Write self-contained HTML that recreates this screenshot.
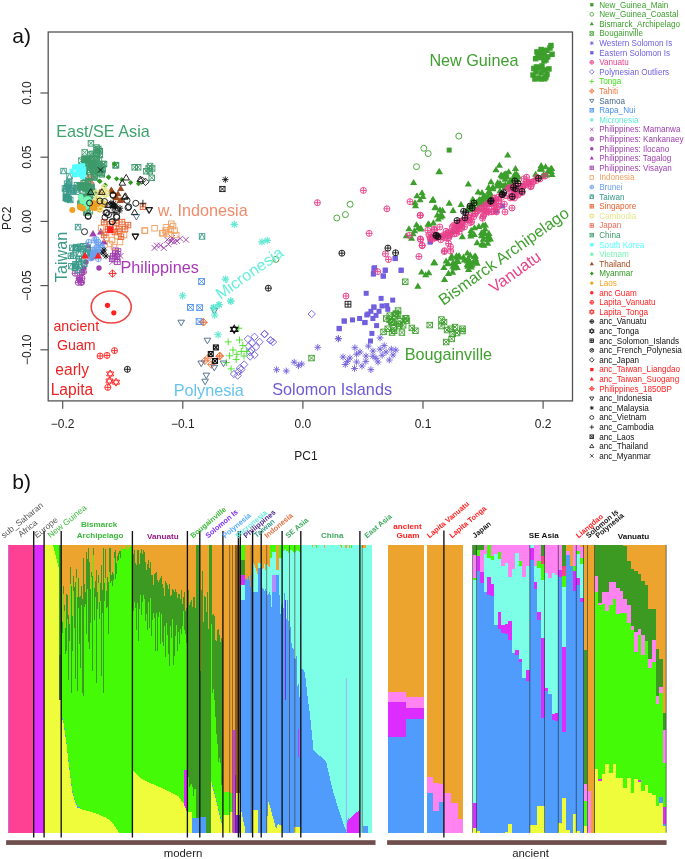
<!DOCTYPE html>
<html><head><meta charset="utf-8"><style>
html,body{margin:0;padding:0;background:#fff;}
svg{display:block;font-family:"Liberation Sans",sans-serif;will-change:transform;}
</style></head><body>
<svg width="685" height="859" viewBox="0 0 685 859">
<rect width="685" height="859" fill="#fff"/>
<g shape-rendering="crispEdges">
<rect x="8.2" y="545" width="0.9" height="287.8" fill="#c86ad8"/>
<rect x="9" y="545" width="1.1" height="287.8" fill="#ff4193"/>
<rect x="10" y="545" width="1.1" height="287.8" fill="#ff4193"/>
<rect x="11" y="545" width="1.1" height="287.8" fill="#ff4193"/>
<rect x="12" y="545" width="1.1" height="287.8" fill="#ff4193"/>
<rect x="13" y="545" width="1.1" height="287.8" fill="#ff4193"/>
<rect x="14" y="545" width="1.1" height="287.8" fill="#ff4193"/>
<rect x="15" y="545" width="1.1" height="287.8" fill="#ff4193"/>
<rect x="16" y="545" width="1.1" height="287.8" fill="#ff4193"/>
<rect x="17" y="545" width="1.1" height="287.8" fill="#ff4193"/>
<rect x="18" y="545" width="1.1" height="287.8" fill="#ff4193"/>
<rect x="19" y="545" width="1.1" height="287.8" fill="#ff4193"/>
<rect x="20" y="545" width="1.1" height="287.8" fill="#ff4193"/>
<rect x="21" y="545" width="1.1" height="287.8" fill="#ff4193"/>
<rect x="22" y="545" width="1.1" height="287.8" fill="#ff4193"/>
<rect x="23" y="545" width="1.1" height="287.8" fill="#ff4193"/>
<rect x="24" y="545" width="1.1" height="287.8" fill="#ff4193"/>
<rect x="25" y="545" width="1.1" height="287.8" fill="#ff4193"/>
<rect x="26" y="545" width="1.1" height="287.8" fill="#ff4193"/>
<rect x="27" y="545" width="1.1" height="287.8" fill="#ff4193"/>
<rect x="28" y="545" width="1.1" height="287.8" fill="#ff4193"/>
<rect x="29" y="545" width="1.1" height="287.8" fill="#ff4193"/>
<rect x="30" y="545" width="1.1" height="287.8" fill="#ff4193"/>
<rect x="31" y="545" width="1.1" height="287.8" fill="#ff4193"/>
<rect x="32" y="545" width="1.1" height="287.8" fill="#ff4193"/>
<rect x="33" y="545" width="1.1" height="287.8" fill="#ff4193"/>
<rect x="34" y="545" width="1.1" height="287.8" fill="#dc2cff"/>
<rect x="35" y="545" width="1.1" height="287.8" fill="#dc2cff"/>
<rect x="36" y="545" width="1.1" height="287.8" fill="#dc2cff"/>
<rect x="37" y="545" width="1.1" height="287.8" fill="#dc2cff"/>
<rect x="38" y="545" width="1.1" height="287.8" fill="#dc2cff"/>
<rect x="39" y="545" width="1.1" height="287.8" fill="#dc2cff"/>
<rect x="40" y="545" width="1.1" height="287.8" fill="#dc2cff"/>
<rect x="41" y="545" width="1.1" height="287.8" fill="#dc2cff"/>
<rect x="42" y="545" width="1.1" height="287.8" fill="#dc2cff"/>
<rect x="43" y="545" width="1.1" height="287.8" fill="#dc2cff"/>
<rect x="44" y="545" width="1.1" height="287.8" fill="#eefc3c"/>
<rect x="45" y="545" width="1.1" height="287.8" fill="#eefc3c"/>
<rect x="46" y="545" width="1.1" height="287.8" fill="#eefc3c"/>
<rect x="47" y="545" width="1.1" height="287.8" fill="#eefc3c"/>
<rect x="48" y="545" width="1.1" height="287.8" fill="#eefc3c"/>
<rect x="49" y="545" width="1.1" height="287.8" fill="#eefc3c"/>
<rect x="50" y="545" width="1.1" height="287.8" fill="#eefc3c"/>
<rect x="51" y="545" width="1.1" height="287.8" fill="#eefc3c"/>
<rect x="52" y="545" width="1.1" height="287.8" fill="#eefc3c"/>
<rect x="53" y="545" width="1.1" height="2.1" fill="#45fa06"/>
<rect x="53" y="547" width="1.1" height="285.7" fill="#eefc3c"/>
<rect x="54" y="545" width="1.1" height="6.1" fill="#45fa06"/>
<rect x="54" y="551" width="1.1" height="281.7" fill="#eefc3c"/>
<rect x="55" y="545" width="1.1" height="10.1" fill="#45fa06"/>
<rect x="55" y="555.1" width="1.1" height="277.7" fill="#eefc3c"/>
<rect x="56" y="545" width="1.1" height="14.2" fill="#45fa06"/>
<rect x="56" y="559.1" width="1.1" height="273.6" fill="#eefc3c"/>
<rect x="57" y="545" width="1.1" height="18.2" fill="#45fa06"/>
<rect x="57" y="563.1" width="1.1" height="269.6" fill="#eefc3c"/>
<rect x="58" y="545" width="1.1" height="22.2" fill="#45fa06"/>
<rect x="58" y="567.2" width="1.1" height="265.6" fill="#eefc3c"/>
<rect x="59" y="545" width="1.1" height="110" fill="#3c9a22"/>
<rect x="59" y="655" width="1.1" height="45" fill="#2f6a40"/>
<rect x="59" y="700" width="1.1" height="132.8" fill="#eefc3c"/>
<rect x="60" y="545" width="1.1" height="110" fill="#3c9a22"/>
<rect x="60" y="655" width="1.1" height="45" fill="#2f6a40"/>
<rect x="60" y="700" width="1.1" height="132.8" fill="#eefc3c"/>
<rect x="61" y="545" width="1.1" height="64" fill="#eca42e"/>
<rect x="61" y="609" width="1.1" height="19" fill="#3c9a22"/>
<rect x="61" y="628" width="1.1" height="88" fill="#45fa06"/>
<rect x="61" y="715.9" width="1.1" height="1.6" fill="#4f9cfc"/>
<rect x="61" y="717.4" width="1.1" height="115.3" fill="#eefc3c"/>
<rect x="62" y="545" width="1.1" height="77.3" fill="#eca42e"/>
<rect x="62" y="622.3" width="1.1" height="10.6" fill="#3c9a22"/>
<rect x="62" y="632.8" width="1.1" height="85.2" fill="#45fa06"/>
<rect x="62" y="718" width="1.1" height="1.6" fill="#4f9cfc"/>
<rect x="62" y="719.5" width="1.1" height="113.2" fill="#eefc3c"/>
<rect x="63" y="545" width="1.1" height="41.3" fill="#eca42e"/>
<rect x="63" y="586.2" width="1.1" height="7.8" fill="#3c9a22"/>
<rect x="63" y="593.9" width="1.1" height="127.6" fill="#45fa06"/>
<rect x="63" y="721.5" width="1.1" height="1.6" fill="#4f9cfc"/>
<rect x="63" y="723" width="1.1" height="109.7" fill="#eefc3c"/>
<rect x="64" y="545" width="1.1" height="60.1" fill="#eca42e"/>
<rect x="64" y="605" width="1.1" height="6.3" fill="#3c9a22"/>
<rect x="64" y="611.3" width="1.1" height="117.1" fill="#45fa06"/>
<rect x="64" y="728.3" width="1.1" height="1.6" fill="#4f9cfc"/>
<rect x="64" y="729.8" width="1.1" height="102.9" fill="#eefc3c"/>
<rect x="65" y="545" width="1.1" height="83.4" fill="#eca42e"/>
<rect x="65" y="628.3" width="1.1" height="25.8" fill="#3c9a22"/>
<rect x="65" y="654.1" width="1.1" height="81.1" fill="#45fa06"/>
<rect x="65" y="735.1" width="1.1" height="1.6" fill="#4f9cfc"/>
<rect x="65" y="736.6" width="1.1" height="96.1" fill="#eefc3c"/>
<rect x="66" y="545" width="1.1" height="49.3" fill="#eca42e"/>
<rect x="66" y="594.2" width="1.1" height="56.4" fill="#3c9a22"/>
<rect x="66" y="650.5" width="1.1" height="92.4" fill="#45fa06"/>
<rect x="66" y="742.8" width="1.1" height="1.6" fill="#4f9cfc"/>
<rect x="66" y="744.3" width="1.1" height="88.4" fill="#eefc3c"/>
<rect x="67" y="545" width="1.1" height="50.2" fill="#eca42e"/>
<rect x="67" y="595.1" width="1.1" height="24.3" fill="#3c9a22"/>
<rect x="67" y="619.4" width="1.1" height="132.2" fill="#45fa06"/>
<rect x="67" y="751.5" width="1.1" height="1.6" fill="#4f9cfc"/>
<rect x="67" y="753" width="1.1" height="79.7" fill="#eefc3c"/>
<rect x="68" y="545" width="1.1" height="70.1" fill="#eca42e"/>
<rect x="68" y="615.1" width="1.1" height="64.9" fill="#3c9a22"/>
<rect x="68" y="679.9" width="1.1" height="80.4" fill="#45fa06"/>
<rect x="68" y="760.2" width="1.1" height="1.6" fill="#4f9cfc"/>
<rect x="68" y="761.7" width="1.1" height="71" fill="#eefc3c"/>
<rect x="69" y="545" width="1.1" height="78.5" fill="#eca42e"/>
<rect x="69" y="623.5" width="1.1" height="17.5" fill="#3c9a22"/>
<rect x="69" y="640.9" width="1.1" height="127.5" fill="#45fa06"/>
<rect x="69" y="768.4" width="1.1" height="1.6" fill="#4f9cfc"/>
<rect x="69" y="769.9" width="1.1" height="62.9" fill="#eefc3c"/>
<rect x="70" y="545" width="1.1" height="22" fill="#eca42e"/>
<rect x="70" y="567" width="1.1" height="17.1" fill="#3c9a22"/>
<rect x="70" y="584" width="1.1" height="192.6" fill="#45fa06"/>
<rect x="70" y="776.5" width="1.1" height="1.6" fill="#4f9cfc"/>
<rect x="70" y="778" width="1.1" height="54.8" fill="#eefc3c"/>
<rect x="71" y="545" width="1.1" height="40.7" fill="#eca42e"/>
<rect x="71" y="585.6" width="1.1" height="107.3" fill="#3c9a22"/>
<rect x="71" y="692.8" width="1.1" height="91.7" fill="#45fa06"/>
<rect x="71" y="784.4" width="1.1" height="1.6" fill="#4f9cfc"/>
<rect x="71" y="785.9" width="1.1" height="46.8" fill="#eefc3c"/>
<rect x="72" y="545" width="1.1" height="71.1" fill="#eca42e"/>
<rect x="72" y="616.1" width="1.1" height="34.5" fill="#3c9a22"/>
<rect x="72" y="650.5" width="1.1" height="140.7" fill="#45fa06"/>
<rect x="72" y="791.1" width="1.1" height="1.6" fill="#4f9cfc"/>
<rect x="72" y="792.6" width="1.1" height="40.1" fill="#eefc3c"/>
<rect x="73" y="545" width="1.1" height="31" fill="#eca42e"/>
<rect x="73" y="576" width="1.1" height="15" fill="#3c9a22"/>
<rect x="73" y="590.9" width="1.1" height="204" fill="#45fa06"/>
<rect x="73" y="794.9" width="1.1" height="1.6" fill="#4f9cfc"/>
<rect x="73" y="796.4" width="1.1" height="36.4" fill="#eefc3c"/>
<rect x="74" y="545" width="1.1" height="41.9" fill="#eca42e"/>
<rect x="74" y="586.9" width="1.1" height="41.2" fill="#3c9a22"/>
<rect x="74" y="628.1" width="1.1" height="170.6" fill="#45fa06"/>
<rect x="74" y="798.6" width="1.1" height="1.6" fill="#4f9cfc"/>
<rect x="74" y="800.1" width="1.1" height="32.6" fill="#eefc3c"/>
<rect x="75" y="545" width="1.1" height="37.2" fill="#eca42e"/>
<rect x="75" y="582.1" width="1.1" height="96.5" fill="#3c9a22"/>
<rect x="75" y="678.6" width="1.1" height="123.1" fill="#45fa06"/>
<rect x="75" y="801.6" width="1.1" height="1.6" fill="#4f9cfc"/>
<rect x="75" y="803.1" width="1.1" height="29.7" fill="#eefc3c"/>
<rect x="76" y="545" width="1.1" height="24.1" fill="#eca42e"/>
<rect x="76" y="569" width="1.1" height="8.5" fill="#3c9a22"/>
<rect x="76" y="577.5" width="1.1" height="226.3" fill="#45fa06"/>
<rect x="76" y="803.8" width="1.1" height="1.6" fill="#4f9cfc"/>
<rect x="76" y="805.3" width="1.1" height="27.5" fill="#eefc3c"/>
<rect x="77" y="545" width="1.1" height="51.7" fill="#eca42e"/>
<rect x="77" y="596.7" width="1.1" height="94.2" fill="#3c9a22"/>
<rect x="77" y="690.8" width="1.1" height="115.2" fill="#45fa06"/>
<rect x="77" y="806" width="1.1" height="1.6" fill="#4f9cfc"/>
<rect x="77" y="807.5" width="1.1" height="25.3" fill="#eefc3c"/>
<rect x="78" y="545" width="1.1" height="32.5" fill="#eca42e"/>
<rect x="78" y="577.5" width="1.1" height="30.7" fill="#3c9a22"/>
<rect x="78" y="608.1" width="1.1" height="198.5" fill="#45fa06"/>
<rect x="78" y="806.5" width="1.1" height="1.6" fill="#4f9cfc"/>
<rect x="78" y="808" width="1.1" height="24.7" fill="#eefc3c"/>
<rect x="79" y="545" width="1.1" height="51.6" fill="#eca42e"/>
<rect x="79" y="596.5" width="1.1" height="47.2" fill="#3c9a22"/>
<rect x="79" y="643.7" width="1.1" height="163.2" fill="#45fa06"/>
<rect x="79" y="806.9" width="1.1" height="1.6" fill="#4f9cfc"/>
<rect x="79" y="808.4" width="1.1" height="24.4" fill="#eefc3c"/>
<rect x="80" y="545" width="1.1" height="50.9" fill="#eca42e"/>
<rect x="80" y="595.8" width="1.1" height="72.3" fill="#3c9a22"/>
<rect x="80" y="668.1" width="1.1" height="140.7" fill="#45fa06"/>
<rect x="80" y="808.7" width="1.1" height="24" fill="#eefc3c"/>
<rect x="81" y="545" width="1.1" height="40.5" fill="#eca42e"/>
<rect x="81" y="585.5" width="1.1" height="19.6" fill="#3c9a22"/>
<rect x="81" y="605" width="1.1" height="204.2" fill="#45fa06"/>
<rect x="81" y="809.1" width="1.1" height="23.6" fill="#eefc3c"/>
<rect x="82" y="545" width="1.1" height="53.9" fill="#eca42e"/>
<rect x="82" y="598.8" width="1.1" height="93.9" fill="#3c9a22"/>
<rect x="82" y="692.7" width="1.1" height="116.8" fill="#45fa06"/>
<rect x="82" y="809.5" width="1.1" height="23.3" fill="#eefc3c"/>
<rect x="83" y="545" width="1.1" height="13" fill="#eca42e"/>
<rect x="83" y="557.9" width="1.1" height="138.1" fill="#3c9a22"/>
<rect x="83" y="696" width="1.1" height="113.9" fill="#45fa06"/>
<rect x="83" y="809.8" width="1.1" height="22.9" fill="#eefc3c"/>
<rect x="84" y="545" width="1.1" height="39.2" fill="#eca42e"/>
<rect x="84" y="584.1" width="1.1" height="23.2" fill="#3c9a22"/>
<rect x="84" y="607.2" width="1.1" height="202.9" fill="#45fa06"/>
<rect x="84" y="810.1" width="1.1" height="22.6" fill="#eefc3c"/>
<rect x="85" y="545" width="1.1" height="46.9" fill="#eca42e"/>
<rect x="85" y="591.8" width="1.1" height="12.2" fill="#3c9a22"/>
<rect x="85" y="604" width="1.1" height="206.4" fill="#45fa06"/>
<rect x="85" y="810.3" width="1.1" height="22.4" fill="#eefc3c"/>
<rect x="86" y="545" width="1.1" height="7.2" fill="#eca42e"/>
<rect x="86" y="552.1" width="1.1" height="82" fill="#3c9a22"/>
<rect x="86" y="634" width="1.1" height="176.6" fill="#45fa06"/>
<rect x="86" y="810.6" width="1.1" height="22.2" fill="#eefc3c"/>
<rect x="87" y="545" width="1.1" height="13.8" fill="#eca42e"/>
<rect x="87" y="558.8" width="1.1" height="30.6" fill="#3c9a22"/>
<rect x="87" y="589.4" width="1.1" height="221.5" fill="#45fa06"/>
<rect x="87" y="810.8" width="1.1" height="22" fill="#eefc3c"/>
<rect x="88" y="545" width="1.1" height="3" fill="#eca42e"/>
<rect x="88" y="548" width="1.1" height="93.6" fill="#3c9a22"/>
<rect x="88" y="641.5" width="1.1" height="169.5" fill="#45fa06"/>
<rect x="88" y="811" width="1.1" height="21.8" fill="#eefc3c"/>
<rect x="89" y="545" width="1.1" height="17.3" fill="#eca42e"/>
<rect x="89" y="562.3" width="1.1" height="86.7" fill="#3c9a22"/>
<rect x="89" y="649" width="1.1" height="162.3" fill="#45fa06"/>
<rect x="89" y="811.2" width="1.1" height="21.5" fill="#eefc3c"/>
<rect x="90" y="545" width="1.1" height="43.9" fill="#eca42e"/>
<rect x="90" y="588.9" width="1.1" height="34.5" fill="#3c9a22"/>
<rect x="90" y="623.3" width="1.1" height="188.2" fill="#45fa06"/>
<rect x="90" y="811.5" width="1.1" height="21.3" fill="#eefc3c"/>
<rect x="91" y="545" width="1.1" height="26.9" fill="#eca42e"/>
<rect x="91" y="571.9" width="1.1" height="5.6" fill="#3c9a22"/>
<rect x="91" y="577.4" width="1.1" height="234.5" fill="#45fa06"/>
<rect x="91" y="811.8" width="1.1" height="20.9" fill="#eefc3c"/>
<rect x="92" y="545" width="1.1" height="30.9" fill="#eca42e"/>
<rect x="92" y="575.9" width="1.1" height="95.1" fill="#3c9a22"/>
<rect x="92" y="670.9" width="1.1" height="141.4" fill="#45fa06"/>
<rect x="92" y="812.2" width="1.1" height="20.5" fill="#eefc3c"/>
<rect x="93" y="545" width="1.1" height="3" fill="#eca42e"/>
<rect x="93" y="548" width="1.1" height="7.3" fill="#3c9a22"/>
<rect x="93" y="555.3" width="1.1" height="257.4" fill="#45fa06"/>
<rect x="93" y="812.6" width="1.1" height="20.2" fill="#eefc3c"/>
<rect x="94" y="545" width="1.1" height="42.9" fill="#eca42e"/>
<rect x="94" y="587.8" width="1.1" height="32.1" fill="#3c9a22"/>
<rect x="94" y="619.8" width="1.1" height="193.2" fill="#45fa06"/>
<rect x="94" y="813" width="1.1" height="19.8" fill="#eefc3c"/>
<rect x="95" y="545" width="1.1" height="36.2" fill="#eca42e"/>
<rect x="95" y="581.2" width="1.1" height="15.6" fill="#3c9a22"/>
<rect x="95" y="596.7" width="1.1" height="216.7" fill="#45fa06"/>
<rect x="95" y="813.3" width="1.1" height="19.4" fill="#eefc3c"/>
<rect x="96" y="545" width="1.1" height="25" fill="#eca42e"/>
<rect x="96" y="569.9" width="1.1" height="113.4" fill="#3c9a22"/>
<rect x="96" y="683.2" width="1.1" height="130.5" fill="#45fa06"/>
<rect x="96" y="813.7" width="1.1" height="19" fill="#eefc3c"/>
<rect x="97" y="545" width="1.1" height="47.5" fill="#eca42e"/>
<rect x="97" y="592.4" width="1.1" height="16.5" fill="#3c9a22"/>
<rect x="97" y="608.9" width="1.1" height="205.2" fill="#45fa06"/>
<rect x="97" y="814.1" width="1.1" height="18.7" fill="#eefc3c"/>
<rect x="98" y="545" width="1.1" height="30.4" fill="#eca42e"/>
<rect x="98" y="575.4" width="1.1" height="7.5" fill="#3c9a22"/>
<rect x="98" y="582.8" width="1.1" height="231.7" fill="#45fa06"/>
<rect x="98" y="814.4" width="1.1" height="18.3" fill="#eefc3c"/>
<rect x="99" y="545" width="1.1" height="57.3" fill="#eca42e"/>
<rect x="99" y="602.3" width="1.1" height="16.7" fill="#3c9a22"/>
<rect x="99" y="618.9" width="1.1" height="196" fill="#45fa06"/>
<rect x="99" y="814.8" width="1.1" height="17.9" fill="#eefc3c"/>
<rect x="100" y="545" width="1.1" height="37.5" fill="#eca42e"/>
<rect x="100" y="582.5" width="1.1" height="18.3" fill="#3c9a22"/>
<rect x="100" y="600.7" width="1.1" height="214.6" fill="#45fa06"/>
<rect x="100" y="815.2" width="1.1" height="17.5" fill="#eefc3c"/>
<rect x="101" y="545" width="1.1" height="19.7" fill="#eca42e"/>
<rect x="101" y="564.7" width="1.1" height="111.3" fill="#3c9a22"/>
<rect x="101" y="675.9" width="1.1" height="139.8" fill="#45fa06"/>
<rect x="101" y="815.6" width="1.1" height="17.1" fill="#eefc3c"/>
<rect x="102" y="545" width="1.1" height="44.8" fill="#eca42e"/>
<rect x="102" y="589.8" width="1.1" height="23.5" fill="#3c9a22"/>
<rect x="102" y="613.2" width="1.1" height="202.9" fill="#45fa06"/>
<rect x="102" y="816.1" width="1.1" height="16.7" fill="#eefc3c"/>
<rect x="103" y="545" width="1.1" height="3" fill="#eca42e"/>
<rect x="103" y="548" width="1.1" height="144.5" fill="#3c9a22"/>
<rect x="103" y="692.5" width="1.1" height="124.1" fill="#45fa06"/>
<rect x="103" y="816.5" width="1.1" height="16.3" fill="#eefc3c"/>
<rect x="104" y="545" width="1.1" height="37.7" fill="#eca42e"/>
<rect x="104" y="582.6" width="1.1" height="18.3" fill="#3c9a22"/>
<rect x="104" y="600.9" width="1.1" height="216.1" fill="#45fa06"/>
<rect x="104" y="816.9" width="1.1" height="15.8" fill="#eefc3c"/>
<rect x="105" y="545" width="1.1" height="4.3" fill="#eca42e"/>
<rect x="105" y="549.2" width="1.1" height="29.2" fill="#3c9a22"/>
<rect x="105" y="578.4" width="1.1" height="239" fill="#45fa06"/>
<rect x="105" y="817.4" width="1.1" height="15.4" fill="#eefc3c"/>
<rect x="106" y="545" width="1.1" height="46.3" fill="#eca42e"/>
<rect x="106" y="591.3" width="1.1" height="16.6" fill="#3c9a22"/>
<rect x="106" y="607.8" width="1.1" height="210" fill="#45fa06"/>
<rect x="106" y="817.8" width="1.1" height="15" fill="#eefc3c"/>
<rect x="107" y="545" width="1.1" height="31.6" fill="#eca42e"/>
<rect x="107" y="576.5" width="1.1" height="30.2" fill="#3c9a22"/>
<rect x="107" y="606.6" width="1.1" height="211.9" fill="#45fa06"/>
<rect x="107" y="818.5" width="1.1" height="14.3" fill="#eefc3c"/>
<rect x="108" y="545" width="1.1" height="37" fill="#eca42e"/>
<rect x="108" y="582" width="1.1" height="51.6" fill="#3c9a22"/>
<rect x="108" y="633.5" width="1.1" height="185.9" fill="#45fa06"/>
<rect x="108" y="819.4" width="1.1" height="13.4" fill="#eefc3c"/>
<rect x="109" y="545" width="1.1" height="3" fill="#eca42e"/>
<rect x="109" y="548" width="1.1" height="23.8" fill="#3c9a22"/>
<rect x="109" y="571.8" width="1.1" height="248.6" fill="#45fa06"/>
<rect x="109" y="820.3" width="1.1" height="12.4" fill="#eefc3c"/>
<rect x="110" y="545" width="1.1" height="3" fill="#eca42e"/>
<rect x="110" y="548" width="1.1" height="34.5" fill="#3c9a22"/>
<rect x="110" y="582.5" width="1.1" height="238.8" fill="#45fa06"/>
<rect x="110" y="821.2" width="1.1" height="11.5" fill="#eefc3c"/>
<rect x="111" y="545" width="1.1" height="30.1" fill="#eca42e"/>
<rect x="111" y="575" width="1.1" height="6.3" fill="#3c9a22"/>
<rect x="111" y="581.3" width="1.1" height="240.9" fill="#45fa06"/>
<rect x="111" y="822.2" width="1.1" height="10.6" fill="#eefc3c"/>
<rect x="112" y="545" width="1.1" height="27.1" fill="#eca42e"/>
<rect x="112" y="572" width="1.1" height="14.3" fill="#3c9a22"/>
<rect x="112" y="586.3" width="1.1" height="236.8" fill="#45fa06"/>
<rect x="112" y="823.1" width="1.1" height="9.7" fill="#eefc3c"/>
<rect x="113" y="545" width="1.1" height="28.9" fill="#eca42e"/>
<rect x="113" y="573.8" width="1.1" height="5.8" fill="#3c9a22"/>
<rect x="113" y="579.6" width="1.1" height="244.5" fill="#45fa06"/>
<rect x="113" y="824" width="1.1" height="8.8" fill="#eefc3c"/>
<rect x="114" y="545" width="1.1" height="6.7" fill="#eca42e"/>
<rect x="114" y="551.7" width="1.1" height="6.5" fill="#3c9a22"/>
<rect x="114" y="558.1" width="1.1" height="267.5" fill="#45fa06"/>
<rect x="114" y="825.5" width="1.1" height="7.2" fill="#eefc3c"/>
<rect x="115" y="545" width="1.1" height="5.1" fill="#eca42e"/>
<rect x="115" y="550" width="1.1" height="29.3" fill="#3c9a22"/>
<rect x="115" y="579.2" width="1.1" height="247.9" fill="#45fa06"/>
<rect x="115" y="827.1" width="1.1" height="5.7" fill="#eefc3c"/>
<rect x="116" y="545" width="1.1" height="17.8" fill="#eca42e"/>
<rect x="116" y="562.8" width="1.1" height="11" fill="#3c9a22"/>
<rect x="116" y="573.7" width="1.1" height="254.9" fill="#45fa06"/>
<rect x="116" y="828.6" width="1.1" height="4.1" fill="#eefc3c"/>
<rect x="117" y="545" width="1.1" height="10.9" fill="#eca42e"/>
<rect x="117" y="555.8" width="1.1" height="4.8" fill="#3c9a22"/>
<rect x="117" y="560.5" width="1.1" height="269.7" fill="#45fa06"/>
<rect x="117" y="830.2" width="1.1" height="2.5" fill="#eefc3c"/>
<rect x="118" y="545" width="1.1" height="8.1" fill="#eca42e"/>
<rect x="118" y="553.1" width="1.1" height="7.2" fill="#3c9a22"/>
<rect x="118" y="560.2" width="1.1" height="271.7" fill="#45fa06"/>
<rect x="118" y="831.9" width="1.1" height="0.9" fill="#eefc3c"/>
<rect x="119" y="545" width="1.1" height="5.6" fill="#eca42e"/>
<rect x="119" y="550.5" width="1.1" height="3.5" fill="#3c9a22"/>
<rect x="119" y="554" width="1.1" height="278.8" fill="#45fa06"/>
<rect x="120" y="545" width="1.1" height="5.8" fill="#eca42e"/>
<rect x="120" y="550.7" width="1.1" height="7" fill="#3c9a22"/>
<rect x="120" y="557.7" width="1.1" height="275.1" fill="#45fa06"/>
<rect x="121" y="545" width="1.1" height="2.3" fill="#eca42e"/>
<rect x="121" y="547.2" width="1.1" height="285.5" fill="#45fa06"/>
<rect x="122" y="545" width="1.1" height="3.7" fill="#eca42e"/>
<rect x="122" y="548.6" width="1.1" height="284.1" fill="#45fa06"/>
<rect x="123" y="545" width="1.1" height="3.7" fill="#eca42e"/>
<rect x="123" y="548.6" width="1.1" height="284.1" fill="#45fa06"/>
<rect x="124" y="545" width="1.1" height="1.7" fill="#eca42e"/>
<rect x="124" y="546.7" width="1.1" height="286.1" fill="#45fa06"/>
<rect x="125" y="545" width="1.1" height="3.8" fill="#eca42e"/>
<rect x="125" y="548.7" width="1.1" height="284" fill="#45fa06"/>
<rect x="126" y="545" width="1.1" height="287.8" fill="#45fa06"/>
<rect x="127" y="545" width="1.1" height="5.3" fill="#eca42e"/>
<rect x="127" y="550.3" width="1.1" height="282.5" fill="#45fa06"/>
<rect x="128" y="545" width="1.1" height="3.9" fill="#eca42e"/>
<rect x="128" y="548.9" width="1.1" height="283.9" fill="#45fa06"/>
<rect x="129" y="545" width="1.1" height="1.7" fill="#eca42e"/>
<rect x="129" y="546.6" width="1.1" height="286.1" fill="#45fa06"/>
<rect x="130" y="545" width="1.1" height="0.8" fill="#eca42e"/>
<rect x="130" y="545.7" width="1.1" height="287" fill="#45fa06"/>
<rect x="131" y="545" width="1.1" height="287.8" fill="#45fa06"/>
<rect x="132" y="545" width="1.1" height="4.7" fill="#eca42e"/>
<rect x="132" y="549.6" width="1.1" height="46.9" fill="#3c9a22"/>
<rect x="132" y="596.5" width="1.1" height="173.5" fill="#45fa06"/>
<rect x="132" y="770" width="1.1" height="62.8" fill="#eefc3c"/>
<rect x="133" y="545" width="1.1" height="9.3" fill="#eca42e"/>
<rect x="133" y="554.3" width="1.1" height="56.5" fill="#3c9a22"/>
<rect x="133" y="610.7" width="1.1" height="160.2" fill="#45fa06"/>
<rect x="133" y="770.9" width="1.1" height="61.9" fill="#eefc3c"/>
<rect x="134" y="545" width="1.1" height="4.8" fill="#eca42e"/>
<rect x="134" y="549.7" width="1.1" height="51.9" fill="#3c9a22"/>
<rect x="134" y="601.5" width="1.1" height="170.4" fill="#45fa06"/>
<rect x="134" y="771.9" width="1.1" height="60.8" fill="#eefc3c"/>
<rect x="135" y="545" width="1.1" height="17.8" fill="#eca42e"/>
<rect x="135" y="562.8" width="1.1" height="44.9" fill="#3c9a22"/>
<rect x="135" y="607.6" width="1.1" height="165.3" fill="#45fa06"/>
<rect x="135" y="772.9" width="1.1" height="59.8" fill="#eefc3c"/>
<rect x="136" y="545" width="1.1" height="20.4" fill="#eca42e"/>
<rect x="136" y="565.3" width="1.1" height="64.6" fill="#3c9a22"/>
<rect x="136" y="629.9" width="1.1" height="144.1" fill="#45fa06"/>
<rect x="136" y="773.9" width="1.1" height="58.8" fill="#eefc3c"/>
<rect x="137" y="545" width="1.1" height="5.4" fill="#eca42e"/>
<rect x="137" y="550.3" width="1.1" height="53" fill="#3c9a22"/>
<rect x="137" y="603.3" width="1.1" height="171.7" fill="#45fa06"/>
<rect x="137" y="775" width="1.1" height="57.8" fill="#eefc3c"/>
<rect x="138" y="545" width="1.1" height="4.9" fill="#eca42e"/>
<rect x="138" y="549.8" width="1.1" height="90.8" fill="#3c9a22"/>
<rect x="138" y="640.6" width="1.1" height="135.4" fill="#45fa06"/>
<rect x="138" y="776" width="1.1" height="56.8" fill="#eefc3c"/>
<rect x="139" y="545" width="1.1" height="19.4" fill="#eca42e"/>
<rect x="139" y="564.4" width="1.1" height="44.4" fill="#3c9a22"/>
<rect x="139" y="608.7" width="1.1" height="168.3" fill="#45fa06"/>
<rect x="139" y="777" width="1.1" height="55.8" fill="#eefc3c"/>
<rect x="140" y="545" width="1.1" height="7.7" fill="#eca42e"/>
<rect x="140" y="552.7" width="1.1" height="42.6" fill="#3c9a22"/>
<rect x="140" y="595.2" width="1.1" height="182.8" fill="#45fa06"/>
<rect x="140" y="778" width="1.1" height="54.8" fill="#eefc3c"/>
<rect x="141" y="545" width="1.1" height="4.3" fill="#eca42e"/>
<rect x="141" y="549.2" width="1.1" height="65.6" fill="#3c9a22"/>
<rect x="141" y="614.8" width="1.1" height="163.7" fill="#45fa06"/>
<rect x="141" y="778.5" width="1.1" height="54.3" fill="#eefc3c"/>
<rect x="142" y="545" width="1.1" height="9" fill="#eca42e"/>
<rect x="142" y="554" width="1.1" height="48.2" fill="#3c9a22"/>
<rect x="142" y="602.2" width="1.1" height="176.9" fill="#45fa06"/>
<rect x="142" y="779" width="1.1" height="53.8" fill="#eefc3c"/>
<rect x="143" y="545" width="1.1" height="5" fill="#eca42e"/>
<rect x="143" y="550" width="1.1" height="45.3" fill="#3c9a22"/>
<rect x="143" y="595.3" width="1.1" height="184.3" fill="#45fa06"/>
<rect x="143" y="779.5" width="1.1" height="53.3" fill="#eefc3c"/>
<rect x="144" y="545" width="1.1" height="6.8" fill="#eca42e"/>
<rect x="144" y="551.7" width="1.1" height="47.8" fill="#3c9a22"/>
<rect x="144" y="599.4" width="1.1" height="180.6" fill="#45fa06"/>
<rect x="144" y="780" width="1.1" height="52.8" fill="#eefc3c"/>
<rect x="145" y="545" width="1.1" height="16.6" fill="#eca42e"/>
<rect x="145" y="561.6" width="1.1" height="59.5" fill="#3c9a22"/>
<rect x="145" y="621" width="1.1" height="159.5" fill="#45fa06"/>
<rect x="145" y="780.5" width="1.1" height="52.3" fill="#eefc3c"/>
<rect x="146" y="545" width="1.1" height="25.4" fill="#eca42e"/>
<rect x="146" y="570.3" width="1.1" height="43.2" fill="#3c9a22"/>
<rect x="146" y="613.5" width="1.1" height="167.5" fill="#45fa06"/>
<rect x="146" y="781" width="1.1" height="51.8" fill="#eefc3c"/>
<rect x="147" y="545" width="1.1" height="19.4" fill="#eca42e"/>
<rect x="147" y="564.4" width="1.1" height="65.5" fill="#3c9a22"/>
<rect x="147" y="629.8" width="1.1" height="151.7" fill="#45fa06"/>
<rect x="147" y="781.5" width="1.1" height="51.3" fill="#eefc3c"/>
<rect x="148" y="545" width="1.1" height="15.4" fill="#eca42e"/>
<rect x="148" y="560.4" width="1.1" height="41.7" fill="#3c9a22"/>
<rect x="148" y="602" width="1.1" height="180" fill="#45fa06"/>
<rect x="148" y="782" width="1.1" height="50.8" fill="#eefc3c"/>
<rect x="149" y="545" width="1.1" height="23.3" fill="#eca42e"/>
<rect x="149" y="568.2" width="1.1" height="59.9" fill="#3c9a22"/>
<rect x="149" y="628.1" width="1.1" height="154.4" fill="#45fa06"/>
<rect x="149" y="782.5" width="1.1" height="50.3" fill="#eefc3c"/>
<rect x="150" y="545" width="1.1" height="16.8" fill="#eca42e"/>
<rect x="150" y="561.8" width="1.1" height="36.3" fill="#3c9a22"/>
<rect x="150" y="598" width="1.1" height="185" fill="#45fa06"/>
<rect x="150" y="783" width="1.1" height="49.8" fill="#eefc3c"/>
<rect x="151" y="545" width="1.1" height="29.7" fill="#eca42e"/>
<rect x="151" y="574.6" width="1.1" height="61" fill="#3c9a22"/>
<rect x="151" y="635.6" width="1.1" height="148" fill="#45fa06"/>
<rect x="151" y="783.5" width="1.1" height="49.3" fill="#eefc3c"/>
<rect x="152" y="545" width="1.1" height="30.2" fill="#eca42e"/>
<rect x="152" y="575.1" width="1.1" height="44.9" fill="#3c9a22"/>
<rect x="152" y="620" width="1.1" height="164" fill="#45fa06"/>
<rect x="152" y="784" width="1.1" height="48.8" fill="#eefc3c"/>
<rect x="153" y="545" width="1.1" height="39.8" fill="#eca42e"/>
<rect x="153" y="584.7" width="1.1" height="27.8" fill="#3c9a22"/>
<rect x="153" y="612.5" width="1.1" height="172" fill="#45fa06"/>
<rect x="153" y="784.4" width="1.1" height="48.3" fill="#eefc3c"/>
<rect x="154" y="545" width="1.1" height="29.4" fill="#eca42e"/>
<rect x="154" y="574.4" width="1.1" height="43.8" fill="#3c9a22"/>
<rect x="154" y="618.1" width="1.1" height="166.8" fill="#45fa06"/>
<rect x="154" y="784.9" width="1.1" height="47.9" fill="#eefc3c"/>
<rect x="155" y="545" width="1.1" height="27.6" fill="#eca42e"/>
<rect x="155" y="572.5" width="1.1" height="78" fill="#3c9a22"/>
<rect x="155" y="650.5" width="1.1" height="134.8" fill="#45fa06"/>
<rect x="155" y="785.3" width="1.1" height="47.5" fill="#eefc3c"/>
<rect x="156" y="545" width="1.1" height="27.1" fill="#eca42e"/>
<rect x="156" y="572" width="1.1" height="41.2" fill="#3c9a22"/>
<rect x="156" y="613.2" width="1.1" height="172.6" fill="#45fa06"/>
<rect x="156" y="785.7" width="1.1" height="47" fill="#eefc3c"/>
<rect x="157" y="545" width="1.1" height="34.6" fill="#eca42e"/>
<rect x="157" y="579.6" width="1.1" height="71.5" fill="#3c9a22"/>
<rect x="157" y="651" width="1.1" height="135.2" fill="#45fa06"/>
<rect x="157" y="786.1" width="1.1" height="46.6" fill="#eefc3c"/>
<rect x="158" y="545" width="1.1" height="36.8" fill="#eca42e"/>
<rect x="158" y="581.7" width="1.1" height="35.8" fill="#3c9a22"/>
<rect x="158" y="617.4" width="1.1" height="169.2" fill="#45fa06"/>
<rect x="158" y="786.6" width="1.1" height="46.2" fill="#eefc3c"/>
<rect x="159" y="545" width="1.1" height="34.6" fill="#eca42e"/>
<rect x="159" y="579.6" width="1.1" height="32.4" fill="#3c9a22"/>
<rect x="159" y="611.9" width="1.1" height="175.2" fill="#45fa06"/>
<rect x="159" y="787" width="1.1" height="45.8" fill="#eefc3c"/>
<rect x="160" y="545" width="1.1" height="32.8" fill="#eca42e"/>
<rect x="160" y="577.8" width="1.1" height="66" fill="#3c9a22"/>
<rect x="160" y="643.7" width="1.1" height="143.7" fill="#45fa06"/>
<rect x="160" y="787.4" width="1.1" height="45.3" fill="#eefc3c"/>
<rect x="161" y="545" width="1.1" height="31.2" fill="#eca42e"/>
<rect x="161" y="576.2" width="1.1" height="37.9" fill="#3c9a22"/>
<rect x="161" y="614" width="1.1" height="173.9" fill="#45fa06"/>
<rect x="161" y="787.9" width="1.1" height="44.9" fill="#eefc3c"/>
<rect x="162" y="545" width="1.1" height="39.5" fill="#eca42e"/>
<rect x="162" y="584.4" width="1.1" height="57.5" fill="#3c9a22"/>
<rect x="162" y="641.9" width="1.1" height="146.4" fill="#45fa06"/>
<rect x="162" y="788.3" width="1.1" height="44.5" fill="#eefc3c"/>
<rect x="163" y="545" width="1.1" height="43.3" fill="#eca42e"/>
<rect x="163" y="588.3" width="1.1" height="57.8" fill="#3c9a22"/>
<rect x="163" y="646" width="1.1" height="142.8" fill="#45fa06"/>
<rect x="163" y="788.7" width="1.1" height="44" fill="#eefc3c"/>
<rect x="164" y="545" width="1.1" height="50.7" fill="#eca42e"/>
<rect x="164" y="595.6" width="1.1" height="30.4" fill="#3c9a22"/>
<rect x="164" y="626" width="1.1" height="163.2" fill="#45fa06"/>
<rect x="164" y="789.1" width="1.1" height="43.6" fill="#eefc3c"/>
<rect x="165" y="545" width="1.1" height="36.5" fill="#eca42e"/>
<rect x="165" y="581.4" width="1.1" height="75.6" fill="#3c9a22"/>
<rect x="165" y="657" width="1.1" height="132.7" fill="#45fa06"/>
<rect x="165" y="789.6" width="1.1" height="43.2" fill="#eefc3c"/>
<rect x="166" y="545" width="1.1" height="37.7" fill="#eca42e"/>
<rect x="166" y="582.6" width="1.1" height="40.1" fill="#3c9a22"/>
<rect x="166" y="622.7" width="1.1" height="167.4" fill="#45fa06"/>
<rect x="166" y="790.1" width="1.1" height="42.7" fill="#eefc3c"/>
<rect x="167" y="545" width="1.1" height="39.6" fill="#eca42e"/>
<rect x="167" y="584.6" width="1.1" height="50.2" fill="#3c9a22"/>
<rect x="167" y="634.7" width="1.1" height="155.9" fill="#45fa06"/>
<rect x="167" y="790.6" width="1.1" height="42.2" fill="#eefc3c"/>
<rect x="168" y="545" width="1.1" height="44.1" fill="#eca42e"/>
<rect x="168" y="589" width="1.1" height="65.1" fill="#3c9a22"/>
<rect x="168" y="654" width="1.1" height="137.1" fill="#45fa06"/>
<rect x="168" y="791.1" width="1.1" height="41.7" fill="#eefc3c"/>
<rect x="169" y="545" width="1.1" height="39.1" fill="#eca42e"/>
<rect x="169" y="584.1" width="1.1" height="81.5" fill="#3c9a22"/>
<rect x="169" y="665.5" width="1.1" height="126.1" fill="#45fa06"/>
<rect x="169" y="791.6" width="1.1" height="41.2" fill="#eefc3c"/>
<rect x="170" y="545" width="1.1" height="51.1" fill="#eca42e"/>
<rect x="170" y="596" width="1.1" height="29.8" fill="#3c9a22"/>
<rect x="170" y="625.7" width="1.1" height="166.4" fill="#45fa06"/>
<rect x="170" y="792.1" width="1.1" height="40.7" fill="#eefc3c"/>
<rect x="171" y="545" width="1.1" height="50.2" fill="#eca42e"/>
<rect x="171" y="595.1" width="1.1" height="42.9" fill="#3c9a22"/>
<rect x="171" y="638" width="1.1" height="154.6" fill="#45fa06"/>
<rect x="171" y="792.6" width="1.1" height="40.2" fill="#eefc3c"/>
<rect x="172" y="545" width="1.1" height="43.7" fill="#eca42e"/>
<rect x="172" y="588.7" width="1.1" height="29.9" fill="#3c9a22"/>
<rect x="172" y="618.5" width="1.1" height="174.6" fill="#45fa06"/>
<rect x="172" y="793.1" width="1.1" height="39.7" fill="#eefc3c"/>
<rect x="173" y="545" width="1.1" height="45" fill="#eca42e"/>
<rect x="173" y="590" width="1.1" height="75.1" fill="#3c9a22"/>
<rect x="173" y="665" width="1.1" height="128.6" fill="#45fa06"/>
<rect x="173" y="793.6" width="1.1" height="39.2" fill="#eefc3c"/>
<rect x="174" y="545" width="1.1" height="47.1" fill="#eca42e"/>
<rect x="174" y="592.1" width="1.1" height="63.5" fill="#3c9a22"/>
<rect x="174" y="655.5" width="1.1" height="138.6" fill="#45fa06"/>
<rect x="174" y="794" width="1.1" height="38.7" fill="#eefc3c"/>
<rect x="175" y="545" width="1.1" height="44.5" fill="#eca42e"/>
<rect x="175" y="589.4" width="1.1" height="46.2" fill="#3c9a22"/>
<rect x="175" y="635.6" width="1.1" height="159" fill="#45fa06"/>
<rect x="175" y="794.5" width="1.1" height="38.2" fill="#eefc3c"/>
<rect x="176" y="545" width="1.1" height="46.5" fill="#eca42e"/>
<rect x="176" y="591.5" width="1.1" height="33.4" fill="#3c9a22"/>
<rect x="176" y="624.8" width="1.1" height="170.3" fill="#45fa06"/>
<rect x="176" y="795" width="1.1" height="37.7" fill="#eefc3c"/>
<rect x="177" y="545" width="1.1" height="52.8" fill="#eca42e"/>
<rect x="177" y="597.8" width="1.1" height="53.6" fill="#3c9a22"/>
<rect x="177" y="651.3" width="1.1" height="144.3" fill="#45fa06"/>
<rect x="177" y="795.5" width="1.1" height="37.2" fill="#eefc3c"/>
<rect x="178" y="545" width="1.1" height="49.4" fill="#eca42e"/>
<rect x="178" y="594.3" width="1.1" height="37.3" fill="#3c9a22"/>
<rect x="178" y="631.6" width="1.1" height="164.6" fill="#45fa06"/>
<rect x="178" y="796.1" width="1.1" height="36.6" fill="#eefc3c"/>
<rect x="179" y="545" width="1.1" height="49.2" fill="#eca42e"/>
<rect x="179" y="594.2" width="1.1" height="49.8" fill="#3c9a22"/>
<rect x="179" y="643.9" width="1.1" height="153.7" fill="#45fa06"/>
<rect x="179" y="797.6" width="1.1" height="35.2" fill="#eefc3c"/>
<rect x="180" y="545" width="1.1" height="54" fill="#eca42e"/>
<rect x="180" y="599" width="1.1" height="29.7" fill="#3c9a22"/>
<rect x="180" y="628.6" width="1.1" height="170.5" fill="#45fa06"/>
<rect x="180" y="799.1" width="1.1" height="33.7" fill="#eefc3c"/>
<rect x="181" y="545" width="1.1" height="45.3" fill="#eca42e"/>
<rect x="181" y="590.3" width="1.1" height="43.4" fill="#3c9a22"/>
<rect x="181" y="633.6" width="1.1" height="166.9" fill="#45fa06"/>
<rect x="181" y="800.5" width="1.1" height="32.2" fill="#eefc3c"/>
<rect x="182" y="545" width="1.1" height="58.8" fill="#eca42e"/>
<rect x="182" y="603.8" width="1.1" height="21.8" fill="#3c9a22"/>
<rect x="182" y="625.6" width="1.1" height="176.5" fill="#45fa06"/>
<rect x="182" y="802" width="1.1" height="30.8" fill="#eefc3c"/>
<rect x="183" y="545" width="1.1" height="52.5" fill="#eca42e"/>
<rect x="183" y="597.4" width="1.1" height="13.5" fill="#3c9a22"/>
<rect x="183" y="610.9" width="1.1" height="192.6" fill="#45fa06"/>
<rect x="183" y="803.4" width="1.1" height="29.3" fill="#eefc3c"/>
<rect x="184" y="545" width="1.1" height="46.9" fill="#eca42e"/>
<rect x="184" y="591.8" width="1.1" height="38.6" fill="#3c9a22"/>
<rect x="184" y="630.3" width="1.1" height="139.7" fill="#45fa06"/>
<rect x="184" y="770" width="1.1" height="35.7" fill="#dc2cff"/>
<rect x="184" y="805.6" width="1.1" height="27.1" fill="#eefc3c"/>
<rect x="185" y="545" width="1.1" height="66.3" fill="#eca42e"/>
<rect x="185" y="611.2" width="1.1" height="22.5" fill="#3c9a22"/>
<rect x="185" y="633.7" width="1.1" height="136.4" fill="#45fa06"/>
<rect x="185" y="770" width="1.1" height="38.4" fill="#dc2cff"/>
<rect x="185" y="808.4" width="1.1" height="24.4" fill="#eefc3c"/>
<rect x="186" y="545" width="1.1" height="63.1" fill="#eca42e"/>
<rect x="186" y="608" width="1.1" height="35.3" fill="#3c9a22"/>
<rect x="186" y="643.2" width="1.1" height="126.8" fill="#45fa06"/>
<rect x="186" y="770" width="1.1" height="41.2" fill="#dc2cff"/>
<rect x="186" y="811.1" width="1.1" height="21.6" fill="#eefc3c"/>
<rect x="187" y="545" width="1.1" height="47.6" fill="#eca42e"/>
<rect x="187" y="592.5" width="1.1" height="189.3" fill="#3c9a22"/>
<rect x="187" y="781.7" width="1.1" height="30.3" fill="#45fa06"/>
<rect x="187" y="812" width="1.1" height="20.8" fill="#eefc3c"/>
<rect x="188" y="545" width="1.1" height="44.9" fill="#eca42e"/>
<rect x="188" y="589.8" width="1.1" height="187.4" fill="#3c9a22"/>
<rect x="188" y="777.2" width="1.1" height="34.8" fill="#45fa06"/>
<rect x="188" y="812" width="1.1" height="20.8" fill="#eefc3c"/>
<rect x="189" y="545" width="1.1" height="60.4" fill="#eca42e"/>
<rect x="189" y="605.4" width="1.1" height="182.1" fill="#3c9a22"/>
<rect x="189" y="787.4" width="1.1" height="24.6" fill="#45fa06"/>
<rect x="189" y="812" width="1.1" height="20.8" fill="#eefc3c"/>
<rect x="190" y="545" width="1.1" height="57.4" fill="#eca42e"/>
<rect x="190" y="602.4" width="1.1" height="182.8" fill="#3c9a22"/>
<rect x="190" y="785.1" width="1.1" height="27" fill="#45fa06"/>
<rect x="190" y="812" width="1.1" height="20.8" fill="#eefc3c"/>
<rect x="191" y="545" width="1.1" height="55.2" fill="#eca42e"/>
<rect x="191" y="600.2" width="1.1" height="183.6" fill="#3c9a22"/>
<rect x="191" y="783.7" width="1.1" height="28.3" fill="#45fa06"/>
<rect x="191" y="812" width="1.1" height="20.8" fill="#eefc3c"/>
<rect x="192" y="545" width="1.1" height="61.8" fill="#eca42e"/>
<rect x="192" y="606.7" width="1.1" height="180" fill="#3c9a22"/>
<rect x="192" y="786.7" width="1.1" height="31.3" fill="#45fa06"/>
<rect x="192" y="818" width="1.1" height="14.8" fill="#4f9cfc"/>
<rect x="193" y="545" width="1.1" height="52" fill="#eca42e"/>
<rect x="193" y="596.9" width="1.1" height="199" fill="#3c9a22"/>
<rect x="193" y="795.9" width="1.1" height="22.1" fill="#45fa06"/>
<rect x="193" y="818" width="1.1" height="14.8" fill="#4f9cfc"/>
<rect x="194" y="545" width="1.1" height="52" fill="#eca42e"/>
<rect x="194" y="597" width="1.1" height="191.9" fill="#3c9a22"/>
<rect x="194" y="788.8" width="1.1" height="29.2" fill="#45fa06"/>
<rect x="194" y="818" width="1.1" height="14.8" fill="#4f9cfc"/>
<rect x="195" y="545" width="1.1" height="62.6" fill="#eca42e"/>
<rect x="195" y="607.5" width="1.1" height="181.5" fill="#3c9a22"/>
<rect x="195" y="789" width="1.1" height="29.1" fill="#45fa06"/>
<rect x="195" y="818" width="1.1" height="14.8" fill="#4f9cfc"/>
<rect x="196" y="545" width="1.1" height="273.1" fill="#3c9a22"/>
<rect x="196" y="818" width="1.1" height="14.8" fill="#4f9cfc"/>
<rect x="197" y="545" width="1.1" height="273.1" fill="#3c9a22"/>
<rect x="197" y="818" width="1.1" height="14.8" fill="#4f9cfc"/>
<rect x="198" y="545" width="1.1" height="273.1" fill="#3c9a22"/>
<rect x="198" y="818" width="1.1" height="14.8" fill="#4f9cfc"/>
<rect x="199" y="545" width="1.1" height="273.1" fill="#3c9a22"/>
<rect x="199" y="818" width="1.1" height="14.8" fill="#4f9cfc"/>
<rect x="200" y="545" width="1.1" height="126" fill="#eca42e"/>
<rect x="200" y="671" width="1.1" height="146.1" fill="#3c9a22"/>
<rect x="200" y="817" width="1.1" height="15.8" fill="#4f9cfc"/>
<rect x="201" y="545" width="1.1" height="44.9" fill="#eca42e"/>
<rect x="201" y="589.8" width="1.1" height="227.2" fill="#3c9a22"/>
<rect x="201" y="817" width="1.1" height="15.8" fill="#4f9cfc"/>
<rect x="202" y="545" width="1.1" height="26" fill="#eca42e"/>
<rect x="202" y="570.9" width="1.1" height="246.1" fill="#3c9a22"/>
<rect x="202" y="817" width="1.1" height="15.8" fill="#4f9cfc"/>
<rect x="203" y="545" width="1.1" height="77.1" fill="#eca42e"/>
<rect x="203" y="622.1" width="1.1" height="195" fill="#3c9a22"/>
<rect x="203" y="817" width="1.1" height="15.8" fill="#4f9cfc"/>
<rect x="204" y="545" width="1.1" height="50.7" fill="#eca42e"/>
<rect x="204" y="595.6" width="1.1" height="221.4" fill="#3c9a22"/>
<rect x="204" y="817" width="1.1" height="15.8" fill="#4f9cfc"/>
<rect x="205" y="545" width="1.1" height="52.2" fill="#eca42e"/>
<rect x="205" y="597.2" width="1.1" height="219.9" fill="#3c9a22"/>
<rect x="205" y="817" width="1.1" height="15.8" fill="#4f9cfc"/>
<rect x="206" y="545" width="1.1" height="67.4" fill="#eca42e"/>
<rect x="206" y="612.3" width="1.1" height="220.4" fill="#3c9a22"/>
<rect x="207" y="545" width="1.1" height="47.2" fill="#eca42e"/>
<rect x="207" y="592.1" width="1.1" height="240.6" fill="#3c9a22"/>
<rect x="208" y="545" width="1.1" height="84.2" fill="#eca42e"/>
<rect x="208" y="629.2" width="1.1" height="203.6" fill="#3c9a22"/>
<rect x="209" y="545" width="1.1" height="287.8" fill="#3c9a22"/>
<rect x="210" y="545" width="1.1" height="287.8" fill="#3c9a22"/>
<rect x="211" y="545" width="1.1" height="79" fill="#3c9a22"/>
<rect x="211" y="624" width="1.1" height="158.1" fill="#45fa06"/>
<rect x="211" y="782" width="1.1" height="50.8" fill="#eefc3c"/>
<rect x="212" y="545" width="1.1" height="69.9" fill="#eca42e"/>
<rect x="212" y="614.8" width="1.1" height="78.5" fill="#3c9a22"/>
<rect x="212" y="693.2" width="1.1" height="92" fill="#45fa06"/>
<rect x="212" y="785.2" width="1.1" height="1.6" fill="#4f9cfc"/>
<rect x="212" y="786.7" width="1.1" height="46" fill="#eefc3c"/>
<rect x="213" y="545" width="1.1" height="69.3" fill="#eca42e"/>
<rect x="213" y="614.2" width="1.1" height="74.7" fill="#3c9a22"/>
<rect x="213" y="688.9" width="1.1" height="100.2" fill="#45fa06"/>
<rect x="213" y="789" width="1.1" height="1.6" fill="#4f9cfc"/>
<rect x="213" y="790.5" width="1.1" height="42.3" fill="#eefc3c"/>
<rect x="214" y="545" width="1.1" height="71" fill="#eca42e"/>
<rect x="214" y="616" width="1.1" height="83.9" fill="#3c9a22"/>
<rect x="214" y="699.8" width="1.1" height="93" fill="#45fa06"/>
<rect x="214" y="792.8" width="1.1" height="1.6" fill="#4f9cfc"/>
<rect x="214" y="794.3" width="1.1" height="38.5" fill="#eefc3c"/>
<rect x="215" y="545" width="1.1" height="94.9" fill="#eca42e"/>
<rect x="215" y="639.9" width="1.1" height="77.5" fill="#3c9a22"/>
<rect x="215" y="717.3" width="1.1" height="79.3" fill="#45fa06"/>
<rect x="215" y="796.6" width="1.1" height="1.6" fill="#4f9cfc"/>
<rect x="215" y="798.1" width="1.1" height="34.7" fill="#eefc3c"/>
<rect x="216" y="545" width="1.1" height="96.2" fill="#eca42e"/>
<rect x="216" y="641.1" width="1.1" height="92.4" fill="#3c9a22"/>
<rect x="216" y="733.5" width="1.1" height="67.1" fill="#45fa06"/>
<rect x="216" y="800.6" width="1.1" height="1.6" fill="#4f9cfc"/>
<rect x="216" y="802.1" width="1.1" height="30.6" fill="#eefc3c"/>
<rect x="217" y="545" width="1.1" height="85.2" fill="#eca42e"/>
<rect x="217" y="630.2" width="1.1" height="114.2" fill="#3c9a22"/>
<rect x="217" y="744.4" width="1.1" height="60.5" fill="#45fa06"/>
<rect x="217" y="804.8" width="1.1" height="1.6" fill="#4f9cfc"/>
<rect x="217" y="806.3" width="1.1" height="26.4" fill="#eefc3c"/>
<rect x="218" y="545" width="1.1" height="84.1" fill="#eca42e"/>
<rect x="218" y="629.1" width="1.1" height="132.8" fill="#3c9a22"/>
<rect x="218" y="761.8" width="1.1" height="47.2" fill="#45fa06"/>
<rect x="218" y="809" width="1.1" height="1.6" fill="#4f9cfc"/>
<rect x="218" y="810.5" width="1.1" height="22.2" fill="#eefc3c"/>
<rect x="219" y="545" width="1.1" height="89.5" fill="#eca42e"/>
<rect x="219" y="634.5" width="1.1" height="123.3" fill="#3c9a22"/>
<rect x="219" y="757.8" width="1.1" height="55.5" fill="#45fa06"/>
<rect x="219" y="813.2" width="1.1" height="1.6" fill="#4f9cfc"/>
<rect x="219" y="814.7" width="1.1" height="18" fill="#eefc3c"/>
<rect x="220" y="545" width="1.1" height="96.6" fill="#eca42e"/>
<rect x="220" y="641.6" width="1.1" height="121.6" fill="#3c9a22"/>
<rect x="220" y="763.2" width="1.1" height="54.3" fill="#45fa06"/>
<rect x="220" y="817.4" width="1.1" height="1.6" fill="#4f9cfc"/>
<rect x="220" y="818.9" width="1.1" height="13.8" fill="#eefc3c"/>
<rect x="221" y="545" width="1.1" height="93.1" fill="#eca42e"/>
<rect x="221" y="638.1" width="1.1" height="147" fill="#3c9a22"/>
<rect x="221" y="785" width="1.1" height="36.7" fill="#45fa06"/>
<rect x="221" y="821.6" width="1.1" height="1.6" fill="#4f9cfc"/>
<rect x="221" y="823.1" width="1.1" height="9.6" fill="#eefc3c"/>
<rect x="222" y="545" width="1.1" height="94.7" fill="#eca42e"/>
<rect x="222" y="639.6" width="1.1" height="143.7" fill="#3c9a22"/>
<rect x="222" y="783.3" width="1.1" height="42.6" fill="#45fa06"/>
<rect x="222" y="825.8" width="1.1" height="1.6" fill="#4f9cfc"/>
<rect x="222" y="827.3" width="1.1" height="5.4" fill="#eefc3c"/>
<rect x="223" y="545" width="1.1" height="246.6" fill="#eca42e"/>
<rect x="223" y="791.5" width="1.1" height="23.6" fill="#45fa06"/>
<rect x="223" y="815" width="1.1" height="17.8" fill="#eefc3c"/>
<rect x="224" y="545" width="1.1" height="246.6" fill="#eca42e"/>
<rect x="224" y="791.5" width="1.1" height="23.6" fill="#45fa06"/>
<rect x="224" y="815" width="1.1" height="17.8" fill="#eefc3c"/>
<rect x="225" y="545" width="1.1" height="246.6" fill="#eca42e"/>
<rect x="225" y="791.5" width="1.1" height="23.6" fill="#45fa06"/>
<rect x="225" y="815" width="1.1" height="17.8" fill="#eefc3c"/>
<rect x="226" y="545" width="1.1" height="246.6" fill="#eca42e"/>
<rect x="226" y="791.5" width="1.1" height="23.6" fill="#45fa06"/>
<rect x="226" y="815" width="1.1" height="17.8" fill="#eefc3c"/>
<rect x="227" y="545" width="1.1" height="246.6" fill="#eca42e"/>
<rect x="227" y="791.5" width="1.1" height="23.6" fill="#45fa06"/>
<rect x="227" y="815" width="1.1" height="17.8" fill="#eefc3c"/>
<rect x="228" y="545" width="1.1" height="246.6" fill="#eca42e"/>
<rect x="228" y="791.5" width="1.1" height="23.6" fill="#45fa06"/>
<rect x="228" y="815" width="1.1" height="17.8" fill="#eefc3c"/>
<rect x="229" y="545" width="1.1" height="246.6" fill="#eca42e"/>
<rect x="229" y="791.5" width="1.1" height="23.6" fill="#45fa06"/>
<rect x="229" y="815" width="1.1" height="17.8" fill="#eefc3c"/>
<rect x="230" y="545" width="1.1" height="248.1" fill="#eca42e"/>
<rect x="230" y="793" width="1.1" height="19.1" fill="#45fa06"/>
<rect x="230" y="812" width="1.1" height="20.8" fill="#eefc3c"/>
<rect x="231" y="545" width="1.1" height="248.1" fill="#eca42e"/>
<rect x="231" y="793" width="1.1" height="19.1" fill="#45fa06"/>
<rect x="231" y="812" width="1.1" height="20.8" fill="#eefc3c"/>
<rect x="232" y="545" width="1.1" height="248.1" fill="#eca42e"/>
<rect x="232" y="793" width="1.1" height="19.1" fill="#45fa06"/>
<rect x="232" y="812" width="1.1" height="20.8" fill="#eefc3c"/>
<rect x="233" y="545" width="1.1" height="185.1" fill="#eca42e"/>
<rect x="233" y="730" width="1.1" height="102.8" fill="#dc2cff"/>
<rect x="234" y="545" width="1.1" height="185.1" fill="#eca42e"/>
<rect x="234" y="730" width="1.1" height="102.8" fill="#dc2cff"/>
<rect x="235" y="545" width="1.1" height="230.1" fill="#eca42e"/>
<rect x="235" y="775" width="1.1" height="57.8" fill="#7a30d0"/>
<rect x="236" y="545" width="1.1" height="248.1" fill="#8e5d1c"/>
<rect x="236" y="793" width="1.1" height="22.1" fill="#eefc3c"/>
<rect x="236" y="815" width="1.1" height="17.8" fill="#7a30d0"/>
<rect x="237" y="545" width="1.1" height="248.1" fill="#8e5d1c"/>
<rect x="237" y="793" width="1.1" height="22.1" fill="#eefc3c"/>
<rect x="237" y="815" width="1.1" height="17.8" fill="#7a30d0"/>
<rect x="238" y="545" width="1.1" height="248.1" fill="#8e5d1c"/>
<rect x="238" y="793" width="1.1" height="22.1" fill="#eefc3c"/>
<rect x="238" y="815" width="1.1" height="17.8" fill="#7a30d0"/>
<rect x="239" y="545" width="1.1" height="248.1" fill="#8e5d1c"/>
<rect x="239" y="793" width="1.1" height="22.1" fill="#eefc3c"/>
<rect x="239" y="815" width="1.1" height="17.8" fill="#7a30d0"/>
<rect x="240" y="545" width="1.1" height="15.1" fill="#45fa06"/>
<rect x="240" y="560" width="1.1" height="15.1" fill="#3c9a22"/>
<rect x="240" y="575" width="1.1" height="10.1" fill="#dc2cff"/>
<rect x="240" y="585" width="1.1" height="15.1" fill="#7cffe6"/>
<rect x="240" y="600" width="1.1" height="207.8" fill="#4f9cfc"/>
<rect x="240" y="807.7" width="1.1" height="25.1" fill="#eefc3c"/>
<rect x="241" y="545" width="1.1" height="15.1" fill="#45fa06"/>
<rect x="241" y="560" width="1.1" height="15.1" fill="#3c9a22"/>
<rect x="241" y="575" width="1.1" height="10.1" fill="#dc2cff"/>
<rect x="241" y="585" width="1.1" height="15.1" fill="#7cffe6"/>
<rect x="241" y="600" width="1.1" height="212.4" fill="#4f9cfc"/>
<rect x="241" y="812.3" width="1.1" height="20.4" fill="#eefc3c"/>
<rect x="242" y="545" width="1.1" height="15.1" fill="#45fa06"/>
<rect x="242" y="560" width="1.1" height="15.1" fill="#3c9a22"/>
<rect x="242" y="575" width="1.1" height="10.1" fill="#dc2cff"/>
<rect x="242" y="585" width="1.1" height="15.1" fill="#7cffe6"/>
<rect x="242" y="600" width="1.1" height="216.9" fill="#4f9cfc"/>
<rect x="242" y="816.9" width="1.1" height="15.9" fill="#eefc3c"/>
<rect x="243" y="545" width="1.1" height="15.1" fill="#45fa06"/>
<rect x="243" y="560" width="1.1" height="15.1" fill="#3c9a22"/>
<rect x="243" y="575" width="1.1" height="10.1" fill="#dc2cff"/>
<rect x="243" y="585" width="1.1" height="15.1" fill="#7cffe6"/>
<rect x="243" y="600" width="1.1" height="221.6" fill="#4f9cfc"/>
<rect x="243" y="821.5" width="1.1" height="11.3" fill="#eefc3c"/>
<rect x="244" y="545" width="1.1" height="15.1" fill="#45fa06"/>
<rect x="244" y="560" width="1.1" height="15.1" fill="#3c9a22"/>
<rect x="244" y="575" width="1.1" height="10.1" fill="#dc2cff"/>
<rect x="244" y="585" width="1.1" height="15.1" fill="#7cffe6"/>
<rect x="244" y="600" width="1.1" height="226.2" fill="#4f9cfc"/>
<rect x="244" y="826.1" width="1.1" height="6.7" fill="#eefc3c"/>
<rect x="245" y="545" width="1.1" height="34.3" fill="#eca42e"/>
<rect x="245" y="579.2" width="1.1" height="253.5" fill="#4f9cfc"/>
<rect x="246" y="545" width="1.1" height="33.3" fill="#eca42e"/>
<rect x="246" y="578.2" width="1.1" height="254.5" fill="#4f9cfc"/>
<rect x="247" y="545" width="1.1" height="35.4" fill="#eca42e"/>
<rect x="247" y="580.3" width="1.1" height="252.4" fill="#4f9cfc"/>
<rect x="248" y="545" width="1.1" height="30.9" fill="#eca42e"/>
<rect x="248" y="575.9" width="1.1" height="256.9" fill="#4f9cfc"/>
<rect x="249" y="545" width="1.1" height="35.2" fill="#eca42e"/>
<rect x="249" y="580.1" width="1.1" height="252.6" fill="#4f9cfc"/>
<rect x="250" y="545" width="1.1" height="41.8" fill="#eca42e"/>
<rect x="250" y="586.7" width="1.1" height="246" fill="#4f9cfc"/>
<rect x="251" y="545" width="1.1" height="30.1" fill="#eca42e"/>
<rect x="251" y="575" width="1.1" height="257.8" fill="#4f9cfc"/>
<rect x="252" y="545" width="1.1" height="30.1" fill="#eca42e"/>
<rect x="252" y="575" width="1.1" height="257.8" fill="#4f9cfc"/>
<rect x="253" y="545" width="1.1" height="17.6" fill="#eca42e"/>
<rect x="253" y="562.5" width="1.1" height="29.6" fill="#7cffe6"/>
<rect x="253" y="592" width="1.1" height="217.6" fill="#4f9cfc"/>
<rect x="253" y="809.5" width="1.1" height="23.3" fill="#eefc3c"/>
<rect x="254" y="545" width="1.1" height="20.3" fill="#eca42e"/>
<rect x="254" y="565.3" width="1.1" height="26.8" fill="#7cffe6"/>
<rect x="254" y="592" width="1.1" height="217.6" fill="#4f9cfc"/>
<rect x="254" y="809.5" width="1.1" height="23.3" fill="#eefc3c"/>
<rect x="255" y="545" width="1.1" height="23.1" fill="#eca42e"/>
<rect x="255" y="568.1" width="1.1" height="24" fill="#7cffe6"/>
<rect x="255" y="592" width="1.1" height="217.6" fill="#4f9cfc"/>
<rect x="255" y="809.5" width="1.1" height="23.3" fill="#eefc3c"/>
<rect x="256" y="545" width="1.1" height="25.9" fill="#eca42e"/>
<rect x="256" y="570.8" width="1.1" height="21.2" fill="#7cffe6"/>
<rect x="256" y="592" width="1.1" height="217.6" fill="#4f9cfc"/>
<rect x="256" y="809.5" width="1.1" height="23.3" fill="#eefc3c"/>
<rect x="257" y="545" width="1.1" height="28.7" fill="#eca42e"/>
<rect x="257" y="573.6" width="1.1" height="18.4" fill="#7cffe6"/>
<rect x="257" y="592" width="1.1" height="217.6" fill="#4f9cfc"/>
<rect x="257" y="809.5" width="1.1" height="23.3" fill="#eefc3c"/>
<rect x="258" y="545" width="1.1" height="18.1" fill="#eca42e"/>
<rect x="258" y="563" width="1.1" height="5" fill="#7cffe6"/>
<rect x="258" y="568" width="1.1" height="264.8" fill="#4f9cfc"/>
<rect x="259" y="545" width="1.1" height="18.1" fill="#eca42e"/>
<rect x="259" y="563" width="1.1" height="5" fill="#7cffe6"/>
<rect x="259" y="568" width="1.1" height="264.8" fill="#4f9cfc"/>
<rect x="260" y="545" width="1.1" height="18.1" fill="#eca42e"/>
<rect x="260" y="563" width="1.1" height="5" fill="#7cffe6"/>
<rect x="260" y="568" width="1.1" height="264.8" fill="#4f9cfc"/>
<rect x="261" y="545" width="1.1" height="18.1" fill="#eca42e"/>
<rect x="261" y="563" width="1.1" height="5" fill="#7cffe6"/>
<rect x="261" y="568" width="1.1" height="264.8" fill="#4f9cfc"/>
<rect x="262" y="545" width="1.1" height="23.7" fill="#eca42e"/>
<rect x="262" y="568.6" width="1.1" height="19.2" fill="#7cffe6"/>
<rect x="262" y="587.7" width="1.1" height="245" fill="#4f9cfc"/>
<rect x="263" y="545" width="1.1" height="22.8" fill="#eca42e"/>
<rect x="263" y="567.8" width="1.1" height="21.2" fill="#7cffe6"/>
<rect x="263" y="588.9" width="1.1" height="243.9" fill="#4f9cfc"/>
<rect x="264" y="545" width="1.1" height="19.4" fill="#eca42e"/>
<rect x="264" y="564.3" width="1.1" height="26.4" fill="#7cffe6"/>
<rect x="264" y="590.7" width="1.1" height="242.1" fill="#4f9cfc"/>
<rect x="265" y="545" width="1.1" height="25.3" fill="#eca42e"/>
<rect x="265" y="570.3" width="1.1" height="18.8" fill="#7cffe6"/>
<rect x="265" y="589" width="1.1" height="243.8" fill="#4f9cfc"/>
<rect x="266" y="545" width="1.1" height="20.1" fill="#eca42e"/>
<rect x="266" y="565.1" width="1.1" height="26.3" fill="#7cffe6"/>
<rect x="266" y="591.3" width="1.1" height="241.4" fill="#4f9cfc"/>
<rect x="267" y="545" width="1.1" height="18.6" fill="#eca42e"/>
<rect x="267" y="563.5" width="1.1" height="31.5" fill="#7cffe6"/>
<rect x="267" y="595" width="1.1" height="221.4" fill="#4f9cfc"/>
<rect x="267" y="816.3" width="1.1" height="16.5" fill="#eefc3c"/>
<rect x="268" y="545" width="1.1" height="21.2" fill="#eca42e"/>
<rect x="268" y="566.2" width="1.1" height="28.1" fill="#7cffe6"/>
<rect x="268" y="594.3" width="1.1" height="207.8" fill="#4f9cfc"/>
<rect x="268" y="802" width="1.1" height="30.8" fill="#eefc3c"/>
<rect x="269" y="545" width="1.1" height="21.5" fill="#eca42e"/>
<rect x="269" y="566.5" width="1.1" height="25.7" fill="#7cffe6"/>
<rect x="269" y="592.1" width="1.1" height="212.6" fill="#4f9cfc"/>
<rect x="269" y="804.7" width="1.1" height="28.1" fill="#eefc3c"/>
<rect x="270" y="545" width="1.1" height="13.1" fill="#45fa06"/>
<rect x="270" y="558" width="1.1" height="37.1" fill="#7cffe6"/>
<rect x="270" y="595" width="1.1" height="212.9" fill="#4f9cfc"/>
<rect x="270" y="807.9" width="1.1" height="24.8" fill="#eefc3c"/>
<rect x="271" y="545" width="1.1" height="13.1" fill="#45fa06"/>
<rect x="271" y="558" width="1.1" height="48.7" fill="#7cffe6"/>
<rect x="271" y="606.6" width="1.1" height="205.2" fill="#4f9cfc"/>
<rect x="271" y="811.8" width="1.1" height="21" fill="#eefc3c"/>
<rect x="272" y="545" width="1.1" height="7" fill="#45fa06"/>
<rect x="272" y="552" width="1.1" height="23.1" fill="#7cffe6"/>
<rect x="272" y="575" width="1.1" height="17.1" fill="#b58cff"/>
<rect x="272" y="592" width="1.1" height="223.6" fill="#4f9cfc"/>
<rect x="272" y="815.6" width="1.1" height="17.2" fill="#eefc3c"/>
<rect x="273" y="545" width="1.1" height="7" fill="#45fa06"/>
<rect x="273" y="552" width="1.1" height="23.1" fill="#7cffe6"/>
<rect x="273" y="575" width="1.1" height="17.1" fill="#b58cff"/>
<rect x="273" y="592" width="1.1" height="227.5" fill="#4f9cfc"/>
<rect x="273" y="819.4" width="1.1" height="13.3" fill="#eefc3c"/>
<rect x="274" y="545" width="1.1" height="7" fill="#45fa06"/>
<rect x="274" y="552" width="1.1" height="23.1" fill="#7cffe6"/>
<rect x="274" y="575" width="1.1" height="17.1" fill="#b58cff"/>
<rect x="274" y="592" width="1.1" height="231.3" fill="#4f9cfc"/>
<rect x="274" y="823.2" width="1.1" height="9.5" fill="#eefc3c"/>
<rect x="275" y="545" width="1.1" height="7" fill="#45fa06"/>
<rect x="275" y="552" width="1.1" height="23.1" fill="#7cffe6"/>
<rect x="275" y="575" width="1.1" height="17.1" fill="#b58cff"/>
<rect x="275" y="592" width="1.1" height="235.1" fill="#4f9cfc"/>
<rect x="275" y="827.1" width="1.1" height="5.7" fill="#eefc3c"/>
<rect x="276" y="545" width="1.1" height="25.1" fill="#eca42e"/>
<rect x="276" y="570" width="1.1" height="5" fill="#7cffe6"/>
<rect x="276" y="575" width="1.1" height="252.8" fill="#4f9cfc"/>
<rect x="276" y="827.8" width="1.1" height="5" fill="#eefc3c"/>
<rect x="277" y="545" width="1.1" height="25.1" fill="#eca42e"/>
<rect x="277" y="570" width="1.1" height="5" fill="#7cffe6"/>
<rect x="277" y="575" width="1.1" height="250.3" fill="#4f9cfc"/>
<rect x="277" y="825.2" width="1.1" height="7.5" fill="#eefc3c"/>
<rect x="278" y="545" width="1.1" height="25.1" fill="#eca42e"/>
<rect x="278" y="570" width="1.1" height="5" fill="#7cffe6"/>
<rect x="278" y="575" width="1.1" height="249.3" fill="#4f9cfc"/>
<rect x="278" y="824.2" width="1.1" height="8.5" fill="#eefc3c"/>
<rect x="279" y="545" width="1.1" height="13.1" fill="#45fa06"/>
<rect x="279" y="558" width="1.1" height="37.1" fill="#7cffe6"/>
<rect x="279" y="595" width="1.1" height="229.8" fill="#4f9cfc"/>
<rect x="279" y="824.8" width="1.1" height="8" fill="#eefc3c"/>
<rect x="280" y="545" width="1.1" height="13.1" fill="#45fa06"/>
<rect x="280" y="558" width="1.1" height="56.3" fill="#7cffe6"/>
<rect x="280" y="614.2" width="1.1" height="211.1" fill="#4f9cfc"/>
<rect x="280" y="825.2" width="1.1" height="7.5" fill="#eefc3c"/>
<rect x="281" y="545" width="1.1" height="13.1" fill="#45fa06"/>
<rect x="281" y="558" width="1.1" height="46.7" fill="#7cffe6"/>
<rect x="281" y="604.6" width="1.1" height="221.2" fill="#4f9cfc"/>
<rect x="281" y="825.8" width="1.1" height="7" fill="#eefc3c"/>
<rect x="282" y="545" width="1.1" height="4.5" fill="#45fa06"/>
<rect x="282" y="549.4" width="1.1" height="53.7" fill="#7cffe6"/>
<rect x="282" y="603.1" width="1.1" height="229.7" fill="#4f9cfc"/>
<rect x="283" y="545" width="1.1" height="5.8" fill="#45fa06"/>
<rect x="283" y="550.8" width="1.1" height="57.4" fill="#7cffe6"/>
<rect x="283" y="608.1" width="1.1" height="224.6" fill="#4f9cfc"/>
<rect x="284" y="545" width="1.1" height="5.2" fill="#45fa06"/>
<rect x="284" y="550.1" width="1.1" height="42.9" fill="#7cffe6"/>
<rect x="284" y="592.9" width="1.1" height="239.8" fill="#4f9cfc"/>
<rect x="285" y="545" width="1.1" height="4" fill="#45fa06"/>
<rect x="285" y="549" width="1.1" height="51" fill="#7cffe6"/>
<rect x="285" y="600" width="1.1" height="100" fill="#7a30d0"/>
<rect x="285" y="700" width="1.1" height="132.8" fill="#4f9cfc"/>
<rect x="286" y="545" width="1.1" height="5.9" fill="#45fa06"/>
<rect x="286" y="550.8" width="1.1" height="67.8" fill="#7cffe6"/>
<rect x="286" y="618.6" width="1.1" height="214.1" fill="#4f9cfc"/>
<rect x="287" y="545" width="1.1" height="5.7" fill="#45fa06"/>
<rect x="287" y="550.6" width="1.1" height="49.5" fill="#7cffe6"/>
<rect x="287" y="600.1" width="1.1" height="232.6" fill="#4f9cfc"/>
<rect x="288" y="545" width="1.1" height="7.8" fill="#45fa06"/>
<rect x="288" y="552.7" width="1.1" height="68.2" fill="#7cffe6"/>
<rect x="288" y="620.9" width="1.1" height="211.9" fill="#4f9cfc"/>
<rect x="289" y="545" width="1.1" height="6.8" fill="#45fa06"/>
<rect x="289" y="551.8" width="1.1" height="77.9" fill="#7cffe6"/>
<rect x="289" y="629.6" width="1.1" height="203.1" fill="#4f9cfc"/>
<rect x="290" y="545" width="1.1" height="4.6" fill="#45fa06"/>
<rect x="290" y="549.6" width="1.1" height="77.9" fill="#7cffe6"/>
<rect x="290" y="627.4" width="1.1" height="205.4" fill="#4f9cfc"/>
<rect x="291" y="545" width="1.1" height="5.2" fill="#45fa06"/>
<rect x="291" y="550.2" width="1.1" height="92.5" fill="#7cffe6"/>
<rect x="291" y="642.7" width="1.1" height="190.1" fill="#4f9cfc"/>
<rect x="292" y="545" width="1.1" height="6.3" fill="#45fa06"/>
<rect x="292" y="551.3" width="1.1" height="96.4" fill="#7cffe6"/>
<rect x="292" y="647.6" width="1.1" height="185.2" fill="#4f9cfc"/>
<rect x="293" y="545" width="1.1" height="6.9" fill="#45fa06"/>
<rect x="293" y="551.9" width="1.1" height="96.7" fill="#7cffe6"/>
<rect x="293" y="648.5" width="1.1" height="184.2" fill="#4f9cfc"/>
<rect x="294" y="545" width="1.1" height="8" fill="#45fa06"/>
<rect x="294" y="553" width="1.1" height="105.3" fill="#7cffe6"/>
<rect x="294" y="658.2" width="1.1" height="168.8" fill="#4f9cfc"/>
<rect x="294" y="827" width="1.1" height="5.8" fill="#eefc3c"/>
<rect x="295" y="545" width="1.1" height="6.6" fill="#45fa06"/>
<rect x="295" y="551.5" width="1.1" height="107.2" fill="#7cffe6"/>
<rect x="295" y="658.7" width="1.1" height="168.4" fill="#4f9cfc"/>
<rect x="295" y="827" width="1.1" height="5.8" fill="#eefc3c"/>
<rect x="296" y="545" width="1.1" height="6.1" fill="#45fa06"/>
<rect x="296" y="551" width="1.1" height="104.8" fill="#7cffe6"/>
<rect x="296" y="655.7" width="1.1" height="171.3" fill="#4f9cfc"/>
<rect x="296" y="827" width="1.1" height="5.8" fill="#eefc3c"/>
<rect x="297" y="545" width="1.1" height="5.5" fill="#45fa06"/>
<rect x="297" y="550.4" width="1.1" height="135.8" fill="#7cffe6"/>
<rect x="297" y="686.2" width="1.1" height="140.8" fill="#4f9cfc"/>
<rect x="297" y="827" width="1.1" height="5.8" fill="#eefc3c"/>
<rect x="298" y="545" width="1.1" height="5.5" fill="#45fa06"/>
<rect x="298" y="550.5" width="1.1" height="133.8" fill="#7cffe6"/>
<rect x="298" y="684.2" width="1.1" height="44.8" fill="#4f9cfc"/>
<rect x="298" y="729" width="1.1" height="28.1" fill="#dc2cff"/>
<rect x="298" y="757" width="1.1" height="70" fill="#4f9cfc"/>
<rect x="298" y="827" width="1.1" height="5.8" fill="#eefc3c"/>
<rect x="299" y="545" width="1.1" height="7.3" fill="#45fa06"/>
<rect x="299" y="552.3" width="1.1" height="144.3" fill="#7cffe6"/>
<rect x="299" y="696.5" width="1.1" height="130.5" fill="#4f9cfc"/>
<rect x="299" y="827" width="1.1" height="5.8" fill="#eefc3c"/>
<rect x="300" y="545" width="1.1" height="6.1" fill="#45fa06"/>
<rect x="300" y="551" width="1.1" height="141" fill="#7cffe6"/>
<rect x="300" y="692" width="1.1" height="135.1" fill="#4f9cfc"/>
<rect x="300" y="827" width="1.1" height="5.8" fill="#eefc3c"/>
<rect x="301" y="545" width="1.1" height="124" fill="#7cffe6"/>
<rect x="301" y="669" width="1.1" height="163.8" fill="#4f9cfc"/>
<rect x="302" y="545" width="1.1" height="124" fill="#7cffe6"/>
<rect x="302" y="669" width="1.1" height="163.8" fill="#4f9cfc"/>
<rect x="303" y="545" width="1.1" height="125" fill="#7cffe6"/>
<rect x="303" y="670" width="1.1" height="162.8" fill="#4f9cfc"/>
<rect x="304" y="545" width="1.1" height="127" fill="#7cffe6"/>
<rect x="304" y="672" width="1.1" height="160.8" fill="#4f9cfc"/>
<rect x="305" y="545" width="1.1" height="132.6" fill="#7cffe6"/>
<rect x="305" y="677.5" width="1.1" height="155.3" fill="#4f9cfc"/>
<rect x="306" y="545" width="1.1" height="141.6" fill="#7cffe6"/>
<rect x="306" y="686.5" width="1.1" height="146.3" fill="#4f9cfc"/>
<rect x="307" y="545" width="1.1" height="150.6" fill="#7cffe6"/>
<rect x="307" y="695.5" width="1.1" height="137.3" fill="#4f9cfc"/>
<rect x="308" y="545" width="1.1" height="158.8" fill="#7cffe6"/>
<rect x="308" y="703.8" width="1.1" height="129" fill="#4f9cfc"/>
<rect x="309" y="545" width="1.1" height="166.3" fill="#7cffe6"/>
<rect x="309" y="711.2" width="1.1" height="121.5" fill="#4f9cfc"/>
<rect x="310" y="545" width="1.1" height="175.1" fill="#7cffe6"/>
<rect x="310" y="720" width="1.1" height="112.8" fill="#4f9cfc"/>
<rect x="311" y="545" width="1.1" height="185.1" fill="#7cffe6"/>
<rect x="311" y="730" width="1.1" height="102.8" fill="#4f9cfc"/>
<rect x="312" y="545" width="1.1" height="1.9" fill="#eca42e"/>
<rect x="312" y="546.8" width="1.1" height="193.2" fill="#7cffe6"/>
<rect x="312" y="740" width="1.1" height="92.8" fill="#4f9cfc"/>
<rect x="313" y="545" width="1.1" height="205.1" fill="#7cffe6"/>
<rect x="313" y="750" width="1.1" height="82.8" fill="#4f9cfc"/>
<rect x="314" y="545" width="1.1" height="206" fill="#7cffe6"/>
<rect x="314" y="750.9" width="1.1" height="81.8" fill="#4f9cfc"/>
<rect x="315" y="545" width="1.1" height="1.3" fill="#eca42e"/>
<rect x="315" y="546.2" width="1.1" height="205.7" fill="#7cffe6"/>
<rect x="315" y="751.8" width="1.1" height="80.9" fill="#4f9cfc"/>
<rect x="316" y="545" width="1.1" height="2.7" fill="#45fa06"/>
<rect x="316" y="547.7" width="1.1" height="205.2" fill="#7cffe6"/>
<rect x="316" y="752.8" width="1.1" height="80" fill="#4f9cfc"/>
<rect x="317" y="545" width="1.1" height="208.7" fill="#7cffe6"/>
<rect x="317" y="753.7" width="1.1" height="79.1" fill="#4f9cfc"/>
<rect x="318" y="545" width="1.1" height="209.7" fill="#7cffe6"/>
<rect x="318" y="754.6" width="1.1" height="78.1" fill="#4f9cfc"/>
<rect x="319" y="545" width="1.1" height="210.6" fill="#7cffe6"/>
<rect x="319" y="755.5" width="1.1" height="77.2" fill="#4f9cfc"/>
<rect x="320" y="545" width="1.1" height="211.5" fill="#7cffe6"/>
<rect x="320" y="756.4" width="1.1" height="76.3" fill="#4f9cfc"/>
<rect x="321" y="545" width="1.1" height="212.3" fill="#7cffe6"/>
<rect x="321" y="757.2" width="1.1" height="75.5" fill="#4f9cfc"/>
<rect x="322" y="545" width="1.1" height="213.1" fill="#7cffe6"/>
<rect x="322" y="758.1" width="1.1" height="74.7" fill="#4f9cfc"/>
<rect x="323" y="545" width="1.1" height="214" fill="#7cffe6"/>
<rect x="323" y="758.9" width="1.1" height="73.8" fill="#4f9cfc"/>
<rect x="324" y="545" width="1.1" height="3.5" fill="#eca42e"/>
<rect x="324" y="548.4" width="1.1" height="211.4" fill="#7cffe6"/>
<rect x="324" y="759.8" width="1.1" height="73" fill="#4f9cfc"/>
<rect x="325" y="545" width="1.1" height="215.6" fill="#7cffe6"/>
<rect x="325" y="760.6" width="1.1" height="72.2" fill="#4f9cfc"/>
<rect x="326" y="545" width="1.1" height="218.2" fill="#7cffe6"/>
<rect x="326" y="763.2" width="1.1" height="69.6" fill="#4f9cfc"/>
<rect x="327" y="545" width="1.1" height="222.5" fill="#7cffe6"/>
<rect x="327" y="767.5" width="1.1" height="65.3" fill="#4f9cfc"/>
<rect x="328" y="545" width="1.1" height="226.9" fill="#7cffe6"/>
<rect x="328" y="771.8" width="1.1" height="60.9" fill="#4f9cfc"/>
<rect x="329" y="545" width="1.1" height="231.2" fill="#7cffe6"/>
<rect x="329" y="776.1" width="1.1" height="56.6" fill="#4f9cfc"/>
<rect x="330" y="545" width="1.1" height="235.5" fill="#7cffe6"/>
<rect x="330" y="780.5" width="1.1" height="52.3" fill="#4f9cfc"/>
<rect x="331" y="545" width="1.1" height="239.8" fill="#7cffe6"/>
<rect x="331" y="784.8" width="1.1" height="48" fill="#4f9cfc"/>
<rect x="332" y="545" width="1.1" height="244.2" fill="#7cffe6"/>
<rect x="332" y="789.1" width="1.1" height="43.6" fill="#4f9cfc"/>
<rect x="333" y="545" width="1.1" height="248.4" fill="#7cffe6"/>
<rect x="333" y="793.3" width="1.1" height="39.4" fill="#4f9cfc"/>
<rect x="334" y="545" width="1.1" height="251.4" fill="#7cffe6"/>
<rect x="334" y="796.4" width="1.1" height="36.4" fill="#4f9cfc"/>
<rect x="335" y="545" width="1.1" height="254.5" fill="#7cffe6"/>
<rect x="335" y="799.4" width="1.1" height="33.3" fill="#4f9cfc"/>
<rect x="336" y="545" width="1.1" height="257.5" fill="#7cffe6"/>
<rect x="336" y="802.5" width="1.1" height="30.3" fill="#4f9cfc"/>
<rect x="337" y="545" width="1.1" height="260.6" fill="#7cffe6"/>
<rect x="337" y="805.5" width="1.1" height="27.2" fill="#4f9cfc"/>
<rect x="338" y="545" width="1.1" height="263.6" fill="#7cffe6"/>
<rect x="338" y="808.6" width="1.1" height="24.2" fill="#4f9cfc"/>
<rect x="339" y="545" width="1.1" height="266.7" fill="#7cffe6"/>
<rect x="339" y="811.6" width="1.1" height="21.1" fill="#4f9cfc"/>
<rect x="340" y="545" width="1.1" height="1.3" fill="#45fa06"/>
<rect x="340" y="546.2" width="1.1" height="268.5" fill="#7cffe6"/>
<rect x="340" y="814.7" width="1.1" height="18.1" fill="#4f9cfc"/>
<rect x="341" y="545" width="1.1" height="2.5" fill="#eca42e"/>
<rect x="341" y="547.5" width="1.1" height="270.3" fill="#7cffe6"/>
<rect x="341" y="817.8" width="1.1" height="15" fill="#4f9cfc"/>
<rect x="342" y="545" width="1.1" height="275.9" fill="#7cffe6"/>
<rect x="342" y="820.8" width="1.1" height="11.9" fill="#4f9cfc"/>
<rect x="343" y="545" width="1.1" height="278.9" fill="#7cffe6"/>
<rect x="343" y="823.9" width="1.1" height="8.9" fill="#4f9cfc"/>
<rect x="344" y="545" width="1.1" height="281.8" fill="#7cffe6"/>
<rect x="344" y="826.8" width="1.1" height="6" fill="#4f9cfc"/>
<rect x="345" y="545" width="1.1" height="3" fill="#eca42e"/>
<rect x="345" y="548" width="1.1" height="281.4" fill="#7cffe6"/>
<rect x="345" y="829.4" width="1.1" height="3.4" fill="#4f9cfc"/>
<rect x="346" y="545" width="1.1" height="3.2" fill="#eca42e"/>
<rect x="346" y="548.2" width="1.1" height="283.8" fill="#7cffe6"/>
<rect x="346" y="832" width="1.1" height="0.8" fill="#4f9cfc"/>
<rect x="347" y="545" width="1.1" height="275.1" fill="#7cffe6"/>
<rect x="347" y="820" width="1.1" height="3" fill="#4f9cfc"/>
<rect x="347" y="823" width="1.1" height="9.8" fill="#dc2cff"/>
<rect x="348" y="545" width="1.1" height="273.1" fill="#7cffe6"/>
<rect x="348" y="818" width="1.1" height="3" fill="#4f9cfc"/>
<rect x="348" y="821" width="1.1" height="11.8" fill="#dc2cff"/>
<rect x="349" y="545" width="1.1" height="3.2" fill="#eca42e"/>
<rect x="349" y="548.2" width="1.1" height="270.9" fill="#7cffe6"/>
<rect x="349" y="819" width="1.1" height="13.8" fill="#dc2cff"/>
<rect x="350" y="545" width="1.1" height="272.6" fill="#7cffe6"/>
<rect x="350" y="817.6" width="1.1" height="15.2" fill="#dc2cff"/>
<rect x="351" y="545" width="1.1" height="2.8" fill="#45fa06"/>
<rect x="351" y="547.7" width="1.1" height="269" fill="#7cffe6"/>
<rect x="351" y="816.7" width="1.1" height="16.1" fill="#dc2cff"/>
<rect x="352" y="545" width="1.1" height="270.9" fill="#7cffe6"/>
<rect x="352" y="815.8" width="1.1" height="16.9" fill="#dc2cff"/>
<rect x="353" y="545" width="1.1" height="270" fill="#7cffe6"/>
<rect x="353" y="815" width="1.1" height="17.8" fill="#dc2cff"/>
<rect x="354" y="545" width="1.1" height="269.1" fill="#7cffe6"/>
<rect x="354" y="814.1" width="1.1" height="18.7" fill="#dc2cff"/>
<rect x="355" y="545" width="1.1" height="268.3" fill="#7cffe6"/>
<rect x="355" y="813.2" width="1.1" height="19.5" fill="#dc2cff"/>
<rect x="356" y="545" width="1.1" height="267.4" fill="#7cffe6"/>
<rect x="356" y="812.4" width="1.1" height="20.4" fill="#dc2cff"/>
<rect x="357" y="545" width="1.1" height="266.5" fill="#7cffe6"/>
<rect x="357" y="811.5" width="1.1" height="21.3" fill="#dc2cff"/>
<rect x="358" y="545" width="1.1" height="265.7" fill="#7cffe6"/>
<rect x="358" y="810.6" width="1.1" height="22.1" fill="#dc2cff"/>
<rect x="359" y="545" width="1.1" height="264.8" fill="#7cffe6"/>
<rect x="359" y="809.8" width="1.1" height="23" fill="#dc2cff"/>
<rect x="360" y="545" width="1.1" height="287.8" fill="#7cffe6"/>
<rect x="361" y="545" width="1.1" height="287.8" fill="#7cffe6"/>
<rect x="362" y="545" width="1.1" height="3" fill="#eca42e"/>
<rect x="362" y="548" width="1.1" height="284.8" fill="#7cffe6"/>
<rect x="363" y="545" width="1.1" height="3" fill="#eca42e"/>
<rect x="363" y="548" width="1.1" height="278.1" fill="#7cffe6"/>
<rect x="363" y="826" width="1.1" height="6.8" fill="#4f9cfc"/>
<rect x="364" y="545" width="1.1" height="3" fill="#eca42e"/>
<rect x="364" y="548" width="1.1" height="278.1" fill="#7cffe6"/>
<rect x="364" y="826" width="1.1" height="6.8" fill="#4f9cfc"/>
<rect x="365" y="545" width="1.1" height="3" fill="#eca42e"/>
<rect x="365" y="548" width="1.1" height="278.1" fill="#7cffe6"/>
<rect x="365" y="826" width="1.1" height="6.8" fill="#4f9cfc"/>
<rect x="366" y="545" width="1.1" height="281.1" fill="#7cffe6"/>
<rect x="366" y="826" width="1.1" height="6.8" fill="#4f9cfc"/>
<rect x="367" y="545" width="1.1" height="281.1" fill="#7cffe6"/>
<rect x="367" y="826" width="1.1" height="6.8" fill="#4f9cfc"/>
<rect x="368" y="545" width="1.1" height="287.8" fill="#7cffe6"/>
<rect x="369" y="545" width="1.1" height="287.8" fill="#7cffe6"/>
<rect x="370" y="545" width="1.1" height="287.8" fill="#7cffe6"/>
<rect x="371" y="545" width="0.7" height="287.8" fill="#7cffe6"/>
<rect x="387.9" y="545" width="18.2" height="147.3" fill="#eca42e"/>
<rect x="387.9" y="692.2" width="18.2" height="9.4" fill="#ff84f2"/>
<rect x="387.9" y="701.6" width="18.2" height="35.2" fill="#dc2cff"/>
<rect x="387.9" y="736.8" width="18.2" height="96" fill="#4f9cfc"/>
<rect x="406" y="545" width="18.1" height="151.8" fill="#eca42e"/>
<rect x="406" y="696.7" width="18.1" height="10.9" fill="#ff84f2"/>
<rect x="406" y="707.6" width="18.1" height="11.2" fill="#dc2cff"/>
<rect x="406" y="718.8" width="18.1" height="114" fill="#4f9cfc"/>
<rect x="427" y="545" width="5.9" height="232.1" fill="#eca42e"/>
<rect x="427" y="777" width="5.9" height="16.3" fill="#ff84f2"/>
<rect x="427" y="793.3" width="5.9" height="39.5" fill="#4f9cfc"/>
<rect x="432.9" y="545" width="6.2" height="238.4" fill="#eca42e"/>
<rect x="432.9" y="783.4" width="6.2" height="27.2" fill="#ff84f2"/>
<rect x="432.9" y="810.5" width="6.2" height="22.3" fill="#4f9cfc"/>
<rect x="439" y="545" width="5.4" height="239.3" fill="#eca42e"/>
<rect x="439" y="784.3" width="5.4" height="17.8" fill="#ff84f2"/>
<rect x="439" y="802" width="5.4" height="30.8" fill="#4f9cfc"/>
<rect x="444.4" y="545" width="6.5" height="248.1" fill="#eca42e"/>
<rect x="444.4" y="793" width="6.5" height="39.8" fill="#ff84f2"/>
<rect x="450.9" y="545" width="6.8" height="258.3" fill="#eca42e"/>
<rect x="450.9" y="803.2" width="6.8" height="29.6" fill="#ff84f2"/>
<rect x="457.6" y="545" width="5.8" height="273.7" fill="#eca42e"/>
<rect x="457.6" y="818.6" width="5.8" height="14.2" fill="#ff84f2"/>
<rect x="472.6" y="545" width="3.9" height="10.1" fill="#3c9a22"/>
<rect x="472.6" y="555" width="3.9" height="23.1" fill="#ff84f2"/>
<rect x="472.6" y="578" width="3.9" height="2" fill="#45fa06"/>
<rect x="472.6" y="580" width="3.9" height="223.1" fill="#7cffe6"/>
<rect x="472.6" y="803" width="3.9" height="24.6" fill="#dc2cff"/>
<rect x="472.6" y="827.5" width="3.9" height="5.3" fill="#eefc3c"/>
<rect x="476.5" y="545" width="3.5" height="4.7" fill="#3c9a22"/>
<rect x="476.5" y="549.6" width="3.5" height="6.2" fill="#45fa06"/>
<rect x="476.5" y="555.7" width="3.5" height="14.8" fill="#dc2cff"/>
<rect x="476.5" y="570.5" width="3.5" height="260.6" fill="#4f9cfc"/>
<rect x="476.5" y="831" width="3.5" height="1.8" fill="#eefc3c"/>
<rect x="480" y="545" width="3.5" height="4.7" fill="#3c9a22"/>
<rect x="480" y="549.6" width="3.5" height="22.4" fill="#ff84f2"/>
<rect x="480" y="572" width="3.5" height="10.8" fill="#dc2cff"/>
<rect x="480" y="582.8" width="3.5" height="250" fill="#4f9cfc"/>
<rect x="483.5" y="545" width="3.5" height="9.1" fill="#ff84f2"/>
<rect x="483.5" y="554" width="3.5" height="37.5" fill="#7cffe6"/>
<rect x="483.5" y="591.5" width="3.5" height="241.3" fill="#4f9cfc"/>
<rect x="487" y="545" width="3.5" height="12.6" fill="#45fa06"/>
<rect x="487" y="557.5" width="3.5" height="19.2" fill="#7cffe6"/>
<rect x="487" y="576.6" width="3.5" height="18.4" fill="#dc2cff"/>
<rect x="487" y="595" width="3.5" height="237.8" fill="#4f9cfc"/>
<rect x="490.5" y="545" width="3.5" height="10.8" fill="#ff84f2"/>
<rect x="490.5" y="555.7" width="3.5" height="4.3" fill="#45fa06"/>
<rect x="490.5" y="560" width="3.5" height="23.7" fill="#7cffe6"/>
<rect x="490.5" y="583.6" width="3.5" height="12.2" fill="#dc2cff"/>
<rect x="490.5" y="595.8" width="3.5" height="237" fill="#4f9cfc"/>
<rect x="494" y="545" width="3.5" height="9.1" fill="#ff84f2"/>
<rect x="494" y="554" width="3.5" height="70.7" fill="#7cffe6"/>
<rect x="494" y="624.6" width="3.5" height="208.2" fill="#4f9cfc"/>
<rect x="497.5" y="545" width="3.5" height="6.9" fill="#ff84f2"/>
<rect x="497.5" y="551.9" width="3.5" height="7.4" fill="#45fa06"/>
<rect x="497.5" y="559.2" width="3.5" height="53.2" fill="#7cffe6"/>
<rect x="497.5" y="612.4" width="3.5" height="16.7" fill="#dc2cff"/>
<rect x="497.5" y="629" width="3.5" height="203.8" fill="#4f9cfc"/>
<rect x="501" y="545" width="3.5" height="21.3" fill="#ff84f2"/>
<rect x="501" y="566.2" width="3.5" height="58.4" fill="#7cffe6"/>
<rect x="501" y="624.6" width="3.5" height="8.8" fill="#dc2cff"/>
<rect x="501" y="633.4" width="3.5" height="199.4" fill="#4f9cfc"/>
<rect x="504.5" y="545" width="3.5" height="18.1" fill="#ff84f2"/>
<rect x="504.5" y="563" width="3.5" height="60.5" fill="#7cffe6"/>
<rect x="504.5" y="623.5" width="3.5" height="10.6" fill="#dc2cff"/>
<rect x="504.5" y="634" width="3.5" height="197.7" fill="#4f9cfc"/>
<rect x="504.5" y="831.6" width="3.5" height="1.2" fill="#eefc3c"/>
<rect x="508" y="545" width="3.5" height="31.7" fill="#ff84f2"/>
<rect x="508" y="576.6" width="3.5" height="44.4" fill="#7cffe6"/>
<rect x="508" y="621" width="3.5" height="18.6" fill="#dc2cff"/>
<rect x="508" y="639.5" width="3.5" height="184.6" fill="#4f9cfc"/>
<rect x="508" y="824" width="3.5" height="8.8" fill="#eefc3c"/>
<rect x="511.5" y="545" width="3.5" height="23.8" fill="#ff84f2"/>
<rect x="511.5" y="568.8" width="3.5" height="84.7" fill="#7cffe6"/>
<rect x="511.5" y="653.4" width="3.5" height="179.4" fill="#4f9cfc"/>
<rect x="515" y="545" width="3.5" height="8.1" fill="#ff84f2"/>
<rect x="515" y="553" width="3.5" height="97" fill="#7cffe6"/>
<rect x="515" y="650" width="3.5" height="5" fill="#dc2cff"/>
<rect x="515" y="655" width="3.5" height="177.8" fill="#4f9cfc"/>
<rect x="518.5" y="545" width="3.5" height="16.1" fill="#ff84f2"/>
<rect x="518.5" y="561" width="3.5" height="5" fill="#45fa06"/>
<rect x="518.5" y="566" width="3.5" height="92.8" fill="#7cffe6"/>
<rect x="518.5" y="658.7" width="3.5" height="3.3" fill="#dc2cff"/>
<rect x="518.5" y="662" width="3.5" height="170.8" fill="#4f9cfc"/>
<rect x="522" y="545" width="3.5" height="31.7" fill="#ff84f2"/>
<rect x="522" y="576.6" width="3.5" height="101.3" fill="#7cffe6"/>
<rect x="522" y="677.9" width="3.5" height="154.9" fill="#4f9cfc"/>
<rect x="525.5" y="545" width="4.3" height="21.1" fill="#ff84f2"/>
<rect x="525.5" y="566" width="4.3" height="104" fill="#7cffe6"/>
<rect x="525.5" y="670" width="4.3" height="10.6" fill="#dc2cff"/>
<rect x="525.5" y="680.5" width="4.3" height="152.3" fill="#4f9cfc"/>
<rect x="529.8" y="545" width="3.8" height="3" fill="#7cffe6"/>
<rect x="529.8" y="548" width="3.8" height="12.1" fill="#dc2cff"/>
<rect x="529.8" y="560" width="3.8" height="264.9" fill="#4f9cfc"/>
<rect x="529.8" y="824.9" width="3.8" height="7.9" fill="#eefc3c"/>
<rect x="533.5" y="545" width="3.5" height="21.1" fill="#ff84f2"/>
<rect x="533.5" y="566" width="3.5" height="16.1" fill="#7cffe6"/>
<rect x="533.5" y="582" width="3.5" height="7" fill="#dc2cff"/>
<rect x="533.5" y="589" width="3.5" height="235.9" fill="#4f9cfc"/>
<rect x="533.5" y="824.9" width="3.5" height="7.9" fill="#eefc3c"/>
<rect x="537" y="545" width="3.7" height="16.1" fill="#ff84f2"/>
<rect x="537" y="561" width="3.7" height="7" fill="#45fa06"/>
<rect x="537" y="568" width="3.7" height="44.4" fill="#7cffe6"/>
<rect x="537" y="612.4" width="3.7" height="7.7" fill="#dc2cff"/>
<rect x="537" y="620" width="3.7" height="186.1" fill="#4f9cfc"/>
<rect x="537" y="806" width="3.7" height="26.8" fill="#eefc3c"/>
<rect x="540.6" y="545" width="4" height="10.8" fill="#3c9a22"/>
<rect x="540.6" y="555.7" width="4" height="8.7" fill="#f04880"/>
<rect x="540.6" y="564.4" width="4" height="15.7" fill="#45fa06"/>
<rect x="540.6" y="580" width="4" height="57.8" fill="#7cffe6"/>
<rect x="540.6" y="637.7" width="4" height="79.8" fill="#dc2cff"/>
<rect x="540.6" y="717.5" width="4" height="88.5" fill="#4f9cfc"/>
<rect x="540.6" y="806" width="4" height="26.8" fill="#eefc3c"/>
<rect x="544.6" y="545" width="3.4" height="28.1" fill="#ff84f2"/>
<rect x="544.6" y="573" width="3.4" height="115" fill="#7cffe6"/>
<rect x="544.6" y="688" width="3.4" height="3" fill="#dc2cff"/>
<rect x="544.6" y="691" width="3.4" height="141.8" fill="#4f9cfc"/>
<rect x="548" y="545" width="3.5" height="33" fill="#ff84f2"/>
<rect x="548" y="578" width="3.5" height="116" fill="#7cffe6"/>
<rect x="548" y="694" width="3.5" height="138.8" fill="#4f9cfc"/>
<rect x="551.5" y="545" width="3.5" height="28.1" fill="#ff84f2"/>
<rect x="551.5" y="573" width="3.5" height="140.9" fill="#7cffe6"/>
<rect x="551.5" y="713.9" width="3.5" height="6.4" fill="#dc2cff"/>
<rect x="551.5" y="720.2" width="3.5" height="112.5" fill="#4f9cfc"/>
<rect x="555" y="545" width="3.3" height="30.1" fill="#ff84f2"/>
<rect x="555" y="575" width="3.3" height="138.1" fill="#7cffe6"/>
<rect x="555" y="713" width="3.3" height="8.1" fill="#dc2cff"/>
<rect x="555" y="721" width="3.3" height="111.8" fill="#4f9cfc"/>
<rect x="558.3" y="545" width="3.8" height="24.8" fill="#ff84f2"/>
<rect x="558.3" y="569.7" width="3.8" height="6.9" fill="#dc2cff"/>
<rect x="558.3" y="576.6" width="3.8" height="246.4" fill="#4f9cfc"/>
<rect x="558.3" y="823" width="3.8" height="9.8" fill="#eefc3c"/>
<rect x="562" y="545" width="4" height="21.1" fill="#3c9a22"/>
<rect x="562" y="566" width="4" height="9.8" fill="#f04880"/>
<rect x="562" y="575.8" width="4" height="11.1" fill="#45fa06"/>
<rect x="562" y="586.8" width="4" height="59.8" fill="#7cffe6"/>
<rect x="562" y="646.5" width="4" height="85.5" fill="#dc2cff"/>
<rect x="562" y="732" width="4" height="65.8" fill="#4f9cfc"/>
<rect x="562" y="797.7" width="4" height="35" fill="#eefc3c"/>
<rect x="566" y="545" width="3.9" height="6.3" fill="#eca42e"/>
<rect x="566" y="551.3" width="3.9" height="3.5" fill="#ff84f2"/>
<rect x="566" y="554.8" width="3.9" height="275.3" fill="#4f9cfc"/>
<rect x="566" y="830" width="3.9" height="2.8" fill="#eefc3c"/>
<rect x="569.9" y="545" width="3.3" height="21.3" fill="#eca42e"/>
<rect x="569.9" y="566.2" width="3.3" height="266.6" fill="#4f9cfc"/>
<rect x="573.1" y="545" width="3.3" height="21.3" fill="#ff84f2"/>
<rect x="573.1" y="566.2" width="3.3" height="5.2" fill="#45fa06"/>
<rect x="573.1" y="571.4" width="3.3" height="19.3" fill="#dc2cff"/>
<rect x="573.1" y="590.6" width="3.3" height="223.4" fill="#4f9cfc"/>
<rect x="573.1" y="814" width="3.3" height="18.8" fill="#eefc3c"/>
<rect x="576.4" y="545" width="3.7" height="5.5" fill="#ff84f2"/>
<rect x="576.4" y="550.5" width="3.7" height="3.2" fill="#45fa06"/>
<rect x="576.4" y="553.6" width="3.7" height="24.8" fill="#7cffe6"/>
<rect x="576.4" y="578.4" width="3.7" height="6.2" fill="#dc2cff"/>
<rect x="576.4" y="584.5" width="3.7" height="246.6" fill="#4f9cfc"/>
<rect x="576.4" y="831" width="3.7" height="1.8" fill="#eefc3c"/>
<rect x="580" y="545" width="3.5" height="2" fill="#eca42e"/>
<rect x="580" y="547" width="3.5" height="11.3" fill="#ff84f2"/>
<rect x="580" y="558.3" width="3.5" height="6.2" fill="#45fa06"/>
<rect x="580" y="564.4" width="3.5" height="33.3" fill="#7cffe6"/>
<rect x="580" y="597.6" width="3.5" height="4.4" fill="#dc2cff"/>
<rect x="580" y="602" width="3.5" height="230.8" fill="#4f9cfc"/>
<rect x="583.5" y="545" width="3.9" height="105" fill="#eca42e"/>
<rect x="583.5" y="650" width="3.9" height="133.8" fill="#3c9a22"/>
<rect x="583.5" y="783.8" width="3.9" height="17.6" fill="#ff84f2"/>
<rect x="583.5" y="801.3" width="3.9" height="24.5" fill="#45fa06"/>
<rect x="583.5" y="825.7" width="3.9" height="7" fill="#eefc3c"/>
<rect x="587.4" y="545" width="3.7" height="245.6" fill="#eca42e"/>
<rect x="587.4" y="790.5" width="3.7" height="42.3" fill="#ff84f2"/>
<rect x="591" y="545" width="3.5" height="287.8" fill="#eca42e"/>
<rect x="594.5" y="545" width="3.6" height="30.8" fill="#3c9a22"/>
<rect x="594.5" y="575.8" width="3.6" height="16.7" fill="#ff84f2"/>
<rect x="594.5" y="592.4" width="3.6" height="176.6" fill="#45fa06"/>
<rect x="594.5" y="768.9" width="3.6" height="63.9" fill="#eefc3c"/>
<rect x="598.1" y="545" width="3.6" height="57.9" fill="#3c9a22"/>
<rect x="598.1" y="602.9" width="3.6" height="1.8" fill="#ff84f2"/>
<rect x="598.1" y="604.6" width="3.6" height="173.9" fill="#45fa06"/>
<rect x="598.1" y="778.5" width="3.6" height="2" fill="#dc2cff"/>
<rect x="598.1" y="780.5" width="3.6" height="52.3" fill="#eefc3c"/>
<rect x="601.7" y="545" width="3.6" height="47.4" fill="#3c9a22"/>
<rect x="601.7" y="592.4" width="3.6" height="11.4" fill="#ff84f2"/>
<rect x="601.7" y="603.7" width="3.6" height="170.1" fill="#45fa06"/>
<rect x="601.7" y="773.7" width="3.6" height="59" fill="#eefc3c"/>
<rect x="605.3" y="545" width="3.6" height="47.4" fill="#3c9a22"/>
<rect x="605.3" y="592.4" width="3.6" height="18.4" fill="#ff84f2"/>
<rect x="605.3" y="610.7" width="3.6" height="153.3" fill="#45fa06"/>
<rect x="605.3" y="764" width="3.6" height="68.8" fill="#eefc3c"/>
<rect x="608.9" y="545" width="3.6" height="37" fill="#3c9a22"/>
<rect x="608.9" y="582" width="3.6" height="22.7" fill="#ff84f2"/>
<rect x="608.9" y="604.6" width="3.6" height="168.8" fill="#45fa06"/>
<rect x="608.9" y="773.4" width="3.6" height="59.4" fill="#eefc3c"/>
<rect x="612.5" y="545" width="3.6" height="37" fill="#3c9a22"/>
<rect x="612.5" y="582" width="3.6" height="16.6" fill="#ff84f2"/>
<rect x="612.5" y="598.5" width="3.6" height="165.6" fill="#45fa06"/>
<rect x="612.5" y="764" width="3.6" height="68.8" fill="#eefc3c"/>
<rect x="616.1" y="545" width="3.6" height="43" fill="#3c9a22"/>
<rect x="616.1" y="588" width="3.6" height="26.3" fill="#ff84f2"/>
<rect x="616.1" y="614.2" width="3.6" height="163.7" fill="#45fa06"/>
<rect x="616.1" y="777.9" width="3.6" height="54.9" fill="#eefc3c"/>
<rect x="619.7" y="545" width="3.6" height="45.7" fill="#3c9a22"/>
<rect x="619.7" y="590.6" width="3.6" height="21.9" fill="#ff84f2"/>
<rect x="619.7" y="612.5" width="3.6" height="165.9" fill="#45fa06"/>
<rect x="619.7" y="778.4" width="3.6" height="54.4" fill="#eefc3c"/>
<rect x="623.3" y="545" width="3.6" height="1.1" fill="#eca42e"/>
<rect x="623.3" y="546" width="3.6" height="52.5" fill="#3c9a22"/>
<rect x="623.3" y="598.5" width="3.6" height="14.1" fill="#ff84f2"/>
<rect x="623.3" y="612.5" width="3.6" height="175.3" fill="#45fa06"/>
<rect x="623.3" y="787.8" width="3.6" height="45" fill="#eefc3c"/>
<rect x="626.9" y="545" width="3.6" height="15.8" fill="#eca42e"/>
<rect x="626.9" y="560.8" width="3.6" height="43.9" fill="#3c9a22"/>
<rect x="626.9" y="604.6" width="3.6" height="18.4" fill="#ff84f2"/>
<rect x="626.9" y="623" width="3.6" height="154.9" fill="#45fa06"/>
<rect x="626.9" y="777.9" width="3.6" height="54.9" fill="#eefc3c"/>
<rect x="630.5" y="545" width="3.6" height="24.1" fill="#eca42e"/>
<rect x="630.5" y="569" width="3.6" height="56.7" fill="#3c9a22"/>
<rect x="630.5" y="625.6" width="3.6" height="4.4" fill="#ff84f2"/>
<rect x="630.5" y="630" width="3.6" height="163.3" fill="#45fa06"/>
<rect x="630.5" y="793.2" width="3.6" height="39.5" fill="#eefc3c"/>
<rect x="634" y="545" width="3.6" height="25.8" fill="#eca42e"/>
<rect x="634" y="570.7" width="3.6" height="61" fill="#3c9a22"/>
<rect x="634" y="631.7" width="3.6" height="20.1" fill="#ff84f2"/>
<rect x="634" y="651.7" width="3.6" height="127.1" fill="#45fa06"/>
<rect x="634" y="778.8" width="3.6" height="54" fill="#eefc3c"/>
<rect x="637.6" y="545" width="3.6" height="29.3" fill="#eca42e"/>
<rect x="637.6" y="574.2" width="3.6" height="54.8" fill="#3c9a22"/>
<rect x="637.6" y="629" width="3.6" height="6" fill="#ff84f2"/>
<rect x="637.6" y="635" width="3.6" height="145.1" fill="#45fa06"/>
<rect x="637.6" y="780" width="3.6" height="2" fill="#dc2cff"/>
<rect x="637.6" y="782" width="3.6" height="50.8" fill="#eefc3c"/>
<rect x="641.2" y="545" width="3.6" height="35.7" fill="#eca42e"/>
<rect x="641.2" y="580.6" width="3.6" height="54.4" fill="#3c9a22"/>
<rect x="641.2" y="635" width="3.6" height="20.1" fill="#ff84f2"/>
<rect x="641.2" y="655" width="3.6" height="136.4" fill="#45fa06"/>
<rect x="641.2" y="791.4" width="3.6" height="41.4" fill="#eefc3c"/>
<rect x="644.8" y="545" width="3.6" height="40.3" fill="#eca42e"/>
<rect x="644.8" y="585.3" width="3.6" height="56" fill="#3c9a22"/>
<rect x="644.8" y="641.3" width="3.6" height="143.5" fill="#45fa06"/>
<rect x="644.8" y="784.7" width="3.6" height="48" fill="#eefc3c"/>
<rect x="648.4" y="545" width="3.6" height="63.8" fill="#eca42e"/>
<rect x="648.4" y="608.7" width="3.6" height="50" fill="#3c9a22"/>
<rect x="648.4" y="658.7" width="3.6" height="9.6" fill="#ff84f2"/>
<rect x="648.4" y="668.3" width="3.6" height="124.5" fill="#45fa06"/>
<rect x="648.4" y="792.8" width="3.6" height="40" fill="#eefc3c"/>
<rect x="652" y="545" width="3.6" height="63.8" fill="#eca42e"/>
<rect x="652" y="608.7" width="3.6" height="31.3" fill="#3c9a22"/>
<rect x="652" y="640" width="3.6" height="22.1" fill="#ff84f2"/>
<rect x="652" y="662" width="3.6" height="133.1" fill="#45fa06"/>
<rect x="652" y="795" width="3.6" height="37.8" fill="#eefc3c"/>
<rect x="655.6" y="545" width="3.6" height="104.3" fill="#eca42e"/>
<rect x="655.6" y="649.2" width="3.6" height="46.6" fill="#3c9a22"/>
<rect x="655.6" y="695.8" width="3.6" height="8.3" fill="#ff84f2"/>
<rect x="655.6" y="704" width="3.6" height="101.5" fill="#45fa06"/>
<rect x="655.6" y="805.5" width="3.6" height="27.3" fill="#eefc3c"/>
<rect x="659.2" y="545" width="3.6" height="113.8" fill="#eca42e"/>
<rect x="659.2" y="658.7" width="3.6" height="28.1" fill="#3c9a22"/>
<rect x="659.2" y="686.8" width="3.6" height="6.3" fill="#ff84f2"/>
<rect x="659.2" y="693" width="3.6" height="103.8" fill="#45fa06"/>
<rect x="659.2" y="796.8" width="3.6" height="6.3" fill="#4f9cfc"/>
<rect x="659.2" y="803" width="3.6" height="29.8" fill="#eefc3c"/>
<rect x="662.8" y="545" width="3.6" height="168.1" fill="#eca42e"/>
<rect x="662.8" y="713" width="3.6" height="17.1" fill="#3c9a22"/>
<rect x="662.8" y="730" width="3.6" height="33.4" fill="#ff84f2"/>
<rect x="662.8" y="763.4" width="3.6" height="43.9" fill="#45fa06"/>
<rect x="662.8" y="807.3" width="3.6" height="16.7" fill="#dc2cff"/>
<rect x="662.8" y="823.9" width="3.6" height="1.9" fill="#4f9cfc"/>
<rect x="662.8" y="825.7" width="3.6" height="7" fill="#eefc3c"/>
</g>
<line x1="33.7" y1="531" x2="33.7" y2="837.6" stroke="#111" stroke-width="1.35"/>
<line x1="44.1" y1="531" x2="44.1" y2="837.6" stroke="#111" stroke-width="1.35"/>
<line x1="61.2" y1="531" x2="61.2" y2="837.6" stroke="#111" stroke-width="1.35"/>
<line x1="132.4" y1="531" x2="132.4" y2="837.6" stroke="#111" stroke-width="1.35"/>
<line x1="187.4" y1="531" x2="187.4" y2="837.6" stroke="#111" stroke-width="1.35"/>
<line x1="199.8" y1="531" x2="199.8" y2="837.6" stroke="#111" stroke-width="1.35"/>
<line x1="222.9" y1="531" x2="222.9" y2="837.6" stroke="#111" stroke-width="1.35"/>
<line x1="238.4" y1="531" x2="238.4" y2="837.6" stroke="#111" stroke-width="1.35"/>
<line x1="240.3" y1="531" x2="240.3" y2="837.6" stroke="#111" stroke-width="1.35"/>
<line x1="252.6" y1="531" x2="252.6" y2="837.6" stroke="#111" stroke-width="1.35"/>
<line x1="261.2" y1="531" x2="261.2" y2="837.6" stroke="#111" stroke-width="1.35"/>
<line x1="282.1" y1="531" x2="282.1" y2="837.6" stroke="#111" stroke-width="1.35"/>
<line x1="300.8" y1="531" x2="300.8" y2="837.6" stroke="#111" stroke-width="1.35"/>
<line x1="359.9" y1="531" x2="359.9" y2="837.6" stroke="#111" stroke-width="1.35"/>
<line x1="229.7" y1="545.0" x2="229.7" y2="832.7" stroke="#4a3a30" stroke-width="0.8" opacity="0.8"/>
<line x1="232.4" y1="545.0" x2="232.4" y2="832.7" stroke="#4a3a30" stroke-width="0.8" opacity="0.8"/>
<line x1="235.5" y1="545.0" x2="235.5" y2="832.7" stroke="#4a3a30" stroke-width="0.8" opacity="0.8"/>
<line x1="251.2" y1="545.0" x2="251.2" y2="832.7" stroke="#4a3a30" stroke-width="0.8" opacity="0.8"/>
<line x1="266.7" y1="545.0" x2="266.7" y2="832.7" stroke="#4a3a30" stroke-width="0.8" opacity="0.8"/>
<line x1="289.5" y1="545.0" x2="289.5" y2="832.7" stroke="#4a3a30" stroke-width="0.8" opacity="0.8"/>
<line x1="294.8" y1="545.0" x2="294.8" y2="832.7" stroke="#4a3a30" stroke-width="0.8" opacity="0.8"/>
<line x1="362.2" y1="545.0" x2="362.2" y2="832.7" stroke="#4a3a30" stroke-width="0.8" opacity="0.8"/>
<line x1="346.4" y1="678" x2="346.4" y2="832" stroke="#b48cff" stroke-width="0.7"/>
<line x1="443.9" y1="530.5" x2="443.9" y2="837.6" stroke="#111" stroke-width="1.35"/>
<line x1="472.6" y1="545.0" x2="472.6" y2="832.7" stroke="#2a3440" stroke-width="0.8" opacity="0.85"/>
<line x1="476.6" y1="545.0" x2="476.6" y2="832.7" stroke="#2a3440" stroke-width="0.8" opacity="0.85"/>
<line x1="529.8" y1="545.0" x2="529.8" y2="832.7" stroke="#2a3440" stroke-width="0.8" opacity="0.85"/>
<line x1="544.6" y1="545.0" x2="544.6" y2="832.7" stroke="#2a3440" stroke-width="0.8" opacity="0.85"/>
<line x1="558.3" y1="545.0" x2="558.3" y2="832.7" stroke="#2a3440" stroke-width="0.8" opacity="0.85"/>
<line x1="576.3" y1="545.0" x2="576.3" y2="832.7" stroke="#2a3440" stroke-width="0.8" opacity="0.85"/>
<line x1="583.5" y1="545.0" x2="583.5" y2="832.7" stroke="#2a3440" stroke-width="0.8" opacity="0.85"/>
<line x1="587.4" y1="545.0" x2="587.4" y2="832.7" stroke="#2a3440" stroke-width="0.8" opacity="0.85"/>
<line x1="594.5" y1="545.0" x2="594.5" y2="832.7" stroke="#2a3440" stroke-width="0.8" opacity="0.85"/>
<line x1="666.2" y1="545.0" x2="666.2" y2="832.7" stroke="#2a3440" stroke-width="0.8" opacity="0.85"/>
<rect x="6.1" y="840.2" width="369.4" height="4.7" fill="#6f4e4e"/>
<rect x="387.1" y="840.2" width="279.5" height="4.7" fill="#6f4e4e"/>
<text x="163.7" y="857.2" font-size="11.4" fill="#222">modern</text>
<text x="512.2" y="857.2" font-size="11.4" fill="#222">ancient</text>
<text transform="translate(4 538.5) rotate(-39)" font-size="8.6" font-weight="normal" fill="#555">sub_Saharan</text>
<text transform="translate(21 537.5) rotate(-39)" font-size="8.6" font-weight="normal" fill="#555">Africa</text>
<text transform="translate(37 538.5) rotate(-39)" font-size="8.6" font-weight="normal" fill="#555">Europe</text>
<text transform="translate(50.5 538.5) rotate(-39)" font-size="8.6" font-weight="normal" fill="#3cb83c">New Guinea</text>
<text x="80.9" y="527.2" font-size="8.1" font-weight="bold" fill="#3cb83c" text-anchor="start">Bismarck</text>
<text x="76.7" y="537.5" font-size="8.1" font-weight="bold" fill="#3cb83c" text-anchor="start">Archipelago</text>
<text x="147.1" y="538.6" font-size="8.1" font-weight="bold" fill="#9a1a86" text-anchor="start">Vanuatu</text>
<text transform="translate(193 538.5) rotate(-40)" font-size="7.4" font-weight="bold" fill="#3cb83c">Bougainville</text>
<text transform="translate(208 538.5) rotate(-40)" font-size="7.4" font-weight="bold" fill="#7a2af0">Solomon Is</text>
<text transform="translate(225 538.5) rotate(-40)" font-size="7.4" font-weight="bold" fill="#55aaff">Polynesia</text>
<text transform="translate(238 538.5) rotate(-40)" font-size="7.4" font-weight="bold" fill="#66eedd">Micronesia</text>
<text transform="translate(246 538.5) rotate(-40)" font-size="7.4" font-weight="bold" fill="#4a2a8c">Philippines</text>
<text transform="translate(256.5 538) rotate(-40)" font-size="7.4" font-weight="bold" fill="#3a9a8a">Taiwan</text>
<text transform="translate(267 538.5) rotate(-40)" font-size="7.4" font-weight="bold" fill="#e07040">Indonesia</text>
<text transform="translate(288 538.5) rotate(-40)" font-size="7.4" font-weight="bold" fill="#40a860">SE Asia</text>
<text x="321" y="537.8" font-size="8.1" font-weight="bold" fill="#40a860" text-anchor="start">China</text>
<text transform="translate(367 538.5) rotate(-40)" font-size="7.4" font-weight="bold" fill="#40a860">East Asia</text>
<text x="393.3" y="529.2" font-size="8.1" font-weight="bold" fill="#ff2020" text-anchor="start">ancient</text>
<text x="396.4" y="538.4" font-size="8.1" font-weight="bold" fill="#ff2020" text-anchor="start">Guam</text>
<text transform="translate(429.5 538.5) rotate(-40)" font-size="7.4" font-weight="bold" fill="#ff2020">Lapita Vanuatu</text>
<text transform="translate(452 538.5) rotate(-40)" font-size="7.4" font-weight="bold" fill="#ff2020">Lapita Tonga</text>
<text transform="translate(475 538.5) rotate(-40)" font-size="7.4" font-weight="bold" fill="#111">Japan</text>
<text x="528.8" y="537.5" font-size="8.1" font-weight="bold" fill="#111" text-anchor="start">SE Asia</text>
<text transform="translate(578.5 538.5) rotate(-40)" font-size="7.4" font-weight="bold" fill="#ff2020">Liangdao</text>
<text transform="translate(588.5 538.5) rotate(-40)" font-size="7.4" font-weight="bold" fill="#111">Solomon Is</text>
<text transform="translate(598 538.5) rotate(-40)" font-size="7.4" font-weight="bold" fill="#111">Polynesia</text>
<text x="617.7" y="538.5" font-size="8.1" font-weight="bold" fill="#111" text-anchor="start">Vanuatu</text>
<rect x="548.2" y="42.8" width="5.5" height="5.5" fill="#3c9f2c"/>
<rect x="538.4" y="46.8" width="5.5" height="5.5" fill="#3c9f2c"/>
<rect x="544.2" y="47.5" width="5.5" height="5.5" fill="#3c9f2c"/>
<rect x="549.3" y="51.5" width="5.5" height="5.5" fill="#3c9f2c"/>
<rect x="536.9" y="50.4" width="5.5" height="5.5" fill="#3c9f2c"/>
<rect x="541.3" y="51.9" width="5.5" height="5.5" fill="#3c9f2c"/>
<rect x="532.9" y="55.9" width="5.5" height="5.5" fill="#3c9f2c"/>
<rect x="538.4" y="54.8" width="5.5" height="5.5" fill="#3c9f2c"/>
<rect x="544.9" y="54.1" width="5.5" height="5.5" fill="#3c9f2c"/>
<rect x="541.3" y="58.1" width="5.5" height="5.5" fill="#3c9f2c"/>
<rect x="531.1" y="65.8" width="5.5" height="5.5" fill="#3c9f2c"/>
<rect x="536.9" y="65" width="5.5" height="5.5" fill="#3c9f2c"/>
<rect x="542" y="67.2" width="5.5" height="5.5" fill="#3c9f2c"/>
<rect x="544.2" y="71.6" width="5.5" height="5.5" fill="#3c9f2c"/>
<rect x="530.3" y="72.3" width="5.5" height="5.5" fill="#3c9f2c"/>
<rect x="535.4" y="75.3" width="5.5" height="5.5" fill="#3c9f2c"/>
<rect x="542" y="76" width="5.5" height="5.5" fill="#3c9f2c"/>
<rect x="538.4" y="70.2" width="5.5" height="5.5" fill="#3c9f2c"/>
<rect x="533.2" y="69.2" width="5.5" height="5.5" fill="#3c9f2c"/>
<rect x="546.2" y="66.2" width="5.5" height="5.5" fill="#3c9f2c"/>
<rect x="534.2" y="49.2" width="5.5" height="5.5" fill="#3c9f2c"/>
<rect x="540.2" y="48.2" width="5.5" height="5.5" fill="#3c9f2c"/>
<rect x="535.2" y="54.2" width="5.5" height="5.5" fill="#3c9f2c"/>
<rect x="543.2" y="57.2" width="5.5" height="5.5" fill="#3c9f2c"/>
<rect x="547.2" y="45.2" width="5.5" height="5.5" fill="#3c9f2c"/>
<rect x="533.7" y="64.2" width="5.5" height="5.5" fill="#3c9f2c"/>
<rect x="539.2" y="63.2" width="5.5" height="5.5" fill="#3c9f2c"/>
<rect x="543.2" y="74.2" width="5.5" height="5.5" fill="#3c9f2c"/>
<rect x="538.2" y="76.2" width="5.5" height="5.5" fill="#3c9f2c"/>
<rect x="532.2" y="76.2" width="5.5" height="5.5" fill="#3c9f2c"/>
<rect x="446.7" y="147.6" width="5" height="5" fill="#3c9f2c"/>
<circle cx="458.8" cy="136.1" r="3" stroke="#3c9f2c" stroke-width="0.9" fill="none"/>
<circle cx="423.8" cy="148.3" r="3" stroke="#3c9f2c" stroke-width="0.9" fill="none"/>
<circle cx="428.2" cy="153.6" r="3" stroke="#3c9f2c" stroke-width="0.9" fill="none"/>
<circle cx="416.5" cy="166.7" r="3" stroke="#3c9f2c" stroke-width="0.9" fill="none"/>
<circle cx="350.1" cy="204.3" r="3" stroke="#3c9f2c" stroke-width="0.9" fill="none"/>
<circle cx="345.4" cy="214.6" r="3" stroke="#3c9f2c" stroke-width="0.9" fill="none"/>
<circle cx="336.8" cy="218" r="3" stroke="#3c9f2c" stroke-width="0.9" fill="none"/>
<circle cx="275.9" cy="259.4" r="3" stroke="#3c9f2c" stroke-width="0.9" fill="none"/>
<polygon points="484.8,193.4 488.4,199.5 481.2,199.5" fill="#3c9f2c"/>
<polygon points="514.9,170.6 518.5,176.7 511.2,176.7" fill="#3c9f2c"/>
<polygon points="500,179.7 503.6,185.8 496.4,185.8" fill="#3c9f2c"/>
<polygon points="492.9,183.6 496.5,189.6 489.3,189.6" fill="#3c9f2c"/>
<polygon points="483.7,192.5 487.3,198.6 480.1,198.6" fill="#3c9f2c"/>
<polygon points="502.6,173.5 506.2,179.6 499,179.6" fill="#3c9f2c"/>
<polygon points="505.1,175.7 508.7,181.8 501.5,181.8" fill="#3c9f2c"/>
<polygon points="480.3,200.8 484,206.9 476.7,206.9" fill="#3c9f2c"/>
<polygon points="505.4,181.1 509,187.2 501.8,187.2" fill="#3c9f2c"/>
<polygon points="490.2,189.6 493.8,195.7 486.6,195.7" fill="#3c9f2c"/>
<polygon points="487.5,192.3 491.1,198.4 483.9,198.4" fill="#3c9f2c"/>
<polygon points="500,187.2 503.6,193.3 496.4,193.3" fill="#3c9f2c"/>
<polygon points="503.1,182.1 506.7,188.1 499.5,188.1" fill="#3c9f2c"/>
<polygon points="498,180.6 501.6,186.7 494.4,186.7" fill="#3c9f2c"/>
<polygon points="484.8,193 488.4,199.1 481.2,199.1" fill="#3c9f2c"/>
<polygon points="510.4,176.9 514,183 506.8,183" fill="#3c9f2c"/>
<polygon points="504.2,170.8 507.8,176.9 500.6,176.9" fill="#3c9f2c"/>
<polygon points="513.5,173.8 517.1,179.9 509.9,179.9" fill="#3c9f2c"/>
<polygon points="482.9,195.5 486.5,201.5 479.3,201.5" fill="#3c9f2c"/>
<polygon points="510.6,181.7 514.2,187.8 507,187.8" fill="#3c9f2c"/>
<polygon points="509.8,178.4 513.4,184.5 506.2,184.5" fill="#3c9f2c"/>
<polygon points="517.3,173.2 520.9,179.3 513.7,179.3" fill="#3c9f2c"/>
<polygon points="517.7,176.2 521.3,182.3 514.1,182.3" fill="#3c9f2c"/>
<polygon points="497.7,179.1 501.3,185.2 494.1,185.2" fill="#3c9f2c"/>
<polygon points="499.1,181.6 502.7,187.6 495.5,187.6" fill="#3c9f2c"/>
<polygon points="477.9,205 481.5,211.1 474.3,211.1" fill="#3c9f2c"/>
<polygon points="473.1,201.8 476.7,207.9 469.5,207.9" fill="#3c9f2c"/>
<polygon points="483.7,195.3 487.3,201.4 480.1,201.4" fill="#3c9f2c"/>
<polygon points="497.6,182.4 501.2,188.5 494,188.5" fill="#3c9f2c"/>
<polygon points="505.2,183.3 508.9,189.4 501.6,189.4" fill="#3c9f2c"/>
<polygon points="485,193.4 488.6,199.5 481.4,199.5" fill="#3c9f2c"/>
<polygon points="509.2,183.3 512.8,189.4 505.6,189.4" fill="#3c9f2c"/>
<polygon points="487.8,197.4 491.4,203.5 484.2,203.5" fill="#3c9f2c"/>
<polygon points="470.3,202.8 473.9,208.9 466.7,208.9" fill="#3c9f2c"/>
<polygon points="508.7,168.2 512.3,174.3 505.1,174.3" fill="#3c9f2c"/>
<polygon points="514.9,174.3 518.6,180.3 511.3,180.3" fill="#3c9f2c"/>
<polygon points="470.2,204.2 473.8,210.3 466.5,210.3" fill="#3c9f2c"/>
<polygon points="505.2,171 508.8,177.1 501.6,177.1" fill="#3c9f2c"/>
<polygon points="507.5,183.9 511.1,190 503.8,190" fill="#3c9f2c"/>
<polygon points="507.1,173.4 510.7,179.5 503.5,179.5" fill="#3c9f2c"/>
<polygon points="491.5,195.1 495.2,201.2 487.9,201.2" fill="#3c9f2c"/>
<polygon points="515.9,172.9 519.6,179 512.3,179" fill="#3c9f2c"/>
<polygon points="480.5,197.9 484.1,204 476.8,204" fill="#3c9f2c"/>
<polygon points="482,201 485.6,207.1 478.4,207.1" fill="#3c9f2c"/>
<polygon points="491.3,193.2 494.9,199.2 487.7,199.2" fill="#3c9f2c"/>
<polygon points="476.9,198.5 480.5,204.6 473.2,204.6" fill="#3c9f2c"/>
<polygon points="513.4,177.1 517,183.2 509.8,183.2" fill="#3c9f2c"/>
<polygon points="474,197.9 477.7,204 470.4,204" fill="#3c9f2c"/>
<polygon points="478,205.1 481.7,211.2 474.4,211.2" fill="#3c9f2c"/>
<polygon points="506,170.1 509.6,176.1 502.4,176.1" fill="#3c9f2c"/>
<polygon points="468.5,203.7 472.1,209.8 464.9,209.8" fill="#3c9f2c"/>
<polygon points="488.7,188.1 492.3,194.1 485.1,194.1" fill="#3c9f2c"/>
<polygon points="479.2,196.1 482.8,202.2 475.6,202.2" fill="#3c9f2c"/>
<polygon points="469.6,206.1 473.3,212.2 466,212.2" fill="#3c9f2c"/>
<polygon points="516.6,170.6 520.2,176.6 513,176.6" fill="#3c9f2c"/>
<polygon points="480.4,196.6 484,202.7 476.8,202.7" fill="#3c9f2c"/>
<polygon points="478.7,200.1 482.3,206.2 475.1,206.2" fill="#3c9f2c"/>
<polygon points="473.6,206.2 477.2,212.3 470,212.3" fill="#3c9f2c"/>
<polygon points="518,172.6 521.6,178.6 514.4,178.6" fill="#3c9f2c"/>
<polygon points="482.6,198.6 486.2,204.7 478.9,204.7" fill="#3c9f2c"/>
<polygon points="547.7,168.1 551.4,174.2 544.1,174.2" fill="#3c9f2c"/>
<polygon points="548.9,166.5 552.5,172.6 545.3,172.6" fill="#3c9f2c"/>
<polygon points="541.2,162 544.8,168.1 537.6,168.1" fill="#3c9f2c"/>
<polygon points="535.6,170.7 539.2,176.7 532,176.7" fill="#3c9f2c"/>
<polygon points="551.4,167.9 555,174 547.7,174" fill="#3c9f2c"/>
<polygon points="551,164.9 554.6,171 547.4,171" fill="#3c9f2c"/>
<polygon points="540.1,165.3 543.7,171.4 536.5,171.4" fill="#3c9f2c"/>
<polygon points="545.6,163.2 549.2,169.2 542,169.2" fill="#3c9f2c"/>
<polygon points="551.7,164.9 555.3,170.9 548.1,170.9" fill="#3c9f2c"/>
<polygon points="541.7,165.7 545.3,171.7 538,171.7" fill="#3c9f2c"/>
<polygon points="546.5,171.5 550.1,177.6 542.8,177.6" fill="#3c9f2c"/>
<polygon points="542.1,172.7 545.7,178.8 538.5,178.8" fill="#3c9f2c"/>
<polygon points="551.9,170.8 555.5,176.9 548.3,176.9" fill="#3c9f2c"/>
<polygon points="543.6,171.1 547.2,177.2 540,177.2" fill="#3c9f2c"/>
<polygon points="487.9,236.2 491.6,242.2 484.3,242.2" fill="#3c9f2c"/>
<polygon points="483,221.7 486.6,227.8 479.4,227.8" fill="#3c9f2c"/>
<polygon points="478.8,222.8 482.4,228.9 475.2,228.9" fill="#3c9f2c"/>
<polygon points="481.6,231.8 485.2,237.9 478,237.9" fill="#3c9f2c"/>
<polygon points="474.4,224.2 478.1,230.3 470.8,230.3" fill="#3c9f2c"/>
<polygon points="487.7,239.6 491.3,245.7 484.1,245.7" fill="#3c9f2c"/>
<polygon points="482.2,232.2 485.8,238.3 478.5,238.3" fill="#3c9f2c"/>
<polygon points="483.9,241.6 487.6,247.7 480.3,247.7" fill="#3c9f2c"/>
<polygon points="485.1,225.4 488.7,231.5 481.5,231.5" fill="#3c9f2c"/>
<polygon points="488.9,229.8 492.5,235.9 485.3,235.9" fill="#3c9f2c"/>
<polygon points="483.2,235.6 486.8,241.7 479.6,241.7" fill="#3c9f2c"/>
<polygon points="484.6,230 488.2,236.1 481,236.1" fill="#3c9f2c"/>
<polygon points="481.5,229.3 485.1,235.3 477.9,235.3" fill="#3c9f2c"/>
<polygon points="474.3,230.9 477.9,237 470.6,237" fill="#3c9f2c"/>
<polygon points="470.8,230.2 474.4,236.3 467.2,236.3" fill="#3c9f2c"/>
<polygon points="484.2,228.9 487.8,234.9 480.6,234.9" fill="#3c9f2c"/>
<polygon points="482.5,241.2 486.1,247.3 478.8,247.3" fill="#3c9f2c"/>
<polygon points="487.4,233.2 491,239.2 483.8,239.2" fill="#3c9f2c"/>
<polygon points="471.1,226.8 474.7,232.9 467.5,232.9" fill="#3c9f2c"/>
<polygon points="481.9,240.5 485.5,246.6 478.2,246.6" fill="#3c9f2c"/>
<polygon points="477.1,239.1 480.7,245.2 473.5,245.2" fill="#3c9f2c"/>
<polygon points="485.3,221.4 488.9,227.5 481.7,227.5" fill="#3c9f2c"/>
<polygon points="488.9,232.6 492.5,238.7 485.3,238.7" fill="#3c9f2c"/>
<polygon points="490.4,235.4 494,241.5 486.8,241.5" fill="#3c9f2c"/>
<polygon points="468.6,256.4 472.2,262.5 465,262.5" fill="#3c9f2c"/>
<polygon points="473,258.7 476.6,264.8 469.4,264.8" fill="#3c9f2c"/>
<polygon points="469.2,259.8 472.9,265.9 465.6,265.9" fill="#3c9f2c"/>
<polygon points="447.8,260.1 451.4,266.2 444.2,266.2" fill="#3c9f2c"/>
<polygon points="467.2,261.1 470.8,267.2 463.6,267.2" fill="#3c9f2c"/>
<polygon points="457.2,263.8 460.8,269.9 453.6,269.9" fill="#3c9f2c"/>
<polygon points="453,259.3 456.6,265.4 449.4,265.4" fill="#3c9f2c"/>
<polygon points="469.3,257.8 472.9,263.9 465.6,263.9" fill="#3c9f2c"/>
<polygon points="448.5,269.8 452.1,275.9 444.9,275.9" fill="#3c9f2c"/>
<polygon points="467.9,257 471.5,263.1 464.3,263.1" fill="#3c9f2c"/>
<polygon points="455.4,260.9 459,267 451.7,267" fill="#3c9f2c"/>
<polygon points="463.5,253.6 467.1,259.7 459.9,259.7" fill="#3c9f2c"/>
<polygon points="470.2,251.6 473.8,257.7 466.6,257.7" fill="#3c9f2c"/>
<polygon points="458.6,252.9 462.2,259 454.9,259" fill="#3c9f2c"/>
<polygon points="456.5,252.2 460.1,258.3 452.9,258.3" fill="#3c9f2c"/>
<polygon points="448.1,260 451.7,266 444.4,266" fill="#3c9f2c"/>
<polygon points="458.1,258 461.7,264.1 454.5,264.1" fill="#3c9f2c"/>
<polygon points="467.3,249.4 470.9,255.5 463.7,255.5" fill="#3c9f2c"/>
<polygon points="456.5,257.7 460.1,263.8 452.9,263.8" fill="#3c9f2c"/>
<polygon points="459.1,252.2 462.7,258.2 455.5,258.2" fill="#3c9f2c"/>
<polygon points="464.4,256.5 468,262.6 460.8,262.6" fill="#3c9f2c"/>
<polygon points="468.2,254.8 471.8,260.9 464.6,260.9" fill="#3c9f2c"/>
<polygon points="470.4,259.4 474,265.5 466.8,265.5" fill="#3c9f2c"/>
<polygon points="475.6,255.4 479.2,261.5 472,261.5" fill="#3c9f2c"/>
<polygon points="451,254.6 454.6,260.7 447.4,260.7" fill="#3c9f2c"/>
<polygon points="471.3,263.3 474.9,269.4 467.7,269.4" fill="#3c9f2c"/>
<polygon points="443.9,263.9 447.6,270 440.3,270" fill="#3c9f2c"/>
<polygon points="474.4,253 478,259.1 470.8,259.1" fill="#3c9f2c"/>
<polygon points="477.1,259.6 480.7,265.7 473.4,265.7" fill="#3c9f2c"/>
<polygon points="453,262.8 456.6,268.8 449.4,268.8" fill="#3c9f2c"/>
<polygon points="452.6,268.6 456.2,274.7 449,274.7" fill="#3c9f2c"/>
<polygon points="446.1,257.6 449.7,263.6 442.5,263.6" fill="#3c9f2c"/>
<polygon points="454,264.5 457.6,270.6 450.4,270.6" fill="#3c9f2c"/>
<polygon points="475.4,252.4 479,258.5 471.8,258.5" fill="#3c9f2c"/>
<polygon points="468.6,265.8 472.2,271.9 465,271.9" fill="#3c9f2c"/>
<polygon points="472.1,261.5 475.7,267.6 468.5,267.6" fill="#3c9f2c"/>
<polygon points="475.2,256.9 478.9,263 471.6,263" fill="#3c9f2c"/>
<polygon points="456.9,253.7 460.5,259.8 453.3,259.8" fill="#3c9f2c"/>
<polygon points="470.1,259.7 473.7,265.8 466.4,265.8" fill="#3c9f2c"/>
<polygon points="451.7,252.3 455.3,258.4 448.1,258.4" fill="#3c9f2c"/>
<polygon points="467.9,262.7 471.6,268.8 464.3,268.8" fill="#3c9f2c"/>
<polygon points="467.6,257.5 471.2,263.6 464,263.6" fill="#3c9f2c"/>
<polygon points="442.2,212.2 445.8,218.3 438.6,218.3" fill="#3c9f2c"/>
<polygon points="515.5,164.9 519.1,171 511.9,171" fill="#3c9f2c"/>
<polygon points="438.3,215.4 441.9,221.5 434.7,221.5" fill="#3c9f2c"/>
<polygon points="440.7,211.3 444.3,217.4 437.1,217.4" fill="#3c9f2c"/>
<polygon points="501.1,171.4 504.7,177.5 497.5,177.5" fill="#3c9f2c"/>
<polygon points="493,185.3 496.6,191.3 489.4,191.3" fill="#3c9f2c"/>
<polygon points="507.7,151.4 511.3,157.5 504.1,157.5" fill="#3c9f2c"/>
<polygon points="499.4,161.7 503,167.8 495.8,167.8" fill="#3c9f2c"/>
<polygon points="439.3,168 442.9,174.1 435.7,174.1" fill="#3c9f2c"/>
<polygon points="468.3,180.4 471.9,186.5 464.7,186.5" fill="#3c9f2c"/>
<polygon points="433.1,196 436.7,202.1 429.5,202.1" fill="#3c9f2c"/>
<polygon points="413.6,179 417.2,185.1 410,185.1" fill="#3c9f2c"/>
<polygon points="422.9,193 426.5,199.1 419.3,199.1" fill="#3c9f2c"/>
<polygon points="432.7,196.3 436.3,202.4 429.1,202.4" fill="#3c9f2c"/>
<polygon points="449.2,199.6 452.8,205.7 445.6,205.7" fill="#3c9f2c"/>
<polygon points="461,200.9 464.6,207 457.4,207" fill="#3c9f2c"/>
<polygon points="436,204.2 439.6,210.3 432.4,210.3" fill="#3c9f2c"/>
<polygon points="440,206.2 443.6,212.3 436.4,212.3" fill="#3c9f2c"/>
<polygon points="442.6,206.8 446.2,212.9 439,212.9" fill="#3c9f2c"/>
<polygon points="453.1,206.8 456.7,212.9 449.5,212.9" fill="#3c9f2c"/>
<polygon points="437.3,211.4 440.9,217.5 433.7,217.5" fill="#3c9f2c"/>
<polygon points="440.6,213.4 444.2,219.5 437,219.5" fill="#3c9f2c"/>
<polygon points="428.1,220.6 431.7,226.7 424.5,226.7" fill="#3c9f2c"/>
<polygon points="433.4,219.3 437,225.4 429.8,225.4" fill="#3c9f2c"/>
<polygon points="418.3,223.9 421.9,230 414.7,230" fill="#3c9f2c"/>
<polygon points="420.9,224.6 424.5,230.7 417.3,230.7" fill="#3c9f2c"/>
<polygon points="415.5,202.2 419.1,208.3 411.9,208.3" fill="#3c9f2c"/>
<polygon points="472.8,195.7 476.4,201.8 469.2,201.8" fill="#3c9f2c"/>
<polygon points="478.1,188.4 481.7,194.5 474.5,194.5" fill="#3c9f2c"/>
<polygon points="482,189.1 485.6,195.2 478.4,195.2" fill="#3c9f2c"/>
<polygon points="488.6,183.8 492.2,189.9 485,189.9" fill="#3c9f2c"/>
<polygon points="462.3,233.1 465.9,239.2 458.7,239.2" fill="#3c9f2c"/>
<polygon points="470.8,232.4 474.4,238.5 467.2,238.5" fill="#3c9f2c"/>
<polygon points="453.1,227.2 456.7,233.3 449.5,233.3" fill="#3c9f2c"/>
<polygon points="406.3,232.2 409.9,238.3 402.7,238.3" fill="#3c9f2c"/>
<polygon points="409,225.2 412.6,231.3 405.4,231.3" fill="#3c9f2c"/>
<polygon points="413,230.2 416.6,236.3 409.4,236.3" fill="#3c9f2c"/>
<polygon points="411.6,234.7 415.2,240.8 408,240.8" fill="#3c9f2c"/>
<polygon points="416.5,221.2 420.1,227.3 412.9,227.3" fill="#3c9f2c"/>
<polygon points="420.6,225.5 424.2,231.6 417,231.6" fill="#3c9f2c"/>
<polygon points="414.5,227.2 418.1,233.3 410.9,233.3" fill="#3c9f2c"/>
<polygon points="428.8,220.4 432.4,226.5 425.2,226.5" fill="#3c9f2c"/>
<polygon points="433.9,259.2 437.5,265.3 430.3,265.3" fill="#3c9f2c"/>
<polygon points="421.6,268.4 425.2,274.5 418,274.5" fill="#3c9f2c"/>
<polygon points="425.7,271.2 429.3,277.3 422.1,277.3" fill="#3c9f2c"/>
<polygon points="428.8,269.2 432.4,275.3 425.2,275.3" fill="#3c9f2c"/>
<polygon points="417.9,282.6 421.5,288.7 414.3,288.7" fill="#3c9f2c"/>
<polygon points="434.6,258.9 438.2,265 431,265" fill="#3c9f2c"/>
<polygon points="444.5,275.8 448.1,281.9 440.9,281.9" fill="#3c9f2c"/>
<polygon points="434.1,259.2 437.7,265.3 430.5,265.3" fill="#3c9f2c"/>
<polygon points="417,192.2 420.6,198.3 413.4,198.3" fill="#3c9f2c"/>
<polygon points="422,189.2 425.6,195.3 418.4,195.3" fill="#3c9f2c"/>
<polygon points="420,196.2 423.6,202.3 416.4,202.3" fill="#3c9f2c"/>
<polygon points="415,199.2 418.6,205.3 411.4,205.3" fill="#3c9f2c"/>
<polygon points="432.4,196.9 436,203 428.8,203" fill="#3c9f2c"/>
<polygon points="434.9,204 438.5,210.1 431.3,210.1" fill="#3c9f2c"/>
<polygon points="439,168.2 442.6,174.3 435.4,174.3" fill="#3c9f2c"/>
<polygon points="496,166.2 499.6,172.3 492.4,172.3" fill="#3c9f2c"/>
<polygon points="502,172.2 505.6,178.3 498.4,178.3" fill="#3c9f2c"/>
<polygon points="491,178.2 494.6,184.3 487.4,184.3" fill="#3c9f2c"/>
<rect x="400.4" y="322.6" width="5.5" height="5.5" stroke="#3c9f2c" stroke-width="0.9" fill="none"/><path d="M400.4 322.6L405.8 328.1M400.4 328.1L405.8 322.6" stroke="#3c9f2c" stroke-width="0.9" fill="none"/>
<rect x="386.9" y="317" width="5.5" height="5.5" stroke="#3c9f2c" stroke-width="0.9" fill="none"/><path d="M386.9 317L392.4 322.4M386.9 322.4L392.4 317" stroke="#3c9f2c" stroke-width="0.9" fill="none"/>
<rect x="393.6" y="311.1" width="5.5" height="5.5" stroke="#3c9f2c" stroke-width="0.9" fill="none"/><path d="M393.6 311.1L399.1 316.6M393.6 316.6L399.1 311.1" stroke="#3c9f2c" stroke-width="0.9" fill="none"/>
<rect x="387" y="312.9" width="5.5" height="5.5" stroke="#3c9f2c" stroke-width="0.9" fill="none"/><path d="M387 312.9L392.5 318.4M387 318.4L392.5 312.9" stroke="#3c9f2c" stroke-width="0.9" fill="none"/>
<rect x="409.1" y="325.2" width="5.5" height="5.5" stroke="#3c9f2c" stroke-width="0.9" fill="none"/><path d="M409.1 325.2L414.6 330.7M409.1 330.7L414.6 325.2" stroke="#3c9f2c" stroke-width="0.9" fill="none"/>
<rect x="399.2" y="329.8" width="5.5" height="5.5" stroke="#3c9f2c" stroke-width="0.9" fill="none"/><path d="M399.2 329.8L404.7 335.2M399.2 335.2L404.7 329.8" stroke="#3c9f2c" stroke-width="0.9" fill="none"/>
<rect x="396.9" y="318.5" width="5.5" height="5.5" stroke="#3c9f2c" stroke-width="0.9" fill="none"/><path d="M396.9 318.5L402.3 323.9M396.9 323.9L402.3 318.5" stroke="#3c9f2c" stroke-width="0.9" fill="none"/>
<rect x="404.2" y="318.2" width="5.5" height="5.5" stroke="#3c9f2c" stroke-width="0.9" fill="none"/><path d="M404.2 318.2L409.7 323.7M404.2 323.7L409.7 318.2" stroke="#3c9f2c" stroke-width="0.9" fill="none"/>
<rect x="389.3" y="329.8" width="5.5" height="5.5" stroke="#3c9f2c" stroke-width="0.9" fill="none"/><path d="M389.3 329.8L394.8 335.3M389.3 335.3L394.8 329.8" stroke="#3c9f2c" stroke-width="0.9" fill="none"/>
<rect x="402.7" y="315.7" width="5.5" height="5.5" stroke="#3c9f2c" stroke-width="0.9" fill="none"/><path d="M402.7 315.7L408.1 321.2M402.7 321.2L408.1 315.7" stroke="#3c9f2c" stroke-width="0.9" fill="none"/>
<rect x="396.4" y="323.3" width="5.5" height="5.5" stroke="#3c9f2c" stroke-width="0.9" fill="none"/><path d="M396.4 323.3L401.8 328.8M396.4 328.8L401.8 323.3" stroke="#3c9f2c" stroke-width="0.9" fill="none"/>
<rect x="388.8" y="318.8" width="5.5" height="5.5" stroke="#3c9f2c" stroke-width="0.9" fill="none"/><path d="M388.8 318.8L394.3 324.2M388.8 324.2L394.3 318.8" stroke="#3c9f2c" stroke-width="0.9" fill="none"/>
<rect x="391" y="325.6" width="5.5" height="5.5" stroke="#3c9f2c" stroke-width="0.9" fill="none"/><path d="M391 325.6L396.4 331.1M391 331.1L396.4 325.6" stroke="#3c9f2c" stroke-width="0.9" fill="none"/>
<rect x="403.4" y="315.6" width="5.5" height="5.5" stroke="#3c9f2c" stroke-width="0.9" fill="none"/><path d="M403.4 315.6L408.9 321.1M403.4 321.1L408.9 315.6" stroke="#3c9f2c" stroke-width="0.9" fill="none"/>
<rect x="383.5" y="315.8" width="5.5" height="5.5" stroke="#3c9f2c" stroke-width="0.9" fill="none"/><path d="M383.5 315.8L388.9 321.3M383.5 321.3L388.9 315.8" stroke="#3c9f2c" stroke-width="0.9" fill="none"/>
<rect x="393" y="311" width="5.5" height="5.5" stroke="#3c9f2c" stroke-width="0.9" fill="none"/><path d="M393 311L398.5 316.4M393 316.4L398.5 311" stroke="#3c9f2c" stroke-width="0.9" fill="none"/>
<rect x="385" y="326" width="5.5" height="5.5" stroke="#3c9f2c" stroke-width="0.9" fill="none"/><path d="M385 326L390.5 331.5M385 331.5L390.5 326" stroke="#3c9f2c" stroke-width="0.9" fill="none"/>
<rect x="391.8" y="312.8" width="5.5" height="5.5" stroke="#3c9f2c" stroke-width="0.9" fill="none"/><path d="M391.8 312.8L397.3 318.3M391.8 318.3L397.3 312.8" stroke="#3c9f2c" stroke-width="0.9" fill="none"/>
<rect x="389.9" y="319.5" width="5.5" height="5.5" stroke="#3c9f2c" stroke-width="0.9" fill="none"/><path d="M389.9 319.5L395.4 324.9M389.9 324.9L395.4 319.5" stroke="#3c9f2c" stroke-width="0.9" fill="none"/>
<rect x="396.6" y="321.2" width="5.5" height="5.5" stroke="#3c9f2c" stroke-width="0.9" fill="none"/><path d="M396.6 321.2L402 326.7M396.6 326.7L402 321.2" stroke="#3c9f2c" stroke-width="0.9" fill="none"/>
<rect x="391.4" y="328" width="5.5" height="5.5" stroke="#3c9f2c" stroke-width="0.9" fill="none"/><path d="M391.4 328L396.9 333.5M391.4 333.5L396.9 328" stroke="#3c9f2c" stroke-width="0.9" fill="none"/>
<rect x="389.1" y="319.5" width="5.5" height="5.5" stroke="#3c9f2c" stroke-width="0.9" fill="none"/><path d="M389.1 319.5L394.6 324.9M389.1 324.9L394.6 319.5" stroke="#3c9f2c" stroke-width="0.9" fill="none"/>
<rect x="402.5" y="279" width="5.5" height="5.5" stroke="#3c9f2c" stroke-width="0.9" fill="none"/><path d="M402.5 279L407.9 284.4M402.5 284.4L407.9 279" stroke="#3c9f2c" stroke-width="0.9" fill="none"/>
<rect x="412.7" y="328" width="5.5" height="5.5" stroke="#3c9f2c" stroke-width="0.9" fill="none"/><path d="M412.7 328L418.1 333.4M412.7 333.4L418.1 328" stroke="#3c9f2c" stroke-width="0.9" fill="none"/>
<rect x="427" y="322.3" width="5.5" height="5.5" stroke="#3c9f2c" stroke-width="0.9" fill="none"/><path d="M427 322.3L432.4 327.7M427 327.7L432.4 322.3" stroke="#3c9f2c" stroke-width="0.9" fill="none"/>
<rect x="438.7" y="316.8" width="5.5" height="5.5" stroke="#3c9f2c" stroke-width="0.9" fill="none"/><path d="M438.7 316.8L444.1 322.2M438.7 322.2L444.1 316.8" stroke="#3c9f2c" stroke-width="0.9" fill="none"/>
<rect x="438.7" y="323.3" width="5.5" height="5.5" stroke="#3c9f2c" stroke-width="0.9" fill="none"/><path d="M438.7 323.3L444.1 328.7M438.7 328.7L444.1 323.3" stroke="#3c9f2c" stroke-width="0.9" fill="none"/>
<rect x="447.9" y="326" width="5.5" height="5.5" stroke="#3c9f2c" stroke-width="0.9" fill="none"/><path d="M447.9 326L453.3 331.4M447.9 331.4L453.3 326" stroke="#3c9f2c" stroke-width="0.9" fill="none"/>
<rect x="449.9" y="331.1" width="5.5" height="5.5" stroke="#3c9f2c" stroke-width="0.9" fill="none"/><path d="M449.9 331.1L455.3 336.5M449.9 336.5L455.3 331.1" stroke="#3c9f2c" stroke-width="0.9" fill="none"/>
<rect x="448.9" y="336.2" width="5.5" height="5.5" stroke="#3c9f2c" stroke-width="0.9" fill="none"/><path d="M448.9 336.2L454.3 341.6M448.9 341.6L454.3 336.2" stroke="#3c9f2c" stroke-width="0.9" fill="none"/>
<rect x="443.4" y="339.3" width="5.5" height="5.5" stroke="#3c9f2c" stroke-width="0.9" fill="none"/><path d="M443.4 339.3L448.8 344.7M443.4 344.7L448.8 339.3" stroke="#3c9f2c" stroke-width="0.9" fill="none"/>
<rect x="459.7" y="326" width="5.5" height="5.5" stroke="#3c9f2c" stroke-width="0.9" fill="none"/><path d="M459.7 326L465.1 331.4M459.7 331.4L465.1 326" stroke="#3c9f2c" stroke-width="0.9" fill="none"/>
<rect x="459.7" y="328.3" width="5.5" height="5.5" stroke="#3c9f2c" stroke-width="0.9" fill="none"/><path d="M459.7 328.3L465.1 333.7M459.7 333.7L465.1 328.3" stroke="#3c9f2c" stroke-width="0.9" fill="none"/>
<rect x="441.3" y="319.3" width="5.5" height="5.5" stroke="#3c9f2c" stroke-width="0.9" fill="none"/><path d="M441.3 319.3L446.7 324.7M441.3 324.7L446.7 319.3" stroke="#3c9f2c" stroke-width="0.9" fill="none"/>
<rect x="444.3" y="327.3" width="5.5" height="5.5" stroke="#3c9f2c" stroke-width="0.9" fill="none"/><path d="M444.3 327.3L449.7 332.7M444.3 332.7L449.7 327.3" stroke="#3c9f2c" stroke-width="0.9" fill="none"/>
<rect x="452.3" y="324.3" width="5.5" height="5.5" stroke="#3c9f2c" stroke-width="0.9" fill="none"/><path d="M452.3 324.3L457.7 329.7M452.3 329.7L457.7 324.3" stroke="#3c9f2c" stroke-width="0.9" fill="none"/>
<rect x="454.3" y="330.3" width="5.5" height="5.5" stroke="#3c9f2c" stroke-width="0.9" fill="none"/><path d="M454.3 330.3L459.7 335.7M454.3 335.7L459.7 330.3" stroke="#3c9f2c" stroke-width="0.9" fill="none"/>
<rect x="380.8" y="329.1" width="5.5" height="5.5" stroke="#3c9f2c" stroke-width="0.9" fill="none"/><path d="M380.8 329.1L386.2 334.5M380.8 334.5L386.2 329.1" stroke="#3c9f2c" stroke-width="0.9" fill="none"/>
<rect x="395.3" y="307.8" width="5.5" height="5.5" stroke="#3c9f2c" stroke-width="0.9" fill="none"/><path d="M395.3 307.8L400.7 313.2M395.3 313.2L400.7 307.8" stroke="#3c9f2c" stroke-width="0.9" fill="none"/>
<rect x="395.3" y="311.8" width="5.5" height="5.5" stroke="#3c9f2c" stroke-width="0.9" fill="none"/><path d="M395.3 311.8L400.7 317.2M395.3 317.2L400.7 311.8" stroke="#3c9f2c" stroke-width="0.9" fill="none"/>
<rect x="308.8" y="355.3" width="5.5" height="5.5" stroke="#3c9f2c" stroke-width="0.9" fill="none"/><path d="M308.8 355.3L314.2 360.7M308.8 360.7L314.2 355.3" stroke="#3c9f2c" stroke-width="0.9" fill="none"/>
<path d="M273.2 369.7H280M276.6 366.3V373.1" stroke="#7060dd" stroke-width="0.9" fill="none"/><path d="M274.2 367.3L279 372.1M274.2 372.1L279 367.3" stroke="#7060dd" stroke-width="0.9" fill="none"/>
<path d="M282.9 371H289.7M286.3 367.6V374.4" stroke="#7060dd" stroke-width="0.9" fill="none"/><path d="M283.9 368.6L288.7 373.4M283.9 373.4L288.7 368.6" stroke="#7060dd" stroke-width="0.9" fill="none"/>
<path d="M290.8 362.2H297.6M294.2 358.8V365.6" stroke="#7060dd" stroke-width="0.9" fill="none"/><path d="M291.8 359.8L296.6 364.6M291.8 364.6L296.6 359.8" stroke="#7060dd" stroke-width="0.9" fill="none"/>
<path d="M295.1 365.7H301.9M298.5 362.3V369.1" stroke="#7060dd" stroke-width="0.9" fill="none"/><path d="M296.1 363.3L300.9 368.1M296.1 368.1L300.9 363.3" stroke="#7060dd" stroke-width="0.9" fill="none"/>
<path d="M298.3 364H305.1M301.7 360.6V367.4" stroke="#7060dd" stroke-width="0.9" fill="none"/><path d="M299.3 361.6L304.1 366.4M299.3 366.4L304.1 361.6" stroke="#7060dd" stroke-width="0.9" fill="none"/>
<path d="M314.4 347.3H321.2M317.8 343.9V350.7" stroke="#7060dd" stroke-width="0.9" fill="none"/><path d="M315.4 344.9L320.2 349.7M315.4 349.7L320.2 344.9" stroke="#7060dd" stroke-width="0.9" fill="none"/>
<path d="M335.1 338.5H341.9M338.5 335.1V341.9" stroke="#7060dd" stroke-width="0.9" fill="none"/><path d="M336.1 336.1L340.9 340.9M336.1 340.9L340.9 336.1" stroke="#7060dd" stroke-width="0.9" fill="none"/>
<path d="M334.8 338.9H341.6M338.2 335.5V342.3" stroke="#7060dd" stroke-width="0.9" fill="none"/><path d="M335.8 336.5L340.6 341.3M335.8 341.3L340.6 336.5" stroke="#7060dd" stroke-width="0.9" fill="none"/>
<path d="M376.7 337.9H383.5M380.1 334.5V341.3" stroke="#7060dd" stroke-width="0.9" fill="none"/><path d="M377.7 335.5L382.5 340.3M377.7 340.3L382.5 335.5" stroke="#7060dd" stroke-width="0.9" fill="none"/>
<path d="M351.5 347.7H358.3M354.9 344.3V351.1" stroke="#7060dd" stroke-width="0.9" fill="none"/><path d="M352.5 345.3L357.3 350.1M352.5 350.1L357.3 345.3" stroke="#7060dd" stroke-width="0.9" fill="none"/>
<path d="M353.2 354.2H360M356.6 350.8V357.6" stroke="#7060dd" stroke-width="0.9" fill="none"/><path d="M354.2 351.8L359 356.6M354.2 356.6L359 351.8" stroke="#7060dd" stroke-width="0.9" fill="none"/>
<path d="M365 346.1H371.8M368.4 342.7V349.5" stroke="#7060dd" stroke-width="0.9" fill="none"/><path d="M366 343.7L370.8 348.5M366 348.5L370.8 343.7" stroke="#7060dd" stroke-width="0.9" fill="none"/>
<path d="M376.7 349.1H383.5M380.1 345.7V352.5" stroke="#7060dd" stroke-width="0.9" fill="none"/><path d="M377.7 346.7L382.5 351.5M377.7 351.5L382.5 346.7" stroke="#7060dd" stroke-width="0.9" fill="none"/>
<path d="M380.8 345.6H387.6M384.2 342.2V349" stroke="#7060dd" stroke-width="0.9" fill="none"/><path d="M381.8 343.2L386.6 348M381.8 348L386.6 343.2" stroke="#7060dd" stroke-width="0.9" fill="none"/>
<path d="M387.9 349.1H394.7M391.3 345.7V352.5" stroke="#7060dd" stroke-width="0.9" fill="none"/><path d="M388.9 346.7L393.7 351.5M388.9 351.5L393.7 346.7" stroke="#7060dd" stroke-width="0.9" fill="none"/>
<path d="M392.4 350.1H399.2M395.8 346.7V353.5" stroke="#7060dd" stroke-width="0.9" fill="none"/><path d="M393.4 347.7L398.2 352.5M393.4 352.5L398.2 347.7" stroke="#7060dd" stroke-width="0.9" fill="none"/>
<path d="M385.9 360H392.7M389.3 356.6V363.4" stroke="#7060dd" stroke-width="0.9" fill="none"/><path d="M386.9 357.6L391.7 362.4M386.9 362.4L391.7 357.6" stroke="#7060dd" stroke-width="0.9" fill="none"/>
<path d="M369.5 356.3H376.3M372.9 352.9V359.7" stroke="#7060dd" stroke-width="0.9" fill="none"/><path d="M370.5 353.9L375.3 358.7M370.5 358.7L375.3 353.9" stroke="#7060dd" stroke-width="0.9" fill="none"/>
<path d="M362.4 361.4H369.2M365.8 358V364.8" stroke="#7060dd" stroke-width="0.9" fill="none"/><path d="M363.4 359L368.2 363.8M363.4 363.8L368.2 359" stroke="#7060dd" stroke-width="0.9" fill="none"/>
<path d="M353.2 362H360M356.6 358.6V365.4" stroke="#7060dd" stroke-width="0.9" fill="none"/><path d="M354.2 359.6L359 364.4M354.2 364.4L359 359.6" stroke="#7060dd" stroke-width="0.9" fill="none"/>
<path d="M344 361.4H350.8M347.4 358V364.8" stroke="#7060dd" stroke-width="0.9" fill="none"/><path d="M345 359L349.8 363.8M345 363.8L349.8 359" stroke="#7060dd" stroke-width="0.9" fill="none"/>
<path d="M341.9 364.5H348.7M345.3 361.1V367.9" stroke="#7060dd" stroke-width="0.9" fill="none"/><path d="M342.9 362.1L347.7 366.9M342.9 366.9L347.7 362.1" stroke="#7060dd" stroke-width="0.9" fill="none"/>
<path d="M351.1 368.5H357.9M354.5 365.1V371.9" stroke="#7060dd" stroke-width="0.9" fill="none"/><path d="M352.1 366.1L356.9 370.9M352.1 370.9L356.9 366.1" stroke="#7060dd" stroke-width="0.9" fill="none"/>
<path d="M367.5 369.6H374.3M370.9 366.2V373" stroke="#7060dd" stroke-width="0.9" fill="none"/><path d="M368.5 367.2L373.3 372M368.5 372L373.3 367.2" stroke="#7060dd" stroke-width="0.9" fill="none"/>
<path d="M372.6 358.3H379.4M376 354.9V361.7" stroke="#7060dd" stroke-width="0.9" fill="none"/><path d="M373.6 355.9L378.4 360.7M373.6 360.7L378.4 355.9" stroke="#7060dd" stroke-width="0.9" fill="none"/>
<path d="M378.7 355.3H385.5M382.1 351.9V358.7" stroke="#7060dd" stroke-width="0.9" fill="none"/><path d="M379.7 352.9L384.5 357.7M379.7 357.7L384.5 352.9" stroke="#7060dd" stroke-width="0.9" fill="none"/>
<path d="M356.6 352H363.4M360 348.6V355.4" stroke="#7060dd" stroke-width="0.9" fill="none"/><path d="M357.6 349.6L362.4 354.4M357.6 354.4L362.4 349.6" stroke="#7060dd" stroke-width="0.9" fill="none"/>
<path d="M362.6 356H369.4M366 352.6V359.4" stroke="#7060dd" stroke-width="0.9" fill="none"/><path d="M363.6 353.6L368.4 358.4M363.6 358.4L368.4 353.6" stroke="#7060dd" stroke-width="0.9" fill="none"/>
<path d="M346.6 358H353.4M350 354.6V361.4" stroke="#7060dd" stroke-width="0.9" fill="none"/><path d="M347.6 355.6L352.4 360.4M347.6 360.4L352.4 355.6" stroke="#7060dd" stroke-width="0.9" fill="none"/>
<path d="M382.6 352H389.4M386 348.6V355.4" stroke="#7060dd" stroke-width="0.9" fill="none"/><path d="M383.6 349.6L388.4 354.4M383.6 354.4L388.4 349.6" stroke="#7060dd" stroke-width="0.9" fill="none"/>
<path d="M374.6 362H381.4M378 358.6V365.4" stroke="#7060dd" stroke-width="0.9" fill="none"/><path d="M375.6 359.6L380.4 364.4M375.6 364.4L380.4 359.6" stroke="#7060dd" stroke-width="0.9" fill="none"/>
<path d="M358.6 366H365.4M362 362.6V369.4" stroke="#7060dd" stroke-width="0.9" fill="none"/><path d="M359.6 363.6L364.4 368.4M359.6 368.4L364.4 363.6" stroke="#7060dd" stroke-width="0.9" fill="none"/>
<path d="M339.6 357H346.4M343 353.6V360.4" stroke="#7060dd" stroke-width="0.9" fill="none"/><path d="M340.6 354.6L345.4 359.4M340.6 359.4L345.4 354.6" stroke="#7060dd" stroke-width="0.9" fill="none"/>
<path d="M369.6 351H376.4M373 347.6V354.4" stroke="#7060dd" stroke-width="0.9" fill="none"/><path d="M370.6 348.6L375.4 353.4M370.6 353.4L375.4 348.6" stroke="#7060dd" stroke-width="0.9" fill="none"/>
<path d="M389.6 355H396.4M393 351.6V358.4" stroke="#7060dd" stroke-width="0.9" fill="none"/><path d="M390.6 352.6L395.4 357.4M390.6 357.4L395.4 352.6" stroke="#7060dd" stroke-width="0.9" fill="none"/>
<rect x="371.4" y="265.9" width="5" height="5" fill="#7060dd"/>
<rect x="370.8" y="271.6" width="5" height="5" fill="#7060dd"/>
<rect x="382.7" y="267.9" width="5" height="5" fill="#7060dd"/>
<rect x="380.6" y="273.7" width="5" height="5" fill="#7060dd"/>
<rect x="392.9" y="256.1" width="5" height="5" fill="#7060dd"/>
<rect x="398.6" y="267.9" width="5" height="5" fill="#7060dd"/>
<rect x="363.7" y="290.8" width="5" height="5" fill="#7060dd"/>
<rect x="378.6" y="295.9" width="5" height="5" fill="#7060dd"/>
<rect x="390.2" y="297.6" width="5" height="5" fill="#7060dd"/>
<rect x="384.3" y="303.1" width="5" height="5" fill="#7060dd"/>
<rect x="385.3" y="306.8" width="5" height="5" fill="#7060dd"/>
<rect x="371.4" y="304.7" width="5" height="5" fill="#7060dd"/>
<rect x="368.4" y="308.8" width="5" height="5" fill="#7060dd"/>
<rect x="376.5" y="308.8" width="5" height="5" fill="#7060dd"/>
<rect x="373.5" y="312.9" width="5" height="5" fill="#7060dd"/>
<rect x="370.4" y="316" width="5" height="5" fill="#7060dd"/>
<rect x="364.3" y="312.5" width="5" height="5" fill="#7060dd"/>
<rect x="357.1" y="316" width="5" height="5" fill="#7060dd"/>
<rect x="350" y="317.4" width="5" height="5" fill="#7060dd"/>
<rect x="362.2" y="320.1" width="5" height="5" fill="#7060dd"/>
<rect x="341.8" y="318.6" width="5" height="5" fill="#7060dd"/>
<rect x="336.7" y="326.2" width="5" height="5" fill="#7060dd"/>
<rect x="374.1" y="323.1" width="5" height="5" fill="#7060dd"/>
<rect x="369.4" y="330.9" width="5" height="5" fill="#7060dd"/>
<rect x="368" y="338.5" width="5" height="5" fill="#7060dd"/>
<rect x="371.4" y="304.5" width="5" height="5" fill="#7060dd"/>
<rect x="336.7" y="325.9" width="5" height="5" fill="#7060dd"/>
<rect x="341.6" y="318.5" width="5" height="5" fill="#7060dd"/>
<rect x="362.6" y="319.9" width="5" height="5" fill="#7060dd"/>
<rect x="372.1" y="265.2" width="5" height="5" fill="#7060dd"/>
<rect x="371.1" y="270.7" width="5" height="5" fill="#7060dd"/>
<rect x="382.9" y="267.6" width="5" height="5" fill="#7060dd"/>
<rect x="380.9" y="273.4" width="5" height="5" fill="#7060dd"/>
<rect x="392.5" y="255.8" width="5" height="5" fill="#7060dd"/>
<rect x="398.7" y="267.6" width="5" height="5" fill="#7060dd"/>
<rect x="427.9" y="239" width="5" height="5" fill="#7060dd"/>
<rect x="500.1" y="203.5" width="5" height="5" fill="#7060dd"/>
<rect x="493.8" y="208.7" width="5" height="5" fill="#7060dd"/>
<rect x="427.5" y="239.7" width="5" height="5" fill="#7060dd"/>
<rect x="365.5" y="311.5" width="5" height="5" fill="#7060dd"/>
<rect x="379.5" y="303.5" width="5" height="5" fill="#7060dd"/>
<circle cx="464.5" cy="226.9" r="3" stroke="#e8408a" stroke-width="0.9" fill="none"/><path d="M461.4 226.9H467.5M464.5 223.9V230" stroke="#e8408a" stroke-width="0.9" fill="none"/>
<circle cx="481" cy="208.2" r="3" stroke="#e8408a" stroke-width="0.9" fill="none"/><path d="M478 208.2H484.1M481 205.2V211.3" stroke="#e8408a" stroke-width="0.9" fill="none"/>
<circle cx="494.2" cy="200.9" r="3" stroke="#e8408a" stroke-width="0.9" fill="none"/><path d="M491.1 200.9H497.2M494.2 197.9V204" stroke="#e8408a" stroke-width="0.9" fill="none"/>
<circle cx="531.2" cy="186" r="3" stroke="#e8408a" stroke-width="0.9" fill="none"/><path d="M528.1 186H534.2M531.2 182.9V189" stroke="#e8408a" stroke-width="0.9" fill="none"/>
<circle cx="454.3" cy="233.8" r="3" stroke="#e8408a" stroke-width="0.9" fill="none"/><path d="M451.2 233.8H457.3M454.3 230.7V236.8" stroke="#e8408a" stroke-width="0.9" fill="none"/>
<circle cx="515.2" cy="185.6" r="3" stroke="#e8408a" stroke-width="0.9" fill="none"/><path d="M512.1 185.6H518.2M515.2 182.6V188.7" stroke="#e8408a" stroke-width="0.9" fill="none"/>
<circle cx="458.8" cy="228.3" r="3" stroke="#e8408a" stroke-width="0.9" fill="none"/><path d="M455.7 228.3H461.8M458.8 225.3V231.3" stroke="#e8408a" stroke-width="0.9" fill="none"/>
<circle cx="526.6" cy="177.2" r="3" stroke="#e8408a" stroke-width="0.9" fill="none"/><path d="M523.6 177.2H529.6M526.6 174.2V180.3" stroke="#e8408a" stroke-width="0.9" fill="none"/>
<circle cx="485.9" cy="209.5" r="3" stroke="#e8408a" stroke-width="0.9" fill="none"/><path d="M482.9 209.5H489M485.9 206.5V212.6" stroke="#e8408a" stroke-width="0.9" fill="none"/>
<circle cx="483.8" cy="209.3" r="3" stroke="#e8408a" stroke-width="0.9" fill="none"/><path d="M480.7 209.3H486.8M483.8 206.2V212.3" stroke="#e8408a" stroke-width="0.9" fill="none"/>
<circle cx="522.5" cy="187.2" r="3" stroke="#e8408a" stroke-width="0.9" fill="none"/><path d="M519.4 187.2H525.5M522.5 184.2V190.3" stroke="#e8408a" stroke-width="0.9" fill="none"/>
<circle cx="524" cy="185.8" r="3" stroke="#e8408a" stroke-width="0.9" fill="none"/><path d="M520.9 185.8H527M524 182.8V188.9" stroke="#e8408a" stroke-width="0.9" fill="none"/>
<circle cx="526.4" cy="181.6" r="3" stroke="#e8408a" stroke-width="0.9" fill="none"/><path d="M523.4 181.6H529.4M526.4 178.5V184.6" stroke="#e8408a" stroke-width="0.9" fill="none"/>
<circle cx="493.5" cy="203.1" r="3" stroke="#e8408a" stroke-width="0.9" fill="none"/><path d="M490.5 203.1H496.5M493.5 200.1V206.2" stroke="#e8408a" stroke-width="0.9" fill="none"/>
<circle cx="475.5" cy="213.7" r="3" stroke="#e8408a" stroke-width="0.9" fill="none"/><path d="M472.4 213.7H478.5M475.5 210.6V216.7" stroke="#e8408a" stroke-width="0.9" fill="none"/>
<circle cx="473.8" cy="216.6" r="3" stroke="#e8408a" stroke-width="0.9" fill="none"/><path d="M470.7 216.6H476.8M473.8 213.5V219.6" stroke="#e8408a" stroke-width="0.9" fill="none"/>
<circle cx="484.8" cy="205.5" r="3" stroke="#e8408a" stroke-width="0.9" fill="none"/><path d="M481.8 205.5H487.9M484.8 202.5V208.6" stroke="#e8408a" stroke-width="0.9" fill="none"/>
<circle cx="483.7" cy="214.8" r="3" stroke="#e8408a" stroke-width="0.9" fill="none"/><path d="M480.7 214.8H486.8M483.7 211.7V217.8" stroke="#e8408a" stroke-width="0.9" fill="none"/>
<circle cx="510.4" cy="197.9" r="3" stroke="#e8408a" stroke-width="0.9" fill="none"/><path d="M507.4 197.9H513.5M510.4 194.8V200.9" stroke="#e8408a" stroke-width="0.9" fill="none"/>
<circle cx="522.4" cy="186.1" r="3" stroke="#e8408a" stroke-width="0.9" fill="none"/><path d="M519.4 186.1H525.5M522.4 183.1V189.2" stroke="#e8408a" stroke-width="0.9" fill="none"/>
<circle cx="490.7" cy="202.5" r="3" stroke="#e8408a" stroke-width="0.9" fill="none"/><path d="M487.6 202.5H493.7M490.7 199.5V205.6" stroke="#e8408a" stroke-width="0.9" fill="none"/>
<circle cx="442.6" cy="235.7" r="3" stroke="#e8408a" stroke-width="0.9" fill="none"/><path d="M439.6 235.7H445.7M442.6 232.7V238.8" stroke="#e8408a" stroke-width="0.9" fill="none"/>
<circle cx="491.8" cy="211.9" r="3" stroke="#e8408a" stroke-width="0.9" fill="none"/><path d="M488.8 211.9H494.9M491.8 208.8V214.9" stroke="#e8408a" stroke-width="0.9" fill="none"/>
<circle cx="501.4" cy="197.4" r="3" stroke="#e8408a" stroke-width="0.9" fill="none"/><path d="M498.3 197.4H504.4M501.4 194.4V200.5" stroke="#e8408a" stroke-width="0.9" fill="none"/>
<circle cx="459.2" cy="231.5" r="3" stroke="#e8408a" stroke-width="0.9" fill="none"/><path d="M456.2 231.5H462.2M459.2 228.5V234.6" stroke="#e8408a" stroke-width="0.9" fill="none"/>
<circle cx="461.4" cy="228.3" r="3" stroke="#e8408a" stroke-width="0.9" fill="none"/><path d="M458.4 228.3H464.4M461.4 225.3V231.3" stroke="#e8408a" stroke-width="0.9" fill="none"/>
<circle cx="532.8" cy="181.9" r="3" stroke="#e8408a" stroke-width="0.9" fill="none"/><path d="M529.8 181.9H535.9M532.8 178.9V184.9" stroke="#e8408a" stroke-width="0.9" fill="none"/>
<circle cx="466.1" cy="219.8" r="3" stroke="#e8408a" stroke-width="0.9" fill="none"/><path d="M463 219.8H469.1M466.1 216.8V222.9" stroke="#e8408a" stroke-width="0.9" fill="none"/>
<circle cx="509.3" cy="188.2" r="3" stroke="#e8408a" stroke-width="0.9" fill="none"/><path d="M506.2 188.2H512.3M509.3 185.2V191.3" stroke="#e8408a" stroke-width="0.9" fill="none"/>
<circle cx="457.4" cy="223.6" r="3" stroke="#e8408a" stroke-width="0.9" fill="none"/><path d="M454.4 223.6H460.4M457.4 220.5V226.6" stroke="#e8408a" stroke-width="0.9" fill="none"/>
<circle cx="479" cy="209.6" r="3" stroke="#e8408a" stroke-width="0.9" fill="none"/><path d="M476 209.6H482.1M479 206.6V212.6" stroke="#e8408a" stroke-width="0.9" fill="none"/>
<circle cx="488.5" cy="212.2" r="3" stroke="#e8408a" stroke-width="0.9" fill="none"/><path d="M485.5 212.2H491.6M488.5 209.2V215.3" stroke="#e8408a" stroke-width="0.9" fill="none"/>
<circle cx="507.9" cy="188.6" r="3" stroke="#e8408a" stroke-width="0.9" fill="none"/><path d="M504.8 188.6H510.9M507.9 185.6V191.7" stroke="#e8408a" stroke-width="0.9" fill="none"/>
<circle cx="511" cy="196.4" r="3" stroke="#e8408a" stroke-width="0.9" fill="none"/><path d="M507.9 196.4H514M511 193.3V199.4" stroke="#e8408a" stroke-width="0.9" fill="none"/>
<circle cx="484.2" cy="206.5" r="3" stroke="#e8408a" stroke-width="0.9" fill="none"/><path d="M481.2 206.5H487.3M484.2 203.5V209.6" stroke="#e8408a" stroke-width="0.9" fill="none"/>
<circle cx="514.1" cy="193.2" r="3" stroke="#e8408a" stroke-width="0.9" fill="none"/><path d="M511 193.2H517.1M514.1 190.2V196.3" stroke="#e8408a" stroke-width="0.9" fill="none"/>
<circle cx="512.8" cy="197.1" r="3" stroke="#e8408a" stroke-width="0.9" fill="none"/><path d="M509.7 197.1H515.8M512.8 194.1V200.2" stroke="#e8408a" stroke-width="0.9" fill="none"/>
<circle cx="487.4" cy="211.4" r="3" stroke="#e8408a" stroke-width="0.9" fill="none"/><path d="M484.4 211.4H490.4M487.4 208.4V214.5" stroke="#e8408a" stroke-width="0.9" fill="none"/>
<circle cx="464.7" cy="220" r="3" stroke="#e8408a" stroke-width="0.9" fill="none"/><path d="M461.7 220H467.8M464.7 217V223.1" stroke="#e8408a" stroke-width="0.9" fill="none"/>
<circle cx="495.7" cy="199.4" r="3" stroke="#e8408a" stroke-width="0.9" fill="none"/><path d="M492.6 199.4H498.7M495.7 196.4V202.5" stroke="#e8408a" stroke-width="0.9" fill="none"/>
<circle cx="471.6" cy="221.8" r="3" stroke="#e8408a" stroke-width="0.9" fill="none"/><path d="M468.6 221.8H474.7M471.6 218.8V224.9" stroke="#e8408a" stroke-width="0.9" fill="none"/>
<circle cx="533.2" cy="181.7" r="3" stroke="#e8408a" stroke-width="0.9" fill="none"/><path d="M530.2 181.7H536.3M533.2 178.7V184.8" stroke="#e8408a" stroke-width="0.9" fill="none"/>
<circle cx="496.6" cy="207.7" r="3" stroke="#e8408a" stroke-width="0.9" fill="none"/><path d="M493.5 207.7H499.6M496.6 204.7V210.7" stroke="#e8408a" stroke-width="0.9" fill="none"/>
<circle cx="514.3" cy="188.9" r="3" stroke="#e8408a" stroke-width="0.9" fill="none"/><path d="M511.3 188.9H517.3M514.3 185.8V191.9" stroke="#e8408a" stroke-width="0.9" fill="none"/>
<circle cx="519.6" cy="191" r="3" stroke="#e8408a" stroke-width="0.9" fill="none"/><path d="M516.6 191H522.7M519.6 188V194" stroke="#e8408a" stroke-width="0.9" fill="none"/>
<circle cx="460.9" cy="224" r="3" stroke="#e8408a" stroke-width="0.9" fill="none"/><path d="M457.9 224H464M460.9 221V227.1" stroke="#e8408a" stroke-width="0.9" fill="none"/>
<circle cx="527.6" cy="183.1" r="3" stroke="#e8408a" stroke-width="0.9" fill="none"/><path d="M524.5 183.1H530.6M527.6 180.1V186.2" stroke="#e8408a" stroke-width="0.9" fill="none"/>
<circle cx="467.9" cy="220.1" r="3" stroke="#e8408a" stroke-width="0.9" fill="none"/><path d="M464.8 220.1H470.9M467.9 217.1V223.1" stroke="#e8408a" stroke-width="0.9" fill="none"/>
<circle cx="536.1" cy="180.7" r="3" stroke="#e8408a" stroke-width="0.9" fill="none"/><path d="M533.1 180.7H539.2M536.1 177.7V183.7" stroke="#e8408a" stroke-width="0.9" fill="none"/>
<circle cx="506.1" cy="195.6" r="3" stroke="#e8408a" stroke-width="0.9" fill="none"/><path d="M503 195.6H509.1M506.1 192.5V198.6" stroke="#e8408a" stroke-width="0.9" fill="none"/>
<circle cx="491.6" cy="202.2" r="3" stroke="#e8408a" stroke-width="0.9" fill="none"/><path d="M488.6 202.2H494.7M491.6 199.1V205.2" stroke="#e8408a" stroke-width="0.9" fill="none"/>
<circle cx="449.9" cy="235.2" r="3" stroke="#e8408a" stroke-width="0.9" fill="none"/><path d="M446.8 235.2H452.9M449.9 232.1V238.2" stroke="#e8408a" stroke-width="0.9" fill="none"/>
<circle cx="448.8" cy="237.6" r="3" stroke="#e8408a" stroke-width="0.9" fill="none"/><path d="M445.7 237.6H451.8M448.8 234.6V240.7" stroke="#e8408a" stroke-width="0.9" fill="none"/>
<circle cx="444.3" cy="237.6" r="3" stroke="#e8408a" stroke-width="0.9" fill="none"/><path d="M441.3 237.6H447.4M444.3 234.6V240.7" stroke="#e8408a" stroke-width="0.9" fill="none"/>
<circle cx="470.3" cy="222.7" r="3" stroke="#e8408a" stroke-width="0.9" fill="none"/><path d="M467.2 222.7H473.3M470.3 219.7V225.8" stroke="#e8408a" stroke-width="0.9" fill="none"/>
<circle cx="514.4" cy="198" r="3" stroke="#e8408a" stroke-width="0.9" fill="none"/><path d="M511.3 198H517.4M514.4 195V201" stroke="#e8408a" stroke-width="0.9" fill="none"/>
<circle cx="511.8" cy="192" r="3" stroke="#e8408a" stroke-width="0.9" fill="none"/><path d="M508.8 192H514.9M511.8 188.9V195" stroke="#e8408a" stroke-width="0.9" fill="none"/>
<circle cx="489.8" cy="202.6" r="3" stroke="#e8408a" stroke-width="0.9" fill="none"/><path d="M486.8 202.6H492.8M489.8 199.5V205.6" stroke="#e8408a" stroke-width="0.9" fill="none"/>
<circle cx="530.6" cy="186.8" r="3" stroke="#e8408a" stroke-width="0.9" fill="none"/><path d="M527.5 186.8H533.6M530.6 183.8V189.9" stroke="#e8408a" stroke-width="0.9" fill="none"/>
<circle cx="453.7" cy="225.3" r="3" stroke="#e8408a" stroke-width="0.9" fill="none"/><path d="M450.6 225.3H456.7M453.7 222.2V228.3" stroke="#e8408a" stroke-width="0.9" fill="none"/>
<circle cx="529" cy="182.1" r="3" stroke="#e8408a" stroke-width="0.9" fill="none"/><path d="M526 182.1H532.1M529 179V185.1" stroke="#e8408a" stroke-width="0.9" fill="none"/>
<circle cx="441.8" cy="236.6" r="3" stroke="#e8408a" stroke-width="0.9" fill="none"/><path d="M438.8 236.6H444.9M441.8 233.6V239.7" stroke="#e8408a" stroke-width="0.9" fill="none"/>
<circle cx="448.5" cy="232.6" r="3" stroke="#e8408a" stroke-width="0.9" fill="none"/><path d="M445.4 232.6H451.5M448.5 229.5V235.6" stroke="#e8408a" stroke-width="0.9" fill="none"/>
<circle cx="493.7" cy="211" r="3" stroke="#e8408a" stroke-width="0.9" fill="none"/><path d="M490.6 211H496.7M493.7 207.9V214" stroke="#e8408a" stroke-width="0.9" fill="none"/>
<circle cx="470.8" cy="217.9" r="3" stroke="#e8408a" stroke-width="0.9" fill="none"/><path d="M467.8 217.9H473.8M470.8 214.8V220.9" stroke="#e8408a" stroke-width="0.9" fill="none"/>
<circle cx="450.6" cy="233.3" r="3" stroke="#e8408a" stroke-width="0.9" fill="none"/><path d="M447.5 233.3H453.6M450.6 230.3V236.3" stroke="#e8408a" stroke-width="0.9" fill="none"/>
<circle cx="493.8" cy="200.9" r="3" stroke="#e8408a" stroke-width="0.9" fill="none"/><path d="M490.7 200.9H496.8M493.8 197.8V203.9" stroke="#e8408a" stroke-width="0.9" fill="none"/>
<circle cx="456.9" cy="229.9" r="3" stroke="#e8408a" stroke-width="0.9" fill="none"/><path d="M453.8 229.9H459.9M456.9 226.9V233" stroke="#e8408a" stroke-width="0.9" fill="none"/>
<circle cx="493.9" cy="205.6" r="3" stroke="#e8408a" stroke-width="0.9" fill="none"/><path d="M490.9 205.6H497M493.9 202.6V208.7" stroke="#e8408a" stroke-width="0.9" fill="none"/>
<circle cx="489.1" cy="203.8" r="3" stroke="#e8408a" stroke-width="0.9" fill="none"/><path d="M486 203.8H492.1M489.1 200.8V206.8" stroke="#e8408a" stroke-width="0.9" fill="none"/>
<circle cx="451.4" cy="231.2" r="3" stroke="#e8408a" stroke-width="0.9" fill="none"/><path d="M448.3 231.2H454.4M451.4 228.1V234.2" stroke="#e8408a" stroke-width="0.9" fill="none"/>
<circle cx="457.3" cy="226.5" r="3" stroke="#e8408a" stroke-width="0.9" fill="none"/><path d="M454.3 226.5H460.4M457.3 223.4V229.5" stroke="#e8408a" stroke-width="0.9" fill="none"/>
<circle cx="537" cy="177.5" r="3" stroke="#e8408a" stroke-width="0.9" fill="none"/><path d="M534 177.5H540M537 174.5V180.5" stroke="#e8408a" stroke-width="0.9" fill="none"/>
<circle cx="448" cy="232.8" r="3" stroke="#e8408a" stroke-width="0.9" fill="none"/><path d="M444.9 232.8H451M448 229.8V235.9" stroke="#e8408a" stroke-width="0.9" fill="none"/>
<circle cx="522.2" cy="192.5" r="3" stroke="#e8408a" stroke-width="0.9" fill="none"/><path d="M519.2 192.5H525.2M522.2 189.5V195.6" stroke="#e8408a" stroke-width="0.9" fill="none"/>
<circle cx="460.9" cy="221.2" r="3" stroke="#e8408a" stroke-width="0.9" fill="none"/><path d="M457.8 221.2H463.9M460.9 218.2V224.3" stroke="#e8408a" stroke-width="0.9" fill="none"/>
<circle cx="456.3" cy="233.4" r="3" stroke="#e8408a" stroke-width="0.9" fill="none"/><path d="M453.3 233.4H459.4M456.3 230.3V236.4" stroke="#e8408a" stroke-width="0.9" fill="none"/>
<circle cx="498.8" cy="200.7" r="3" stroke="#e8408a" stroke-width="0.9" fill="none"/><path d="M495.8 200.7H501.9M498.8 197.7V203.7" stroke="#e8408a" stroke-width="0.9" fill="none"/>
<circle cx="474.8" cy="213.7" r="3" stroke="#e8408a" stroke-width="0.9" fill="none"/><path d="M471.7 213.7H477.8M474.8 210.6V216.7" stroke="#e8408a" stroke-width="0.9" fill="none"/>
<circle cx="504.3" cy="204.2" r="3" stroke="#e8408a" stroke-width="0.9" fill="none"/><path d="M501.3 204.2H507.4M504.3 201.2V207.3" stroke="#e8408a" stroke-width="0.9" fill="none"/>
<circle cx="491.8" cy="206.4" r="3" stroke="#e8408a" stroke-width="0.9" fill="none"/><path d="M488.7 206.4H494.8M491.8 203.4V209.5" stroke="#e8408a" stroke-width="0.9" fill="none"/>
<circle cx="522.3" cy="186.7" r="3" stroke="#e8408a" stroke-width="0.9" fill="none"/><path d="M519.3 186.7H525.3M522.3 183.6V189.7" stroke="#e8408a" stroke-width="0.9" fill="none"/>
<circle cx="517.8" cy="193.7" r="3" stroke="#e8408a" stroke-width="0.9" fill="none"/><path d="M514.7 193.7H520.8M517.8 190.6V196.7" stroke="#e8408a" stroke-width="0.9" fill="none"/>
<circle cx="524" cy="178.8" r="3" stroke="#e8408a" stroke-width="0.9" fill="none"/><path d="M521 178.8H527.1M524 175.8V181.8" stroke="#e8408a" stroke-width="0.9" fill="none"/>
<circle cx="488" cy="203.2" r="3" stroke="#e8408a" stroke-width="0.9" fill="none"/><path d="M485 203.2H491.1M488 200.2V206.3" stroke="#e8408a" stroke-width="0.9" fill="none"/>
<circle cx="510.4" cy="187.4" r="3" stroke="#e8408a" stroke-width="0.9" fill="none"/><path d="M507.4 187.4H513.5M510.4 184.3V190.4" stroke="#e8408a" stroke-width="0.9" fill="none"/>
<circle cx="485" cy="211.3" r="3" stroke="#e8408a" stroke-width="0.9" fill="none"/><path d="M482 211.3H488.1M485 208.3V214.4" stroke="#e8408a" stroke-width="0.9" fill="none"/>
<circle cx="468.7" cy="217.5" r="3" stroke="#e8408a" stroke-width="0.9" fill="none"/><path d="M465.6 217.5H471.7M468.7 214.5V220.6" stroke="#e8408a" stroke-width="0.9" fill="none"/>
<circle cx="518.2" cy="195" r="3" stroke="#e8408a" stroke-width="0.9" fill="none"/><path d="M515.2 195H521.2M518.2 192V198.1" stroke="#e8408a" stroke-width="0.9" fill="none"/>
<circle cx="469" cy="215.3" r="3" stroke="#e8408a" stroke-width="0.9" fill="none"/><path d="M466 215.3H472.1M469 212.2V218.3" stroke="#e8408a" stroke-width="0.9" fill="none"/>
<circle cx="497.9" cy="206.8" r="3" stroke="#e8408a" stroke-width="0.9" fill="none"/><path d="M494.9 206.8H500.9M497.9 203.7V209.8" stroke="#e8408a" stroke-width="0.9" fill="none"/>
<circle cx="494.7" cy="198" r="3" stroke="#e8408a" stroke-width="0.9" fill="none"/><path d="M491.7 198H497.8M494.7 194.9V201" stroke="#e8408a" stroke-width="0.9" fill="none"/>
<circle cx="463.6" cy="220.9" r="3" stroke="#e8408a" stroke-width="0.9" fill="none"/><path d="M460.6 220.9H466.7M463.6 217.9V223.9" stroke="#e8408a" stroke-width="0.9" fill="none"/>
<circle cx="514.4" cy="189.1" r="3" stroke="#e8408a" stroke-width="0.9" fill="none"/><path d="M511.3 189.1H517.4M514.4 186.1V192.1" stroke="#e8408a" stroke-width="0.9" fill="none"/>
<circle cx="445.7" cy="234.8" r="3" stroke="#e8408a" stroke-width="0.9" fill="none"/><path d="M442.7 234.8H448.8M445.7 231.7V237.8" stroke="#e8408a" stroke-width="0.9" fill="none"/>
<circle cx="457.9" cy="226.7" r="3" stroke="#e8408a" stroke-width="0.9" fill="none"/><path d="M454.8 226.7H460.9M457.9 223.7V229.7" stroke="#e8408a" stroke-width="0.9" fill="none"/>
<circle cx="482.5" cy="218.2" r="3" stroke="#e8408a" stroke-width="0.9" fill="none"/><path d="M479.5 218.2H485.5M482.5 215.2V221.3" stroke="#e8408a" stroke-width="0.9" fill="none"/>
<circle cx="456.4" cy="228.6" r="3" stroke="#e8408a" stroke-width="0.9" fill="none"/><path d="M453.3 228.6H459.4M456.4 225.6V231.6" stroke="#e8408a" stroke-width="0.9" fill="none"/>
<circle cx="460.9" cy="224" r="3" stroke="#e8408a" stroke-width="0.9" fill="none"/><path d="M457.8 224H463.9M460.9 220.9V227" stroke="#e8408a" stroke-width="0.9" fill="none"/>
<circle cx="477.4" cy="211" r="3" stroke="#e8408a" stroke-width="0.9" fill="none"/><path d="M474.4 211H480.5M477.4 208V214" stroke="#e8408a" stroke-width="0.9" fill="none"/>
<circle cx="483.1" cy="216.4" r="3" stroke="#e8408a" stroke-width="0.9" fill="none"/><path d="M480.1 216.4H486.2M483.1 213.4V219.5" stroke="#e8408a" stroke-width="0.9" fill="none"/>
<circle cx="515.1" cy="192.4" r="3" stroke="#e8408a" stroke-width="0.9" fill="none"/><path d="M512.1 192.4H518.1M515.1 189.3V195.4" stroke="#e8408a" stroke-width="0.9" fill="none"/>
<circle cx="459.2" cy="222.3" r="3" stroke="#e8408a" stroke-width="0.9" fill="none"/><path d="M456.2 222.3H462.3M459.2 219.2V225.3" stroke="#e8408a" stroke-width="0.9" fill="none"/>
<circle cx="461.1" cy="221.5" r="3" stroke="#e8408a" stroke-width="0.9" fill="none"/><path d="M458.1 221.5H464.2M461.1 218.5V224.6" stroke="#e8408a" stroke-width="0.9" fill="none"/>
<circle cx="498.3" cy="203.6" r="3" stroke="#e8408a" stroke-width="0.9" fill="none"/><path d="M495.3 203.6H501.3M498.3 200.6V206.7" stroke="#e8408a" stroke-width="0.9" fill="none"/>
<circle cx="456" cy="230.6" r="3" stroke="#e8408a" stroke-width="0.9" fill="none"/><path d="M452.9 230.6H459M456 227.6V233.7" stroke="#e8408a" stroke-width="0.9" fill="none"/>
<circle cx="501.8" cy="194.8" r="3" stroke="#e8408a" stroke-width="0.9" fill="none"/><path d="M498.8 194.8H504.8M501.8 191.7V197.8" stroke="#e8408a" stroke-width="0.9" fill="none"/>
<circle cx="447.7" cy="238.1" r="3" stroke="#e8408a" stroke-width="0.9" fill="none"/><path d="M444.6 238.1H450.7M447.7 235.1V241.2" stroke="#e8408a" stroke-width="0.9" fill="none"/>
<circle cx="498.4" cy="197" r="3" stroke="#e8408a" stroke-width="0.9" fill="none"/><path d="M495.4 197H501.4M498.4 193.9V200" stroke="#e8408a" stroke-width="0.9" fill="none"/>
<circle cx="462.3" cy="226.3" r="3" stroke="#e8408a" stroke-width="0.9" fill="none"/><path d="M459.3 226.3H465.3M462.3 223.3V229.4" stroke="#e8408a" stroke-width="0.9" fill="none"/>
<circle cx="515.8" cy="185.1" r="3" stroke="#e8408a" stroke-width="0.9" fill="none"/><path d="M512.8 185.1H518.9M515.8 182.1V188.2" stroke="#e8408a" stroke-width="0.9" fill="none"/>
<circle cx="460.5" cy="225.9" r="3" stroke="#e8408a" stroke-width="0.9" fill="none"/><path d="M457.5 225.9H463.5M460.5 222.8V228.9" stroke="#e8408a" stroke-width="0.9" fill="none"/>
<circle cx="522.4" cy="187" r="3" stroke="#e8408a" stroke-width="0.9" fill="none"/><path d="M519.4 187H525.5M522.4 184V190" stroke="#e8408a" stroke-width="0.9" fill="none"/>
<circle cx="446" cy="231.3" r="3" stroke="#e8408a" stroke-width="0.9" fill="none"/><path d="M443 231.3H449M446 228.3V234.4" stroke="#e8408a" stroke-width="0.9" fill="none"/>
<circle cx="452.4" cy="226.8" r="3" stroke="#e8408a" stroke-width="0.9" fill="none"/><path d="M449.4 226.8H455.5M452.4 223.8V229.8" stroke="#e8408a" stroke-width="0.9" fill="none"/>
<circle cx="435.2" cy="235.6" r="3" stroke="#e8408a" stroke-width="0.9" fill="none"/><path d="M432.2 235.6H438.2M435.2 232.6V238.7" stroke="#e8408a" stroke-width="0.9" fill="none"/>
<circle cx="435.5" cy="237.9" r="3" stroke="#e8408a" stroke-width="0.9" fill="none"/><path d="M432.4 237.9H438.5M435.5 234.9V241" stroke="#e8408a" stroke-width="0.9" fill="none"/>
<circle cx="430.9" cy="239.1" r="3" stroke="#e8408a" stroke-width="0.9" fill="none"/><path d="M427.9 239.1H434M430.9 236.1V242.1" stroke="#e8408a" stroke-width="0.9" fill="none"/>
<circle cx="436.8" cy="237.2" r="3" stroke="#e8408a" stroke-width="0.9" fill="none"/><path d="M433.7 237.2H439.8M436.8 234.1V240.2" stroke="#e8408a" stroke-width="0.9" fill="none"/>
<circle cx="432.3" cy="239.3" r="3" stroke="#e8408a" stroke-width="0.9" fill="none"/><path d="M429.3 239.3H435.3M432.3 236.3V242.4" stroke="#e8408a" stroke-width="0.9" fill="none"/>
<circle cx="439.8" cy="227" r="3" stroke="#e8408a" stroke-width="0.9" fill="none"/><path d="M436.8 227H442.8M439.8 224V230" stroke="#e8408a" stroke-width="0.9" fill="none"/>
<circle cx="440.8" cy="239.7" r="3" stroke="#e8408a" stroke-width="0.9" fill="none"/><path d="M437.7 239.7H443.8M440.8 236.6V242.7" stroke="#e8408a" stroke-width="0.9" fill="none"/>
<circle cx="434.6" cy="230" r="3" stroke="#e8408a" stroke-width="0.9" fill="none"/><path d="M431.6 230H437.6M434.6 227V233.1" stroke="#e8408a" stroke-width="0.9" fill="none"/>
<circle cx="428.9" cy="234.8" r="3" stroke="#e8408a" stroke-width="0.9" fill="none"/><path d="M425.9 234.8H431.9M428.9 231.7V237.8" stroke="#e8408a" stroke-width="0.9" fill="none"/>
<circle cx="430.1" cy="237.8" r="3" stroke="#e8408a" stroke-width="0.9" fill="none"/><path d="M427.1 237.8H433.1M430.1 234.8V240.9" stroke="#e8408a" stroke-width="0.9" fill="none"/>
<circle cx="433" cy="235.3" r="3" stroke="#e8408a" stroke-width="0.9" fill="none"/><path d="M430 235.3H436.1M433 232.2V238.3" stroke="#e8408a" stroke-width="0.9" fill="none"/>
<circle cx="438.7" cy="236" r="3" stroke="#e8408a" stroke-width="0.9" fill="none"/><path d="M435.6 236H441.7M438.7 233V239.1" stroke="#e8408a" stroke-width="0.9" fill="none"/>
<circle cx="317.4" cy="202.7" r="3" stroke="#e8408a" stroke-width="0.9" fill="none"/><path d="M314.4 202.7H320.4M317.4 199.7V205.7" stroke="#e8408a" stroke-width="0.9" fill="none"/>
<circle cx="363.4" cy="190.4" r="3" stroke="#e8408a" stroke-width="0.9" fill="none"/><path d="M360.4 190.4H366.4M363.4 187.4V193.4" stroke="#e8408a" stroke-width="0.9" fill="none"/>
<circle cx="386.9" cy="208.8" r="3" stroke="#e8408a" stroke-width="0.9" fill="none"/><path d="M383.9 208.8H389.9M386.9 205.8V211.8" stroke="#e8408a" stroke-width="0.9" fill="none"/>
<circle cx="369.1" cy="233.4" r="3" stroke="#e8408a" stroke-width="0.9" fill="none"/><path d="M366.1 233.4H372.1M369.1 230.4V236.4" stroke="#e8408a" stroke-width="0.9" fill="none"/>
<circle cx="410" cy="201.7" r="3" stroke="#e8408a" stroke-width="0.9" fill="none"/><path d="M407 201.7H413M410 198.7V204.7" stroke="#e8408a" stroke-width="0.9" fill="none"/>
<circle cx="420.2" cy="215.4" r="3" stroke="#e8408a" stroke-width="0.9" fill="none"/><path d="M417.2 215.4H423.2M420.2 212.4V218.4" stroke="#e8408a" stroke-width="0.9" fill="none"/>
<circle cx="409.3" cy="235.4" r="3" stroke="#e8408a" stroke-width="0.9" fill="none"/><path d="M406.3 235.4H412.3M409.3 232.4V238.4" stroke="#e8408a" stroke-width="0.9" fill="none"/>
<circle cx="420.6" cy="239.5" r="3" stroke="#e8408a" stroke-width="0.9" fill="none"/><path d="M417.6 239.5H423.6M420.6 236.5V242.5" stroke="#e8408a" stroke-width="0.9" fill="none"/>
<circle cx="422.2" cy="245.6" r="3" stroke="#e8408a" stroke-width="0.9" fill="none"/><path d="M419.2 245.6H425.2M422.2 242.6V248.6" stroke="#e8408a" stroke-width="0.9" fill="none"/>
<circle cx="418.9" cy="256.5" r="3" stroke="#e8408a" stroke-width="0.9" fill="none"/><path d="M415.9 256.5H421.9M418.9 253.5V259.5" stroke="#e8408a" stroke-width="0.9" fill="none"/>
<circle cx="385.4" cy="253.8" r="3" stroke="#e8408a" stroke-width="0.9" fill="none"/><path d="M382.4 253.8H388.4M385.4 250.8V256.8" stroke="#e8408a" stroke-width="0.9" fill="none"/>
<circle cx="388.5" cy="259.5" r="3" stroke="#e8408a" stroke-width="0.9" fill="none"/><path d="M385.5 259.5H391.5M388.5 256.5V262.5" stroke="#e8408a" stroke-width="0.9" fill="none"/>
<circle cx="377.7" cy="271.6" r="3" stroke="#e8408a" stroke-width="0.9" fill="none"/><path d="M374.7 271.6H380.7M377.7 268.6V274.6" stroke="#e8408a" stroke-width="0.9" fill="none"/>
<circle cx="427.7" cy="230.3" r="3" stroke="#e8408a" stroke-width="0.9" fill="none"/><path d="M424.7 230.3H430.7M427.7 227.3V233.3" stroke="#e8408a" stroke-width="0.9" fill="none"/>
<circle cx="431.8" cy="237.4" r="3" stroke="#e8408a" stroke-width="0.9" fill="none"/><path d="M428.8 237.4H434.8M431.8 234.4V240.4" stroke="#e8408a" stroke-width="0.9" fill="none"/>
<circle cx="433.9" cy="229.3" r="3" stroke="#e8408a" stroke-width="0.9" fill="none"/><path d="M430.9 229.3H436.9M433.9 226.3V232.3" stroke="#e8408a" stroke-width="0.9" fill="none"/>
<circle cx="346" cy="296" r="3" stroke="#e8408a" stroke-width="0.9" fill="none"/><path d="M343 296H349M346 293V299" stroke="#e8408a" stroke-width="0.9" fill="none"/>
<circle cx="444.4" cy="251.6" r="3" stroke="#e8408a" stroke-width="0.9" fill="none"/><path d="M441.4 251.6H447.4M444.4 248.6V254.6" stroke="#e8408a" stroke-width="0.9" fill="none"/>
<circle cx="450.6" cy="251" r="3" stroke="#e8408a" stroke-width="0.9" fill="none"/><path d="M447.6 251H453.6M450.6 248V254" stroke="#e8408a" stroke-width="0.9" fill="none"/>
<circle cx="420.3" cy="215.2" r="3" stroke="#e8408a" stroke-width="0.9" fill="none"/><path d="M417.3 215.2H423.3M420.3 212.2V218.2" stroke="#e8408a" stroke-width="0.9" fill="none"/>
<circle cx="420.3" cy="238.9" r="3" stroke="#e8408a" stroke-width="0.9" fill="none"/><path d="M417.3 238.9H423.3M420.3 235.9V241.9" stroke="#e8408a" stroke-width="0.9" fill="none"/>
<circle cx="422.2" cy="245.4" r="3" stroke="#e8408a" stroke-width="0.9" fill="none"/><path d="M419.2 245.4H425.2M422.2 242.4V248.4" stroke="#e8408a" stroke-width="0.9" fill="none"/>
<circle cx="448.5" cy="243.5" r="3" stroke="#e8408a" stroke-width="0.9" fill="none"/><path d="M445.5 243.5H451.5M448.5 240.5V246.5" stroke="#e8408a" stroke-width="0.9" fill="none"/>
<circle cx="450.5" cy="246.8" r="3" stroke="#e8408a" stroke-width="0.9" fill="none"/><path d="M447.5 246.8H453.5M450.5 243.8V249.8" stroke="#e8408a" stroke-width="0.9" fill="none"/>
<circle cx="444.6" cy="250.7" r="3" stroke="#e8408a" stroke-width="0.9" fill="none"/><path d="M441.6 250.7H447.6M444.6 247.7V253.7" stroke="#e8408a" stroke-width="0.9" fill="none"/>
<circle cx="496.5" cy="211.9" r="3" stroke="#e8408a" stroke-width="0.9" fill="none"/><path d="M493.5 211.9H499.5M496.5 208.9V214.9" stroke="#e8408a" stroke-width="0.9" fill="none"/>
<circle cx="545" cy="176" r="3" stroke="#e8408a" stroke-width="0.9" fill="none"/><path d="M542 176H548M545 173V179" stroke="#e8408a" stroke-width="0.9" fill="none"/>
<circle cx="540" cy="179" r="3" stroke="#e8408a" stroke-width="0.9" fill="none"/><path d="M537 179H543M540 176V182" stroke="#e8408a" stroke-width="0.9" fill="none"/>
<circle cx="512" cy="208" r="3" stroke="#e8408a" stroke-width="0.9" fill="none"/><path d="M509 208H515M512 205V211" stroke="#e8408a" stroke-width="0.9" fill="none"/>
<circle cx="505" cy="212" r="3" stroke="#e8408a" stroke-width="0.9" fill="none"/><path d="M502 212H508M505 209V215" stroke="#e8408a" stroke-width="0.9" fill="none"/>
<polygon points="247.9,335.3 251.6,339 247.9,342.7 244.2,339" stroke="#7060dd" stroke-width="0.9" fill="none"/>
<polygon points="254.5,333.1 258.2,336.8 254.5,340.5 250.8,336.8" stroke="#7060dd" stroke-width="0.9" fill="none"/>
<polygon points="264.7,330.2 268.4,333.9 264.7,337.6 261,333.9" stroke="#7060dd" stroke-width="0.9" fill="none"/>
<polygon points="270.5,336.7 274.2,340.4 270.5,344.1 266.8,340.4" stroke="#7060dd" stroke-width="0.9" fill="none"/>
<polygon points="259.6,338.2 263.3,341.9 259.6,345.6 255.9,341.9" stroke="#7060dd" stroke-width="0.9" fill="none"/>
<polygon points="248.6,342.6 252.3,346.3 248.6,350 244.9,346.3" stroke="#7060dd" stroke-width="0.9" fill="none"/>
<polygon points="251.5,346.2 255.2,349.9 251.5,353.6 247.8,349.9" stroke="#7060dd" stroke-width="0.9" fill="none"/>
<polygon points="254.5,351.3 258.2,355 254.5,358.7 250.8,355" stroke="#7060dd" stroke-width="0.9" fill="none"/>
<polygon points="250.1,352.8 253.8,356.5 250.1,360.2 246.4,356.5" stroke="#7060dd" stroke-width="0.9" fill="none"/>
<polygon points="244.2,360.8 247.9,364.5 244.2,368.2 240.5,364.5" stroke="#7060dd" stroke-width="0.9" fill="none"/>
<polygon points="241.3,365.9 245,369.6 241.3,373.3 237.6,369.6" stroke="#7060dd" stroke-width="0.9" fill="none"/>
<polygon points="238.4,368.1 242.1,371.8 238.4,375.5 234.7,371.8" stroke="#7060dd" stroke-width="0.9" fill="none"/>
<polygon points="234,370.3 237.7,374 234,377.7 230.3,374" stroke="#7060dd" stroke-width="0.9" fill="none"/>
<polygon points="237.7,371.8 241.4,375.5 237.7,379.2 234,375.5" stroke="#7060dd" stroke-width="0.9" fill="none"/>
<polygon points="239.9,364.5 243.6,368.2 239.9,371.9 236.2,368.2" stroke="#7060dd" stroke-width="0.9" fill="none"/>
<polygon points="256,343.3 259.7,347 256,350.7 252.3,347" stroke="#7060dd" stroke-width="0.9" fill="none"/>
<polygon points="252,339.3 255.7,343 252,346.7 248.3,343" stroke="#7060dd" stroke-width="0.9" fill="none"/>
<polygon points="311.7,310.3 315.4,314 311.7,317.7 308,314" stroke="#7060dd" stroke-width="0.9" fill="none"/>
<polygon points="264.4,330.5 268.1,334.2 264.4,337.9 260.7,334.2" stroke="#7060dd" stroke-width="0.9" fill="none"/>
<polygon points="270.5,336.6 274.2,340.3 270.5,344 266.8,340.3" stroke="#7060dd" stroke-width="0.9" fill="none"/>
<polygon points="273,338.3 276.7,342 273,345.7 269.3,342" stroke="#7060dd" stroke-width="0.9" fill="none"/>
<polygon points="250,348.3 253.7,352 250,355.7 246.3,352" stroke="#7060dd" stroke-width="0.9" fill="none"/>
<path d="M235.3 328.2H242.3M238.8 324.7V331.7" stroke="#44e022" stroke-width="0.9" fill="none"/>
<path d="M224.7 341.9H231.7M228.2 338.4V345.4" stroke="#44e022" stroke-width="0.9" fill="none"/>
<path d="M239.3 345.5H246.3M242.8 342V349" stroke="#44e022" stroke-width="0.9" fill="none"/>
<path d="M237.8 351.4H244.8M241.3 347.9V354.9" stroke="#44e022" stroke-width="0.9" fill="none"/>
<path d="M233.4 354.3H240.4M236.9 350.8V357.8" stroke="#44e022" stroke-width="0.9" fill="none"/>
<path d="M226.1 355.8H233.1M229.6 352.3V359.3" stroke="#44e022" stroke-width="0.9" fill="none"/>
<path d="M232.7 359.4H239.7M236.2 355.9V362.9" stroke="#44e022" stroke-width="0.9" fill="none"/>
<path d="M227.6 368.9H234.6M231.1 365.4V372.4" stroke="#44e022" stroke-width="0.9" fill="none"/>
<path d="M242.9 351.4H249.9M246.4 347.9V354.9" stroke="#44e022" stroke-width="0.9" fill="none"/>
<path d="M222.9 362.6H229.9M226.4 359.1V366.1" stroke="#44e022" stroke-width="0.9" fill="none"/>
<path d="M236 340H243M239.5 336.5V343.5" stroke="#44e022" stroke-width="0.9" fill="none"/>
<path d="M229.5 350H236.5M233 346.5V353.5" stroke="#44e022" stroke-width="0.9" fill="none"/>
<path d="M240.5 356H247.5M244 352.5V359.5" stroke="#44e022" stroke-width="0.9" fill="none"/>
<polygon points="203.5,318.6 207.2,322.3 203.5,326 199.8,322.3" stroke="#ee7744" stroke-width="0.9" fill="none"/><path d="M199.8 322.3H207.2M203.5 318.6V326" stroke="#ee7744" stroke-width="0.9" fill="none"/>
<polygon points="219.9,352.2 223.6,355.9 219.9,359.6 216.2,355.9" stroke="#ee7744" stroke-width="0.9" fill="none"/><path d="M216.2 355.9H223.6M219.9 352.2V359.6" stroke="#ee7744" stroke-width="0.9" fill="none"/>
<polygon points="204.8,357.2 208.5,360.9 204.8,364.6 201.1,360.9" stroke="#ee7744" stroke-width="0.9" fill="none"/><path d="M201.1 360.9H208.5M204.8 357.2V364.6" stroke="#ee7744" stroke-width="0.9" fill="none"/>
<polygon points="211.4,360.8 215.1,364.5 211.4,368.2 207.7,364.5" stroke="#ee7744" stroke-width="0.9" fill="none"/><path d="M207.7 364.5H215.1M211.4 360.8V368.2" stroke="#ee7744" stroke-width="0.9" fill="none"/>
<polygon points="219.4,352.5 223.1,356.2 219.4,359.9 215.7,356.2" stroke="#ee7744" stroke-width="0.9" fill="none"/><path d="M215.7 356.2H223.1M219.4 352.5V359.9" stroke="#ee7744" stroke-width="0.9" fill="none"/>
<polygon points="203.4,318.5 207.1,322.2 203.4,325.9 199.7,322.2" stroke="#ee7744" stroke-width="0.9" fill="none"/><path d="M199.7 322.2H207.1M203.4 318.5V325.9" stroke="#ee7744" stroke-width="0.9" fill="none"/>
<polygon points="208,354.3 211.7,358 208,361.7 204.3,358" stroke="#ee7744" stroke-width="0.9" fill="none"/><path d="M204.3 358H211.7M208 354.3V361.7" stroke="#ee7744" stroke-width="0.9" fill="none"/>
<polygon points="181.2,325.8 184.5,320.2 177.9,320.2" stroke="#46688a" stroke-width="0.9" fill="none"/>
<polygon points="214.3,314.2 217.6,308.6 211,308.6" stroke="#46688a" stroke-width="0.9" fill="none"/>
<polygon points="207.4,343.8 210.7,338.2 204.1,338.2" stroke="#46688a" stroke-width="0.9" fill="none"/>
<polygon points="201.2,366.6 204.5,361 197.9,361" stroke="#46688a" stroke-width="0.9" fill="none"/>
<polygon points="214.3,370.9 217.6,365.3 211,365.3" stroke="#46688a" stroke-width="0.9" fill="none"/>
<polygon points="223.5,366.6 226.8,361 220.2,361" stroke="#46688a" stroke-width="0.9" fill="none"/>
<polygon points="206.3,378.7 209.6,373.1 203,373.1" stroke="#46688a" stroke-width="0.9" fill="none"/>
<polygon points="205.1,384.8 208.4,379.2 201.8,379.2" stroke="#46688a" stroke-width="0.9" fill="none"/>
<polygon points="136.4,220 139.7,214.4 133.1,214.4" stroke="#46688a" stroke-width="0.9" fill="none"/>
<rect x="198.7" y="278.6" width="5.8" height="5.8" stroke="#4a90f0" stroke-width="0.9" fill="none"/><path d="M198.7 278.6L204.5 284.4M198.7 284.4L204.5 278.6" stroke="#4a90f0" stroke-width="0.9" fill="none"/>
<rect x="187.5" y="304.5" width="5.8" height="5.8" stroke="#4a90f0" stroke-width="0.9" fill="none"/><path d="M187.5 304.5L193.3 310.3M187.5 310.3L193.3 304.5" stroke="#4a90f0" stroke-width="0.9" fill="none"/>
<rect x="196.8" y="304.8" width="5.8" height="5.8" stroke="#4a90f0" stroke-width="0.9" fill="none"/><path d="M196.8 304.8L202.6 310.6M196.8 310.6L202.6 304.8" stroke="#4a90f0" stroke-width="0.9" fill="none"/>
<rect x="196.2" y="318.7" width="5.8" height="5.8" stroke="#4a90f0" stroke-width="0.9" fill="none"/><path d="M196.2 318.7L202 324.5M196.2 324.5L202 318.7" stroke="#4a90f0" stroke-width="0.9" fill="none"/>
<path d="M230.6 224.4H238M234.3 220.7V228.1" stroke="#5fe8d2" stroke-width="1.1" fill="none"/><path d="M231.7 221.8L236.9 227M231.7 227L236.9 221.8" stroke="#5fe8d2" stroke-width="1.1" fill="none"/>
<path d="M258.3 241.9H265.7M262 238.2V245.6" stroke="#5fe8d2" stroke-width="1.1" fill="none"/><path d="M259.4 239.3L264.6 244.5M259.4 244.5L264.6 239.3" stroke="#5fe8d2" stroke-width="1.1" fill="none"/>
<path d="M263.5 240.4H270.9M267.2 236.7V244.1" stroke="#5fe8d2" stroke-width="1.1" fill="none"/><path d="M264.6 237.8L269.8 243M264.6 243L269.8 237.8" stroke="#5fe8d2" stroke-width="1.1" fill="none"/>
<path d="M221.8 279.1H229.2M225.5 275.4V282.8" stroke="#5fe8d2" stroke-width="1.1" fill="none"/><path d="M222.9 276.5L228.1 281.7M222.9 281.7L228.1 276.5" stroke="#5fe8d2" stroke-width="1.1" fill="none"/>
<path d="M227 301H234.4M230.7 297.3V304.7" stroke="#5fe8d2" stroke-width="1.1" fill="none"/><path d="M228.1 298.4L233.3 303.6M228.1 303.6L233.3 298.4" stroke="#5fe8d2" stroke-width="1.1" fill="none"/>
<path d="M215.3 304.7H222.7M219 301V308.4" stroke="#5fe8d2" stroke-width="1.1" fill="none"/><path d="M216.4 302.1L221.6 307.3M216.4 307.3L221.6 302.1" stroke="#5fe8d2" stroke-width="1.1" fill="none"/>
<path d="M210.2 307.6H217.6M213.9 303.9V311.3" stroke="#5fe8d2" stroke-width="1.1" fill="none"/><path d="M211.3 305L216.5 310.2M211.3 310.2L216.5 305" stroke="#5fe8d2" stroke-width="1.1" fill="none"/>
<path d="M178.9 295.8H186.3M182.6 292.1V299.5" stroke="#5fe8d2" stroke-width="1.1" fill="none"/><path d="M180 293.2L185.2 298.4M180 298.4L185.2 293.2" stroke="#5fe8d2" stroke-width="1.1" fill="none"/>
<path d="M227.1 301.2H234.5M230.8 297.5V304.9" stroke="#5fe8d2" stroke-width="1.1" fill="none"/><path d="M228.2 298.6L233.4 303.8M228.2 303.8L233.4 298.6" stroke="#5fe8d2" stroke-width="1.1" fill="none"/>
<path d="M215.4 304.8H222.8M219.1 301.1V308.5" stroke="#5fe8d2" stroke-width="1.1" fill="none"/><path d="M216.5 302.2L221.7 307.4M216.5 307.4L221.7 302.2" stroke="#5fe8d2" stroke-width="1.1" fill="none"/>
<path d="M209.6 307.7H217M213.3 304V311.4" stroke="#5fe8d2" stroke-width="1.1" fill="none"/><path d="M210.7 305.1L215.9 310.3M210.7 310.3L215.9 305.1" stroke="#5fe8d2" stroke-width="1.1" fill="none"/>
<path d="M211 315H218.4M214.7 311.3V318.7" stroke="#5fe8d2" stroke-width="1.1" fill="none"/><path d="M212.1 312.4L217.3 317.6M212.1 317.6L217.3 312.4" stroke="#5fe8d2" stroke-width="1.1" fill="none"/>
<path d="M214.4 334.7H221.8M218.1 331V338.4" stroke="#5fe8d2" stroke-width="1.1" fill="none"/><path d="M215.5 332.1L220.7 337.3M215.5 337.3L220.7 332.1" stroke="#5fe8d2" stroke-width="1.1" fill="none"/>
<path d="M151.6 245L157.4 250.8M151.6 250.8L157.4 245" stroke="#a040b0" stroke-width="0.9" fill="none"/>
<path d="M157.4 242.6L163.2 248.4M157.4 248.4L163.2 242.6" stroke="#a040b0" stroke-width="0.9" fill="none"/>
<path d="M164.4 236.8L170.2 242.6M164.4 242.6L170.2 236.8" stroke="#a040b0" stroke-width="0.9" fill="none"/>
<path d="M169.1 235.1L174.9 240.9M169.1 240.9L174.9 235.1" stroke="#a040b0" stroke-width="0.9" fill="none"/>
<path d="M171.4 239.1L177.2 244.9M171.4 244.9L177.2 239.1" stroke="#a040b0" stroke-width="0.9" fill="none"/>
<path d="M177.3 235.6L183.1 241.4M177.3 241.4L183.1 235.6" stroke="#a040b0" stroke-width="0.9" fill="none"/>
<path d="M183.1 236.8L188.9 242.6M183.1 242.6L188.9 236.8" stroke="#a040b0" stroke-width="0.9" fill="none"/>
<path d="M160.9 245L166.7 250.8M160.9 250.8L166.7 245" stroke="#a040b0" stroke-width="0.9" fill="none"/>
<path d="M165.6 241.4L171.4 247.2M165.6 247.2L171.4 241.4" stroke="#a040b0" stroke-width="0.9" fill="none"/>
<path d="M153.9 242.6L159.7 248.4M153.9 248.4L159.7 242.6" stroke="#a040b0" stroke-width="0.9" fill="none"/>
<path d="M168.1 238.1L173.9 243.9M168.1 243.9L173.9 238.1" stroke="#a040b0" stroke-width="0.9" fill="none"/>
<path d="M174.1 238.1L179.9 243.9M174.1 243.9L179.9 238.1" stroke="#a040b0" stroke-width="0.9" fill="none"/>
<path d="M111.9 252L117.7 257.8M111.9 257.8L117.7 252" stroke="#a040b0" stroke-width="0.9" fill="none"/>
<path d="M117.7 253.1L123.5 258.9M117.7 258.9L123.5 253.1" stroke="#a040b0" stroke-width="0.9" fill="none"/>
<path d="M109.5 259L115.3 264.8M109.5 264.8L115.3 259" stroke="#a040b0" stroke-width="0.9" fill="none"/>
<path d="M114.1 255.1L119.9 260.9M114.1 260.9L119.9 255.1" stroke="#a040b0" stroke-width="0.9" fill="none"/>
<circle cx="75" cy="273.3" r="2.9" stroke="#a040b0" stroke-width="0.9" fill="none"/><path d="M72.1 273.3H77.9M75 270.4V276.2" stroke="#a040b0" stroke-width="0.9" fill="none"/>
<circle cx="82" cy="272.8" r="2.9" stroke="#a040b0" stroke-width="0.9" fill="none"/><path d="M79.1 272.8H84.8M82 269.9V275.7" stroke="#a040b0" stroke-width="0.9" fill="none"/>
<circle cx="81.7" cy="282.5" r="2.9" stroke="#a040b0" stroke-width="0.9" fill="none"/><path d="M78.8 282.5H84.6M81.7 279.7V285.4" stroke="#a040b0" stroke-width="0.9" fill="none"/>
<circle cx="78.1" cy="282.5" r="2.9" stroke="#a040b0" stroke-width="0.9" fill="none"/><path d="M75.2 282.5H80.9M78.1 279.6V285.4" stroke="#a040b0" stroke-width="0.9" fill="none"/>
<circle cx="81" cy="282.3" r="2.9" stroke="#a040b0" stroke-width="0.9" fill="none"/><path d="M78.1 282.3H83.9M81 279.4V285.2" stroke="#a040b0" stroke-width="0.9" fill="none"/>
<circle cx="79.8" cy="279.8" r="2.9" stroke="#a040b0" stroke-width="0.9" fill="none"/><path d="M77 279.8H82.7M79.8 276.9V282.7" stroke="#a040b0" stroke-width="0.9" fill="none"/>
<circle cx="81.9" cy="272.5" r="2.9" stroke="#a040b0" stroke-width="0.9" fill="none"/><path d="M79 272.5H84.8M81.9 269.7V275.4" stroke="#a040b0" stroke-width="0.9" fill="none"/>
<circle cx="79.7" cy="277.6" r="2.9" stroke="#a040b0" stroke-width="0.9" fill="none"/><path d="M76.8 277.6H82.6M79.7 274.7V280.4" stroke="#a040b0" stroke-width="0.9" fill="none"/>
<circle cx="79" cy="278.6" r="2.9" stroke="#a040b0" stroke-width="0.9" fill="none"/><path d="M76.1 278.6H81.9M79 275.7V281.5" stroke="#a040b0" stroke-width="0.9" fill="none"/>
<circle cx="83.6" cy="271.9" r="2.9" stroke="#a040b0" stroke-width="0.9" fill="none"/><path d="M80.7 271.9H86.4M83.6 269V274.8" stroke="#a040b0" stroke-width="0.9" fill="none"/>
<circle cx="82.1" cy="278.2" r="2.9" stroke="#a040b0" stroke-width="0.9" fill="none"/><path d="M79.3 278.2H85M82.1 275.3V281" stroke="#a040b0" stroke-width="0.9" fill="none"/>
<circle cx="99" cy="268" r="2.7" fill="#a040b0"/>
<circle cx="92" cy="258" r="2.7" fill="#a040b0"/>
<circle cx="86" cy="262" r="2.7" fill="#a040b0"/>
<circle cx="84" cy="268" r="2.7" fill="#a040b0"/>
<polygon points="93,230 96.8,236.4 89.2,236.4" fill="#a040b0"/>
<polygon points="100.8,228 104.6,234.4 97,234.4" fill="#a040b0"/>
<polygon points="104,238 107.8,244.4 100.2,244.4" fill="#a040b0"/>
<polygon points="88,242 91.8,248.4 84.2,248.4" fill="#a040b0"/>
<rect x="109.5" y="256" width="5.5" height="5.5" stroke="#a040b0" stroke-width="0.9" fill="none"/><path d="M109.5 258.7H115M112.2 256V261.4" stroke="#a040b0" stroke-width="0.9" fill="none"/>
<rect x="112.5" y="250.4" width="5.5" height="5.5" stroke="#a040b0" stroke-width="0.9" fill="none"/><path d="M112.5 253.2H118M115.3 250.4V255.9" stroke="#a040b0" stroke-width="0.9" fill="none"/>
<rect x="110.4" y="253.4" width="5.5" height="5.5" stroke="#a040b0" stroke-width="0.9" fill="none"/><path d="M110.4 256.1H115.9M113.1 253.4V258.9" stroke="#a040b0" stroke-width="0.9" fill="none"/>
<rect x="115.3" y="248.7" width="5.5" height="5.5" stroke="#a040b0" stroke-width="0.9" fill="none"/><path d="M115.3 251.5H120.8M118.1 248.7V254.2" stroke="#a040b0" stroke-width="0.9" fill="none"/>
<rect x="114.2" y="254.1" width="5.5" height="5.5" stroke="#a040b0" stroke-width="0.9" fill="none"/><path d="M114.2 256.9H119.7M117 254.1V259.6" stroke="#a040b0" stroke-width="0.9" fill="none"/>
<rect x="114.7" y="259.1" width="5.5" height="5.5" stroke="#a040b0" stroke-width="0.9" fill="none"/><path d="M114.7 261.8H120.1M117.4 259.1V264.6" stroke="#a040b0" stroke-width="0.9" fill="none"/>
<rect x="112.8" y="247.9" width="5.5" height="5.5" stroke="#a040b0" stroke-width="0.9" fill="none"/><path d="M112.8 250.7H118.3M115.5 247.9V253.4" stroke="#a040b0" stroke-width="0.9" fill="none"/>
<rect x="142.2" y="228" width="5.5" height="5.5" stroke="#f0a060" stroke-width="0.9" fill="none"/>
<rect x="151.8" y="225.5" width="5.5" height="5.5" stroke="#f0a060" stroke-width="0.9" fill="none"/>
<rect x="168.5" y="221" width="5.5" height="5.5" stroke="#f0a060" stroke-width="0.9" fill="none"/>
<rect x="163.8" y="224.5" width="5.5" height="5.5" stroke="#f0a060" stroke-width="0.9" fill="none"/>
<rect x="167.8" y="227" width="5.5" height="5.5" stroke="#f0a060" stroke-width="0.9" fill="none"/>
<rect x="160.1" y="230.6" width="5.5" height="5.5" stroke="#f0a060" stroke-width="0.9" fill="none"/>
<rect x="171.8" y="227.9" width="5.5" height="5.5" stroke="#f0a060" stroke-width="0.9" fill="none"/>
<rect x="173.5" y="232.3" width="5.5" height="5.5" stroke="#f0a060" stroke-width="0.9" fill="none"/>
<rect x="163.3" y="229.3" width="5.5" height="5.5" stroke="#f0a060" stroke-width="0.9" fill="none"/>
<rect x="141.9" y="227.7" width="5.5" height="5.5" stroke="#f0a060" stroke-width="0.9" fill="none"/>
<rect x="159.4" y="230.4" width="5.5" height="5.5" stroke="#f0a060" stroke-width="0.9" fill="none"/>
<rect x="162.9" y="227.7" width="5.5" height="5.5" stroke="#f0a060" stroke-width="0.9" fill="none"/>
<rect x="170.3" y="223.3" width="5.5" height="5.5" stroke="#f0a060" stroke-width="0.9" fill="none"/>
<rect x="166.3" y="231.3" width="5.5" height="5.5" stroke="#f0a060" stroke-width="0.9" fill="none"/>
<rect x="103.3" y="235.3" width="5.5" height="5.5" stroke="#f0a060" stroke-width="0.9" fill="none"/>
<rect x="109.3" y="237.3" width="5.5" height="5.5" stroke="#f0a060" stroke-width="0.9" fill="none"/>
<rect x="114.3" y="233.3" width="5.5" height="5.5" stroke="#f0a060" stroke-width="0.9" fill="none"/>
<rect x="107.3" y="241.3" width="5.5" height="5.5" stroke="#f0a060" stroke-width="0.9" fill="none"/>
<rect x="111.3" y="244.3" width="5.5" height="5.5" stroke="#f0a060" stroke-width="0.9" fill="none"/>
<rect x="103.3" y="229.3" width="5.5" height="5.5" stroke="#f0a060" stroke-width="0.9" fill="none"/>
<rect x="117.3" y="239.3" width="5.5" height="5.5" stroke="#f0a060" stroke-width="0.9" fill="none"/>
<rect x="115.3" y="228.3" width="5.5" height="5.5" stroke="#f0a060" stroke-width="0.9" fill="none"/>
<rect x="98.3" y="225.3" width="5.5" height="5.5" stroke="#f0a060" stroke-width="0.9" fill="none"/>
<rect x="121.3" y="232.3" width="5.5" height="5.5" stroke="#f0a060" stroke-width="0.9" fill="none"/>
<circle cx="94.4" cy="240.3" r="2.9" stroke="#6aa0ee" stroke-width="0.9" fill="none"/><path d="M91.5 240.3H97.3M94.4 237.4V243.2" stroke="#6aa0ee" stroke-width="0.9" fill="none"/>
<circle cx="90.7" cy="258.1" r="2.9" stroke="#6aa0ee" stroke-width="0.9" fill="none"/><path d="M87.8 258.1H93.6M90.7 255.2V261" stroke="#6aa0ee" stroke-width="0.9" fill="none"/>
<circle cx="98.4" cy="258.8" r="2.9" stroke="#6aa0ee" stroke-width="0.9" fill="none"/><path d="M95.5 258.8H101.3M98.4 255.9V261.7" stroke="#6aa0ee" stroke-width="0.9" fill="none"/>
<circle cx="93.1" cy="249.9" r="2.9" stroke="#6aa0ee" stroke-width="0.9" fill="none"/><path d="M90.2 249.9H96M93.1 247V252.8" stroke="#6aa0ee" stroke-width="0.9" fill="none"/>
<circle cx="98.4" cy="245.2" r="2.9" stroke="#6aa0ee" stroke-width="0.9" fill="none"/><path d="M95.5 245.2H101.3M98.4 242.3V248" stroke="#6aa0ee" stroke-width="0.9" fill="none"/>
<circle cx="98.8" cy="252" r="2.9" stroke="#6aa0ee" stroke-width="0.9" fill="none"/><path d="M95.9 252H101.7M98.8 249.1V254.9" stroke="#6aa0ee" stroke-width="0.9" fill="none"/>
<circle cx="91.6" cy="256.9" r="2.9" stroke="#6aa0ee" stroke-width="0.9" fill="none"/><path d="M88.7 256.9H94.5M91.6 254V259.8" stroke="#6aa0ee" stroke-width="0.9" fill="none"/>
<circle cx="88.2" cy="252.2" r="2.9" stroke="#6aa0ee" stroke-width="0.9" fill="none"/><path d="M85.3 252.2H91.1M88.2 249.3V255.1" stroke="#6aa0ee" stroke-width="0.9" fill="none"/>
<circle cx="94.7" cy="250.5" r="2.9" stroke="#6aa0ee" stroke-width="0.9" fill="none"/><path d="M91.8 250.5H97.5M94.7 247.6V253.4" stroke="#6aa0ee" stroke-width="0.9" fill="none"/>
<circle cx="96.8" cy="247" r="2.9" stroke="#6aa0ee" stroke-width="0.9" fill="none"/><path d="M93.9 247H99.7M96.8 244.1V249.9" stroke="#6aa0ee" stroke-width="0.9" fill="none"/>
<circle cx="102.4" cy="247.9" r="2.9" stroke="#6aa0ee" stroke-width="0.9" fill="none"/><path d="M99.5 247.9H105.3M102.4 245V250.8" stroke="#6aa0ee" stroke-width="0.9" fill="none"/>
<circle cx="88.7" cy="242.3" r="2.9" stroke="#6aa0ee" stroke-width="0.9" fill="none"/><path d="M85.8 242.3H91.6M88.7 239.4V245.2" stroke="#6aa0ee" stroke-width="0.9" fill="none"/>
<circle cx="98.2" cy="242.2" r="2.9" stroke="#6aa0ee" stroke-width="0.9" fill="none"/><path d="M95.3 242.2H101.1M98.2 239.4V245.1" stroke="#6aa0ee" stroke-width="0.9" fill="none"/>
<circle cx="93" cy="254.2" r="2.9" stroke="#6aa0ee" stroke-width="0.9" fill="none"/><path d="M90.1 254.2H95.9M93 251.4V257.1" stroke="#6aa0ee" stroke-width="0.9" fill="none"/>
<circle cx="92.6" cy="253.7" r="2.9" stroke="#6aa0ee" stroke-width="0.9" fill="none"/><path d="M89.7 253.7H95.5M92.6 250.8V256.6" stroke="#6aa0ee" stroke-width="0.9" fill="none"/>
<circle cx="97.1" cy="253" r="2.9" stroke="#6aa0ee" stroke-width="0.9" fill="none"/><path d="M94.2 253H99.9M97.1 250.1V255.9" stroke="#6aa0ee" stroke-width="0.9" fill="none"/>
<circle cx="92" cy="253.4" r="2.9" stroke="#6aa0ee" stroke-width="0.9" fill="none"/><path d="M89.1 253.4H94.8M92 250.5V256.3" stroke="#6aa0ee" stroke-width="0.9" fill="none"/>
<circle cx="97.4" cy="252.1" r="2.9" stroke="#6aa0ee" stroke-width="0.9" fill="none"/><path d="M94.5 252.1H100.3M97.4 249.2V255" stroke="#6aa0ee" stroke-width="0.9" fill="none"/>
<circle cx="94.9" cy="256" r="2.9" stroke="#6aa0ee" stroke-width="0.9" fill="none"/><path d="M92 256H97.7M94.9 253.1V258.9" stroke="#6aa0ee" stroke-width="0.9" fill="none"/>
<circle cx="90.3" cy="255.1" r="2.9" stroke="#6aa0ee" stroke-width="0.9" fill="none"/><path d="M87.4 255.1H93.2M90.3 252.2V258" stroke="#6aa0ee" stroke-width="0.9" fill="none"/>
<circle cx="96.3" cy="239.7" r="2.9" stroke="#6aa0ee" stroke-width="0.9" fill="none"/><path d="M93.4 239.7H99.2M96.3 236.8V242.6" stroke="#6aa0ee" stroke-width="0.9" fill="none"/>
<circle cx="100.6" cy="245.3" r="2.9" stroke="#6aa0ee" stroke-width="0.9" fill="none"/><path d="M97.7 245.3H103.5M100.6 242.4V248.1" stroke="#6aa0ee" stroke-width="0.9" fill="none"/>
<rect x="63.3" y="185.7" width="5.5" height="5.5" stroke="#3a9a8a" stroke-width="0.9" fill="none"/><path d="M63.3 191.2L66 185.7L68.8 191.2" stroke="#3a9a8a" stroke-width="0.9" fill="none"/>
<rect x="63.6" y="193.2" width="5.5" height="5.5" stroke="#3a9a8a" stroke-width="0.9" fill="none"/><path d="M63.6 198.6L66.3 193.2L69 198.6" stroke="#3a9a8a" stroke-width="0.9" fill="none"/>
<rect x="63" y="195.3" width="5.5" height="5.5" stroke="#3a9a8a" stroke-width="0.9" fill="none"/><path d="M63 200.8L65.7 195.3L68.5 200.8" stroke="#3a9a8a" stroke-width="0.9" fill="none"/>
<rect x="65" y="184" width="5.5" height="5.5" stroke="#3a9a8a" stroke-width="0.9" fill="none"/><path d="M65 189.5L67.7 184L70.4 189.5" stroke="#3a9a8a" stroke-width="0.9" fill="none"/>
<rect x="68" y="188.9" width="5.5" height="5.5" stroke="#3a9a8a" stroke-width="0.9" fill="none"/><path d="M68 194.3L70.7 188.9L73.4 194.3" stroke="#3a9a8a" stroke-width="0.9" fill="none"/>
<rect x="67.5" y="197.2" width="5.5" height="5.5" stroke="#3a9a8a" stroke-width="0.9" fill="none"/><path d="M67.5 202.6L70.2 197.2L72.9 202.6" stroke="#3a9a8a" stroke-width="0.9" fill="none"/>
<rect x="66.4" y="187.3" width="5.5" height="5.5" stroke="#3a9a8a" stroke-width="0.9" fill="none"/><path d="M66.4 192.7L69.1 187.3L71.8 192.7" stroke="#3a9a8a" stroke-width="0.9" fill="none"/>
<rect x="74.2" y="182.4" width="5.5" height="5.5" stroke="#3a9a8a" stroke-width="0.9" fill="none"/><path d="M74.2 187.9L76.9 182.4L79.7 187.9" stroke="#3a9a8a" stroke-width="0.9" fill="none"/>
<rect x="63.9" y="194.8" width="5.5" height="5.5" stroke="#3a9a8a" stroke-width="0.9" fill="none"/><path d="M63.9 200.3L66.6 194.8L69.3 200.3" stroke="#3a9a8a" stroke-width="0.9" fill="none"/>
<rect x="66" y="196" width="5.5" height="5.5" stroke="#3a9a8a" stroke-width="0.9" fill="none"/><path d="M66 201.5L68.7 196L71.5 201.5" stroke="#3a9a8a" stroke-width="0.9" fill="none"/>
<rect x="73.6" y="185.1" width="5.5" height="5.5" stroke="#3a9a8a" stroke-width="0.9" fill="none"/><path d="M73.6 190.6L76.3 185.1L79.1 190.6" stroke="#3a9a8a" stroke-width="0.9" fill="none"/>
<rect x="66.3" y="179.4" width="5.5" height="5.5" stroke="#3a9a8a" stroke-width="0.9" fill="none"/><path d="M66.3 184.9L69 179.4L71.7 184.9" stroke="#3a9a8a" stroke-width="0.9" fill="none"/>
<rect x="74.4" y="186.6" width="5.5" height="5.5" stroke="#3a9a8a" stroke-width="0.9" fill="none"/><path d="M74.4 192L77.1 186.6L79.8 192" stroke="#3a9a8a" stroke-width="0.9" fill="none"/>
<rect x="66.4" y="181" width="5.5" height="5.5" stroke="#3a9a8a" stroke-width="0.9" fill="none"/><path d="M66.4 186.4L69.1 181L71.9 186.4" stroke="#3a9a8a" stroke-width="0.9" fill="none"/>
<rect x="64.7" y="195.6" width="5.5" height="5.5" stroke="#3a9a8a" stroke-width="0.9" fill="none"/><path d="M64.7 201.1L67.4 195.6L70.1 201.1" stroke="#3a9a8a" stroke-width="0.9" fill="none"/>
<rect x="63.2" y="188.9" width="5.5" height="5.5" stroke="#3a9a8a" stroke-width="0.9" fill="none"/><path d="M63.2 194.4L66 188.9L68.7 194.4" stroke="#3a9a8a" stroke-width="0.9" fill="none"/>
<rect x="70.6" y="188.2" width="5.5" height="5.5" stroke="#3a9a8a" stroke-width="0.9" fill="none"/><path d="M70.6 193.7L73.4 188.2L76.1 193.7" stroke="#3a9a8a" stroke-width="0.9" fill="none"/>
<rect x="68.8" y="185.6" width="5.5" height="5.5" stroke="#3a9a8a" stroke-width="0.9" fill="none"/><path d="M68.8 191.1L71.5 185.6L74.3 191.1" stroke="#3a9a8a" stroke-width="0.9" fill="none"/>
<rect x="64.1" y="194.5" width="5.5" height="5.5" stroke="#3a9a8a" stroke-width="0.9" fill="none"/><path d="M64.1 200L66.9 194.5L69.6 200" stroke="#3a9a8a" stroke-width="0.9" fill="none"/>
<rect x="74.7" y="189.1" width="5.5" height="5.5" stroke="#3a9a8a" stroke-width="0.9" fill="none"/><path d="M74.7 194.6L77.5 189.1L80.2 194.6" stroke="#3a9a8a" stroke-width="0.9" fill="none"/>
<rect x="65" y="196.4" width="5.5" height="5.5" stroke="#3a9a8a" stroke-width="0.9" fill="none"/><path d="M65 201.9L67.8 196.4L70.5 201.9" stroke="#3a9a8a" stroke-width="0.9" fill="none"/>
<rect x="64.3" y="180.9" width="5.5" height="5.5" stroke="#3a9a8a" stroke-width="0.9" fill="none"/><path d="M64.3 186.3L67 180.9L69.8 186.3" stroke="#3a9a8a" stroke-width="0.9" fill="none"/>
<rect x="78.5" y="262.9" width="5.5" height="5.5" stroke="#3a9a8a" stroke-width="0.9" fill="none"/><path d="M78.5 268.4L81.3 262.9L84 268.4" stroke="#3a9a8a" stroke-width="0.9" fill="none"/>
<rect x="77.6" y="244.1" width="5.5" height="5.5" stroke="#3a9a8a" stroke-width="0.9" fill="none"/><path d="M77.6 249.6L80.3 244.1L83 249.6" stroke="#3a9a8a" stroke-width="0.9" fill="none"/>
<rect x="84.9" y="245.3" width="5.5" height="5.5" stroke="#3a9a8a" stroke-width="0.9" fill="none"/><path d="M84.9 250.8L87.6 245.3L90.4 250.8" stroke="#3a9a8a" stroke-width="0.9" fill="none"/>
<rect x="81.5" y="260.9" width="5.5" height="5.5" stroke="#3a9a8a" stroke-width="0.9" fill="none"/><path d="M81.5 266.4L84.3 260.9L87 266.4" stroke="#3a9a8a" stroke-width="0.9" fill="none"/>
<rect x="68.6" y="263.4" width="5.5" height="5.5" stroke="#3a9a8a" stroke-width="0.9" fill="none"/><path d="M68.6 268.9L71.4 263.4L74.1 268.9" stroke="#3a9a8a" stroke-width="0.9" fill="none"/>
<rect x="68.1" y="253.1" width="5.5" height="5.5" stroke="#3a9a8a" stroke-width="0.9" fill="none"/><path d="M68.1 258.5L70.9 253.1L73.6 258.5" stroke="#3a9a8a" stroke-width="0.9" fill="none"/>
<rect x="83.5" y="249.9" width="5.5" height="5.5" stroke="#3a9a8a" stroke-width="0.9" fill="none"/><path d="M83.5 255.4L86.2 249.9L89 255.4" stroke="#3a9a8a" stroke-width="0.9" fill="none"/>
<rect x="72.7" y="261.5" width="5.5" height="5.5" stroke="#3a9a8a" stroke-width="0.9" fill="none"/><path d="M72.7 267L75.5 261.5L78.2 267" stroke="#3a9a8a" stroke-width="0.9" fill="none"/>
<rect x="75.2" y="267.2" width="5.5" height="5.5" stroke="#3a9a8a" stroke-width="0.9" fill="none"/><path d="M75.2 272.7L77.9 267.2L80.7 272.7" stroke="#3a9a8a" stroke-width="0.9" fill="none"/>
<rect x="80" y="246.3" width="5.5" height="5.5" stroke="#3a9a8a" stroke-width="0.9" fill="none"/><path d="M80 251.8L82.7 246.3L85.5 251.8" stroke="#3a9a8a" stroke-width="0.9" fill="none"/>
<rect x="79.6" y="256.3" width="5.5" height="5.5" stroke="#3a9a8a" stroke-width="0.9" fill="none"/><path d="M79.6 261.8L82.4 256.3L85.1 261.8" stroke="#3a9a8a" stroke-width="0.9" fill="none"/>
<rect x="76" y="256" width="5.5" height="5.5" stroke="#3a9a8a" stroke-width="0.9" fill="none"/><path d="M76 261.5L78.7 256L81.4 261.5" stroke="#3a9a8a" stroke-width="0.9" fill="none"/>
<rect x="72.8" y="246.4" width="5.5" height="5.5" stroke="#3a9a8a" stroke-width="0.9" fill="none"/><path d="M72.8 251.9L75.5 246.4L78.2 251.9" stroke="#3a9a8a" stroke-width="0.9" fill="none"/>
<rect x="83.7" y="250.8" width="5.5" height="5.5" stroke="#3a9a8a" stroke-width="0.9" fill="none"/><path d="M83.7 256.3L86.4 250.8L89.2 256.3" stroke="#3a9a8a" stroke-width="0.9" fill="none"/>
<rect x="76.5" y="258.8" width="5.5" height="5.5" stroke="#3a9a8a" stroke-width="0.9" fill="none"/><path d="M76.5 264.3L79.2 258.8L81.9 264.3" stroke="#3a9a8a" stroke-width="0.9" fill="none"/>
<rect x="73.4" y="245.1" width="5.5" height="5.5" stroke="#3a9a8a" stroke-width="0.9" fill="none"/><path d="M73.4 250.6L76.1 245.1L78.8 250.6" stroke="#3a9a8a" stroke-width="0.9" fill="none"/>
<rect x="73.2" y="262.9" width="5.5" height="5.5" stroke="#3a9a8a" stroke-width="0.9" fill="none"/><path d="M73.2 268.4L76 262.9L78.7 268.4" stroke="#3a9a8a" stroke-width="0.9" fill="none"/>
<rect x="72.2" y="265" width="5.5" height="5.5" stroke="#3a9a8a" stroke-width="0.9" fill="none"/><path d="M72.2 270.5L74.9 265L77.7 270.5" stroke="#3a9a8a" stroke-width="0.9" fill="none"/>
<rect x="72.7" y="264.6" width="5.5" height="5.5" stroke="#3a9a8a" stroke-width="0.9" fill="none"/><path d="M72.7 270.1L75.5 264.6L78.2 270.1" stroke="#3a9a8a" stroke-width="0.9" fill="none"/>
<rect x="70.5" y="252.8" width="5.5" height="5.5" stroke="#3a9a8a" stroke-width="0.9" fill="none"/><path d="M70.5 258.3L73.2 252.8L76 258.3" stroke="#3a9a8a" stroke-width="0.9" fill="none"/>
<rect x="69.6" y="245.1" width="5.5" height="5.5" stroke="#3a9a8a" stroke-width="0.9" fill="none"/><path d="M69.6 250.6L72.3 245.1L75.1 250.6" stroke="#3a9a8a" stroke-width="0.9" fill="none"/>
<rect x="76.7" y="250.8" width="5.5" height="5.5" stroke="#3a9a8a" stroke-width="0.9" fill="none"/><path d="M76.7 256.2L79.4 250.8L82.1 256.2" stroke="#3a9a8a" stroke-width="0.9" fill="none"/>
<rect x="75.3" y="224.3" width="5.5" height="5.5" stroke="#3a9a8a" stroke-width="0.9" fill="none"/><path d="M75.3 229.7L78 224.3L80.7 229.7" stroke="#3a9a8a" stroke-width="0.9" fill="none"/>
<rect x="73.6" y="244.3" width="5.5" height="5.5" stroke="#3a9a8a" stroke-width="0.9" fill="none"/><path d="M73.6 249.7L76.3 244.3L79 249.7" stroke="#3a9a8a" stroke-width="0.9" fill="none"/>
<rect x="80.6" y="243.5" width="5.5" height="5.5" stroke="#3a9a8a" stroke-width="0.9" fill="none"/><path d="M80.6 248.9L83.3 243.5L86 248.9" stroke="#3a9a8a" stroke-width="0.9" fill="none"/>
<rect x="62.2" y="185.7" width="5.5" height="5.5" stroke="#3a9a8a" stroke-width="0.9" fill="none"/><path d="M62.2 191.1L64.9 185.7L67.6 191.1" stroke="#3a9a8a" stroke-width="0.9" fill="none"/>
<rect x="63.9" y="195.3" width="5.5" height="5.5" stroke="#3a9a8a" stroke-width="0.9" fill="none"/><path d="M63.9 200.7L66.6 195.3L69.3 200.7" stroke="#3a9a8a" stroke-width="0.9" fill="none"/>
<rect x="60.8" y="168.3" width="5.5" height="5.5" stroke="#3a9a8a" stroke-width="0.9" fill="none"/><path d="M60.8 173.7L63.5 168.3L66.2 173.7" stroke="#3a9a8a" stroke-width="0.9" fill="none"/>
<rect x="199.3" y="233.7" width="5.5" height="5.5" stroke="#3a9a8a" stroke-width="0.9" fill="none"/><path d="M199.3 239.1L202 233.7L204.7 239.1" stroke="#3a9a8a" stroke-width="0.9" fill="none"/>
<rect x="66.8" y="173.3" width="5.5" height="5.5" stroke="#3a9a8a" stroke-width="0.9" fill="none"/><path d="M66.8 178.7L69.5 173.3L72.2 178.7" stroke="#3a9a8a" stroke-width="0.9" fill="none"/>
<rect x="101.3" y="219.3" width="5.5" height="5.5" stroke="#e86030" stroke-width="0.9" fill="none"/><path d="M101.3 222H106.7M104 219.3V224.7" stroke="#e86030" stroke-width="0.9" fill="none"/>
<rect x="107.3" y="221.3" width="5.5" height="5.5" stroke="#e86030" stroke-width="0.9" fill="none"/><path d="M107.3 224H112.7M110 221.3V226.7" stroke="#e86030" stroke-width="0.9" fill="none"/>
<rect x="113.3" y="220.3" width="5.5" height="5.5" stroke="#e86030" stroke-width="0.9" fill="none"/><path d="M113.3 223H118.7M116 220.3V225.7" stroke="#e86030" stroke-width="0.9" fill="none"/>
<rect x="119.3" y="219.3" width="5.5" height="5.5" stroke="#e86030" stroke-width="0.9" fill="none"/><path d="M119.3 222H124.7M122 219.3V224.7" stroke="#e86030" stroke-width="0.9" fill="none"/>
<rect x="125.3" y="222.3" width="5.5" height="5.5" stroke="#e86030" stroke-width="0.9" fill="none"/><path d="M125.3 225H130.7M128 222.3V227.7" stroke="#e86030" stroke-width="0.9" fill="none"/>
<rect x="116.3" y="226.3" width="5.5" height="5.5" stroke="#e86030" stroke-width="0.9" fill="none"/><path d="M116.3 229H121.7M119 226.3V231.7" stroke="#e86030" stroke-width="0.9" fill="none"/>
<rect x="122.3" y="226.3" width="5.5" height="5.5" stroke="#e86030" stroke-width="0.9" fill="none"/><path d="M122.3 229H127.7M125 226.3V231.7" stroke="#e86030" stroke-width="0.9" fill="none"/>
<rect x="105.3" y="226.3" width="5.5" height="5.5" stroke="#e86030" stroke-width="0.9" fill="none"/><path d="M105.3 229H110.7M108 226.3V231.7" stroke="#e86030" stroke-width="0.9" fill="none"/>
<rect x="140.2" y="204.1" width="5.5" height="5.5" stroke="#e86030" stroke-width="0.9" fill="none"/><path d="M140.2 206.8H145.6M142.9 204.1V209.5" stroke="#e86030" stroke-width="0.9" fill="none"/>
<rect x="112.1" y="229.3" width="5.5" height="5.5" stroke="#e86030" stroke-width="0.9" fill="none"/><path d="M112.1 232H117.5M114.8 229.3V234.7" stroke="#e86030" stroke-width="0.9" fill="none"/>
<rect x="118.3" y="233.9" width="5.5" height="5.5" stroke="#e86030" stroke-width="0.9" fill="none"/><path d="M118.3 236.6H123.7M121 233.9V239.3" stroke="#e86030" stroke-width="0.9" fill="none"/>
<rect x="101.3" y="232.3" width="5.5" height="5.5" stroke="#e86030" stroke-width="0.9" fill="none"/><path d="M101.3 235H106.7M104 232.3V237.7" stroke="#e86030" stroke-width="0.9" fill="none"/>
<rect x="87.4" y="174.4" width="3.2" height="3.2" stroke="#f06a5a" stroke-width="0.8" fill="none"/><path d="M87.4 176H90.6M89 174.4V177.6" stroke="#f06a5a" stroke-width="0.8" fill="none"/>
<rect x="89.4" y="178.4" width="3.2" height="3.2" stroke="#f06a5a" stroke-width="0.8" fill="none"/><path d="M89.4 180H92.6M91 178.4V181.6" stroke="#f06a5a" stroke-width="0.8" fill="none"/>
<rect x="90.4" y="182.4" width="3.2" height="3.2" stroke="#f06a5a" stroke-width="0.8" fill="none"/><path d="M90.4 184H93.6M92 182.4V185.6" stroke="#f06a5a" stroke-width="0.8" fill="none"/>
<rect x="86.9" y="180.4" width="3.2" height="3.2" stroke="#f06a5a" stroke-width="0.8" fill="none"/><path d="M86.9 182H90.1M88.5 180.4V183.6" stroke="#f06a5a" stroke-width="0.8" fill="none"/>
<rect x="91.4" y="176.4" width="3.2" height="3.2" stroke="#f06a5a" stroke-width="0.8" fill="none"/><path d="M91.4 178H94.6M93 176.4V179.6" stroke="#f06a5a" stroke-width="0.8" fill="none"/>
<rect x="89.8" y="158" width="5.5" height="5.5" stroke="#3c9a6a" stroke-width="0.9" fill="none"/><path d="M89.8 158L95.2 163.5M89.8 163.5L95.2 158" stroke="#3c9a6a" stroke-width="0.9" fill="none"/>
<rect x="83.6" y="165.1" width="5.5" height="5.5" stroke="#3c9a6a" stroke-width="0.9" fill="none"/><path d="M83.6 165.1L89.1 170.6M83.6 170.6L89.1 165.1" stroke="#3c9a6a" stroke-width="0.9" fill="none"/>
<rect x="86.5" y="201.4" width="5.5" height="5.5" stroke="#3c9a6a" stroke-width="0.9" fill="none"/><path d="M86.5 201.4L92 206.8M86.5 206.8L92 201.4" stroke="#3c9a6a" stroke-width="0.9" fill="none"/>
<rect x="90.7" y="160.7" width="5.5" height="5.5" stroke="#3c9a6a" stroke-width="0.9" fill="none"/><path d="M90.7 160.7L96.2 166.1M90.7 166.1L96.2 160.7" stroke="#3c9a6a" stroke-width="0.9" fill="none"/>
<rect x="87.1" y="201.7" width="5.5" height="5.5" stroke="#3c9a6a" stroke-width="0.9" fill="none"/><path d="M87.1 201.7L92.6 207.1M87.1 207.1L92.6 201.7" stroke="#3c9a6a" stroke-width="0.9" fill="none"/>
<rect x="82.9" y="162.7" width="5.5" height="5.5" stroke="#3c9a6a" stroke-width="0.9" fill="none"/><path d="M82.9 162.7L88.4 168.2M82.9 168.2L88.4 162.7" stroke="#3c9a6a" stroke-width="0.9" fill="none"/>
<rect x="96.8" y="148.5" width="5.5" height="5.5" stroke="#3c9a6a" stroke-width="0.9" fill="none"/><path d="M96.8 148.5L102.3 154M96.8 154L102.3 148.5" stroke="#3c9a6a" stroke-width="0.9" fill="none"/>
<rect x="79.2" y="184.2" width="5.5" height="5.5" stroke="#3c9a6a" stroke-width="0.9" fill="none"/><path d="M79.2 184.2L84.6 189.7M79.2 189.7L84.6 184.2" stroke="#3c9a6a" stroke-width="0.9" fill="none"/>
<rect x="82.6" y="185.7" width="5.5" height="5.5" stroke="#3c9a6a" stroke-width="0.9" fill="none"/><path d="M82.6 185.7L88.1 191.1M82.6 191.1L88.1 185.7" stroke="#3c9a6a" stroke-width="0.9" fill="none"/>
<rect x="94.2" y="147.1" width="5.5" height="5.5" stroke="#3c9a6a" stroke-width="0.9" fill="none"/><path d="M94.2 147.1L99.6 152.6M94.2 152.6L99.6 147.1" stroke="#3c9a6a" stroke-width="0.9" fill="none"/>
<rect x="81.7" y="168.9" width="5.5" height="5.5" stroke="#3c9a6a" stroke-width="0.9" fill="none"/><path d="M81.7 168.9L87.2 174.3M81.7 174.3L87.2 168.9" stroke="#3c9a6a" stroke-width="0.9" fill="none"/>
<rect x="88.9" y="161.9" width="5.5" height="5.5" stroke="#3c9a6a" stroke-width="0.9" fill="none"/><path d="M88.9 161.9L94.4 167.3M88.9 167.3L94.4 161.9" stroke="#3c9a6a" stroke-width="0.9" fill="none"/>
<rect x="93" y="160.6" width="5.5" height="5.5" stroke="#3c9a6a" stroke-width="0.9" fill="none"/><path d="M93 160.6L98.5 166.1M93 166.1L98.5 160.6" stroke="#3c9a6a" stroke-width="0.9" fill="none"/>
<rect x="99.7" y="167.2" width="5.5" height="5.5" stroke="#3c9a6a" stroke-width="0.9" fill="none"/><path d="M99.7 167.2L105.2 172.7M99.7 172.7L105.2 167.2" stroke="#3c9a6a" stroke-width="0.9" fill="none"/>
<rect x="78.7" y="157.9" width="5.5" height="5.5" stroke="#3c9a6a" stroke-width="0.9" fill="none"/><path d="M78.7 157.9L84.2 163.4M78.7 163.4L84.2 157.9" stroke="#3c9a6a" stroke-width="0.9" fill="none"/>
<rect x="99.1" y="171.6" width="5.5" height="5.5" stroke="#3c9a6a" stroke-width="0.9" fill="none"/><path d="M99.1 171.6L104.6 177.1M99.1 177.1L104.6 171.6" stroke="#3c9a6a" stroke-width="0.9" fill="none"/>
<rect x="87.2" y="208.5" width="5.5" height="5.5" stroke="#3c9a6a" stroke-width="0.9" fill="none"/><path d="M87.2 208.5L92.7 214M87.2 214L92.7 208.5" stroke="#3c9a6a" stroke-width="0.9" fill="none"/>
<rect x="81.7" y="165.5" width="5.5" height="5.5" stroke="#3c9a6a" stroke-width="0.9" fill="none"/><path d="M81.7 165.5L87.2 171M81.7 171L87.2 165.5" stroke="#3c9a6a" stroke-width="0.9" fill="none"/>
<rect x="88.9" y="160.8" width="5.5" height="5.5" stroke="#3c9a6a" stroke-width="0.9" fill="none"/><path d="M88.9 160.8L94.4 166.3M88.9 166.3L94.4 160.8" stroke="#3c9a6a" stroke-width="0.9" fill="none"/>
<rect x="84.6" y="157.7" width="5.5" height="5.5" stroke="#3c9a6a" stroke-width="0.9" fill="none"/><path d="M84.6 157.7L90.1 163.2M84.6 163.2L90.1 157.7" stroke="#3c9a6a" stroke-width="0.9" fill="none"/>
<rect x="81.8" y="194.2" width="5.5" height="5.5" stroke="#3c9a6a" stroke-width="0.9" fill="none"/><path d="M81.8 194.2L87.2 199.7M81.8 199.7L87.2 194.2" stroke="#3c9a6a" stroke-width="0.9" fill="none"/>
<rect x="91.6" y="173.6" width="5.5" height="5.5" stroke="#3c9a6a" stroke-width="0.9" fill="none"/><path d="M91.6 173.6L97 179M91.6 179L97 173.6" stroke="#3c9a6a" stroke-width="0.9" fill="none"/>
<rect x="88" y="185" width="5.5" height="5.5" stroke="#3c9a6a" stroke-width="0.9" fill="none"/><path d="M88 185L93.5 190.4M88 190.4L93.5 185" stroke="#3c9a6a" stroke-width="0.9" fill="none"/>
<rect x="93.7" y="144.8" width="5.5" height="5.5" stroke="#3c9a6a" stroke-width="0.9" fill="none"/><path d="M93.7 144.8L99.2 150.3M93.7 150.3L99.2 144.8" stroke="#3c9a6a" stroke-width="0.9" fill="none"/>
<rect x="84.5" y="208.4" width="5.5" height="5.5" stroke="#3c9a6a" stroke-width="0.9" fill="none"/><path d="M84.5 208.4L90 213.9M84.5 213.9L90 208.4" stroke="#3c9a6a" stroke-width="0.9" fill="none"/>
<rect x="95.7" y="167.1" width="5.5" height="5.5" stroke="#3c9a6a" stroke-width="0.9" fill="none"/><path d="M95.7 167.1L101.2 172.6M95.7 172.6L101.2 167.1" stroke="#3c9a6a" stroke-width="0.9" fill="none"/>
<rect x="87.1" y="168.8" width="5.5" height="5.5" stroke="#3c9a6a" stroke-width="0.9" fill="none"/><path d="M87.1 168.8L92.6 174.2M87.1 174.2L92.6 168.8" stroke="#3c9a6a" stroke-width="0.9" fill="none"/>
<rect x="77.9" y="182.5" width="5.5" height="5.5" stroke="#3c9a6a" stroke-width="0.9" fill="none"/><path d="M77.9 182.5L83.4 188M77.9 188L83.4 182.5" stroke="#3c9a6a" stroke-width="0.9" fill="none"/>
<rect x="82.1" y="195.1" width="5.5" height="5.5" stroke="#3c9a6a" stroke-width="0.9" fill="none"/><path d="M82.1 195.1L87.6 200.5M82.1 200.5L87.6 195.1" stroke="#3c9a6a" stroke-width="0.9" fill="none"/>
<rect x="89.5" y="163.2" width="5.5" height="5.5" stroke="#3c9a6a" stroke-width="0.9" fill="none"/><path d="M89.5 163.2L95 168.6M89.5 168.6L95 163.2" stroke="#3c9a6a" stroke-width="0.9" fill="none"/>
<rect x="92.9" y="153.8" width="5.5" height="5.5" stroke="#3c9a6a" stroke-width="0.9" fill="none"/><path d="M92.9 153.8L98.3 159.2M92.9 159.2L98.3 153.8" stroke="#3c9a6a" stroke-width="0.9" fill="none"/>
<rect x="81.7" y="157.1" width="5.5" height="5.5" stroke="#3c9a6a" stroke-width="0.9" fill="none"/><path d="M81.7 157.1L87.2 162.6M81.7 162.6L87.2 157.1" stroke="#3c9a6a" stroke-width="0.9" fill="none"/>
<rect x="85.3" y="186.7" width="5.5" height="5.5" stroke="#3c9a6a" stroke-width="0.9" fill="none"/><path d="M85.3 186.7L90.8 192.1M85.3 192.1L90.8 186.7" stroke="#3c9a6a" stroke-width="0.9" fill="none"/>
<rect x="86.8" y="188.2" width="5.5" height="5.5" stroke="#3c9a6a" stroke-width="0.9" fill="none"/><path d="M86.8 188.2L92.2 193.7M86.8 193.7L92.2 188.2" stroke="#3c9a6a" stroke-width="0.9" fill="none"/>
<rect x="97.6" y="170.3" width="5.5" height="5.5" stroke="#3c9a6a" stroke-width="0.9" fill="none"/><path d="M97.6 170.3L103.1 175.7M97.6 175.7L103.1 170.3" stroke="#3c9a6a" stroke-width="0.9" fill="none"/>
<rect x="91.5" y="161.8" width="5.5" height="5.5" stroke="#3c9a6a" stroke-width="0.9" fill="none"/><path d="M91.5 161.8L97 167.2M91.5 167.2L97 161.8" stroke="#3c9a6a" stroke-width="0.9" fill="none"/>
<rect x="87.5" y="186.4" width="5.5" height="5.5" stroke="#3c9a6a" stroke-width="0.9" fill="none"/><path d="M87.5 186.4L93 191.9M87.5 191.9L93 186.4" stroke="#3c9a6a" stroke-width="0.9" fill="none"/>
<rect x="88.8" y="155.7" width="5.5" height="5.5" stroke="#3c9a6a" stroke-width="0.9" fill="none"/><path d="M88.8 155.7L94.3 161.2M88.8 161.2L94.3 155.7" stroke="#3c9a6a" stroke-width="0.9" fill="none"/>
<rect x="82" y="199.3" width="5.5" height="5.5" stroke="#3c9a6a" stroke-width="0.9" fill="none"/><path d="M82 199.3L87.5 204.8M82 204.8L87.5 199.3" stroke="#3c9a6a" stroke-width="0.9" fill="none"/>
<rect x="84.7" y="156.4" width="5.5" height="5.5" stroke="#3c9a6a" stroke-width="0.9" fill="none"/><path d="M84.7 156.4L90.2 161.8M84.7 161.8L90.2 156.4" stroke="#3c9a6a" stroke-width="0.9" fill="none"/>
<rect x="82.9" y="178.7" width="5.5" height="5.5" stroke="#3c9a6a" stroke-width="0.9" fill="none"/><path d="M82.9 178.7L88.4 184.2M82.9 184.2L88.4 178.7" stroke="#3c9a6a" stroke-width="0.9" fill="none"/>
<rect x="86" y="167.1" width="5.5" height="5.5" stroke="#3c9a6a" stroke-width="0.9" fill="none"/><path d="M86 167.1L91.5 172.6M86 172.6L91.5 167.1" stroke="#3c9a6a" stroke-width="0.9" fill="none"/>
<rect x="84" y="158" width="5.5" height="5.5" stroke="#3c9a6a" stroke-width="0.9" fill="none"/><path d="M84 158L89.4 163.5M84 163.5L89.4 158" stroke="#3c9a6a" stroke-width="0.9" fill="none"/>
<rect x="88.9" y="184.1" width="5.5" height="5.5" stroke="#3c9a6a" stroke-width="0.9" fill="none"/><path d="M88.9 184.1L94.4 189.5M88.9 189.5L94.4 184.1" stroke="#3c9a6a" stroke-width="0.9" fill="none"/>
<rect x="77.7" y="183.4" width="5.5" height="5.5" stroke="#3c9a6a" stroke-width="0.9" fill="none"/><path d="M77.7 183.4L83.1 188.9M77.7 188.9L83.1 183.4" stroke="#3c9a6a" stroke-width="0.9" fill="none"/>
<rect x="83.6" y="209.8" width="5.5" height="5.5" stroke="#3c9a6a" stroke-width="0.9" fill="none"/><path d="M83.6 209.8L89 215.3M83.6 215.3L89 209.8" stroke="#3c9a6a" stroke-width="0.9" fill="none"/>
<rect x="94.1" y="166.7" width="5.5" height="5.5" stroke="#3c9a6a" stroke-width="0.9" fill="none"/><path d="M94.1 166.7L99.5 172.2M94.1 172.2L99.5 166.7" stroke="#3c9a6a" stroke-width="0.9" fill="none"/>
<rect x="78.3" y="202.8" width="5.5" height="5.5" stroke="#3c9a6a" stroke-width="0.9" fill="none"/><path d="M78.3 202.8L83.7 208.3M78.3 208.3L83.7 202.8" stroke="#3c9a6a" stroke-width="0.9" fill="none"/>
<rect x="90.3" y="189.2" width="5.5" height="5.5" stroke="#3c9a6a" stroke-width="0.9" fill="none"/><path d="M90.3 189.2L95.7 194.7M90.3 194.7L95.7 189.2" stroke="#3c9a6a" stroke-width="0.9" fill="none"/>
<rect x="98.4" y="164" width="5.5" height="5.5" stroke="#3c9a6a" stroke-width="0.9" fill="none"/><path d="M98.4 164L103.8 169.4M98.4 169.4L103.8 164" stroke="#3c9a6a" stroke-width="0.9" fill="none"/>
<rect x="80.9" y="180.4" width="5.5" height="5.5" stroke="#3c9a6a" stroke-width="0.9" fill="none"/><path d="M80.9 180.4L86.3 185.9M80.9 185.9L86.3 180.4" stroke="#3c9a6a" stroke-width="0.9" fill="none"/>
<rect x="91.2" y="167.3" width="5.5" height="5.5" stroke="#3c9a6a" stroke-width="0.9" fill="none"/><path d="M91.2 167.3L96.7 172.8M91.2 172.8L96.7 167.3" stroke="#3c9a6a" stroke-width="0.9" fill="none"/>
<rect x="94" y="156.5" width="5.5" height="5.5" stroke="#3c9a6a" stroke-width="0.9" fill="none"/><path d="M94 156.5L99.5 162M94 162L99.5 156.5" stroke="#3c9a6a" stroke-width="0.9" fill="none"/>
<rect x="97.1" y="151.9" width="5.5" height="5.5" stroke="#3c9a6a" stroke-width="0.9" fill="none"/><path d="M97.1 151.9L102.5 157.4M97.1 157.4L102.5 151.9" stroke="#3c9a6a" stroke-width="0.9" fill="none"/>
<rect x="82.8" y="156.2" width="5.5" height="5.5" stroke="#3c9a6a" stroke-width="0.9" fill="none"/><path d="M82.8 156.2L88.2 161.7M82.8 161.7L88.2 156.2" stroke="#3c9a6a" stroke-width="0.9" fill="none"/>
<rect x="91.5" y="174.8" width="5.5" height="5.5" stroke="#3c9a6a" stroke-width="0.9" fill="none"/><path d="M91.5 174.8L96.9 180.3M91.5 180.3L96.9 174.8" stroke="#3c9a6a" stroke-width="0.9" fill="none"/>
<rect x="94.1" y="149.9" width="5.5" height="5.5" stroke="#3c9a6a" stroke-width="0.9" fill="none"/><path d="M94.1 149.9L99.5 155.4M94.1 155.4L99.5 149.9" stroke="#3c9a6a" stroke-width="0.9" fill="none"/>
<rect x="87.1" y="193.5" width="5.5" height="5.5" stroke="#3c9a6a" stroke-width="0.9" fill="none"/><path d="M87.1 193.5L92.6 199M87.1 199L92.6 193.5" stroke="#3c9a6a" stroke-width="0.9" fill="none"/>
<rect x="91.6" y="173.5" width="5.5" height="5.5" stroke="#3c9a6a" stroke-width="0.9" fill="none"/><path d="M91.6 173.5L97.1 179M91.6 179L97.1 173.5" stroke="#3c9a6a" stroke-width="0.9" fill="none"/>
<rect x="83.2" y="174.9" width="5.5" height="5.5" stroke="#3c9a6a" stroke-width="0.9" fill="none"/><path d="M83.2 174.9L88.6 180.4M83.2 180.4L88.6 174.9" stroke="#3c9a6a" stroke-width="0.9" fill="none"/>
<rect x="77.6" y="200.9" width="5.5" height="5.5" stroke="#3c9a6a" stroke-width="0.9" fill="none"/><path d="M77.6 200.9L83.1 206.4M77.6 206.4L83.1 200.9" stroke="#3c9a6a" stroke-width="0.9" fill="none"/>
<rect x="85.4" y="179.3" width="5.5" height="5.5" stroke="#3c9a6a" stroke-width="0.9" fill="none"/><path d="M85.4 179.3L90.8 184.8M85.4 184.8L90.8 179.3" stroke="#3c9a6a" stroke-width="0.9" fill="none"/>
<rect x="91.1" y="192.1" width="5.5" height="5.5" stroke="#3c9a6a" stroke-width="0.9" fill="none"/><path d="M91.1 192.1L96.6 197.6M91.1 197.6L96.6 192.1" stroke="#3c9a6a" stroke-width="0.9" fill="none"/>
<rect x="83.9" y="195.6" width="5.5" height="5.5" stroke="#3c9a6a" stroke-width="0.9" fill="none"/><path d="M83.9 195.6L89.3 201.1M83.9 201.1L89.3 195.6" stroke="#3c9a6a" stroke-width="0.9" fill="none"/>
<rect x="83.6" y="185.8" width="5.5" height="5.5" stroke="#3c9a6a" stroke-width="0.9" fill="none"/><path d="M83.6 185.8L89.1 191.3M83.6 191.3L89.1 185.8" stroke="#3c9a6a" stroke-width="0.9" fill="none"/>
<rect x="83.5" y="194.2" width="5.5" height="5.5" stroke="#3c9a6a" stroke-width="0.9" fill="none"/><path d="M83.5 194.2L88.9 199.7M83.5 199.7L88.9 194.2" stroke="#3c9a6a" stroke-width="0.9" fill="none"/>
<rect x="85.4" y="184.2" width="5.5" height="5.5" stroke="#3c9a6a" stroke-width="0.9" fill="none"/><path d="M85.4 184.2L90.9 189.7M85.4 189.7L90.9 184.2" stroke="#3c9a6a" stroke-width="0.9" fill="none"/>
<rect x="83.9" y="199.9" width="5.5" height="5.5" stroke="#3c9a6a" stroke-width="0.9" fill="none"/><path d="M83.9 199.9L89.4 205.3M83.9 205.3L89.4 199.9" stroke="#3c9a6a" stroke-width="0.9" fill="none"/>
<rect x="96.2" y="156.9" width="5.5" height="5.5" stroke="#3c9a6a" stroke-width="0.9" fill="none"/><path d="M96.2 156.9L101.7 162.4M96.2 162.4L101.7 156.9" stroke="#3c9a6a" stroke-width="0.9" fill="none"/>
<rect x="81.7" y="156.2" width="5.5" height="5.5" stroke="#3c9a6a" stroke-width="0.9" fill="none"/><path d="M81.7 156.2L87.1 161.7M81.7 161.7L87.1 156.2" stroke="#3c9a6a" stroke-width="0.9" fill="none"/>
<rect x="78.8" y="196" width="5.5" height="5.5" stroke="#3c9a6a" stroke-width="0.9" fill="none"/><path d="M78.8 196L84.2 201.5M78.8 201.5L84.2 196" stroke="#3c9a6a" stroke-width="0.9" fill="none"/>
<rect x="100.4" y="161.2" width="5.5" height="5.5" stroke="#3c9a6a" stroke-width="0.9" fill="none"/><path d="M100.4 161.2L105.8 166.6M100.4 166.6L105.8 161.2" stroke="#3c9a6a" stroke-width="0.9" fill="none"/>
<rect x="96.3" y="163.5" width="5.5" height="5.5" stroke="#3c9a6a" stroke-width="0.9" fill="none"/><path d="M96.3 163.5L101.8 169M96.3 169L101.8 163.5" stroke="#3c9a6a" stroke-width="0.9" fill="none"/>
<rect x="88" y="151.7" width="5.5" height="5.5" stroke="#3c9a6a" stroke-width="0.9" fill="none"/><path d="M88 151.7L93.5 157.2M88 157.2L93.5 151.7" stroke="#3c9a6a" stroke-width="0.9" fill="none"/>
<rect x="91.2" y="162" width="5.5" height="5.5" stroke="#3c9a6a" stroke-width="0.9" fill="none"/><path d="M91.2 162L96.7 167.5M91.2 167.5L96.7 162" stroke="#3c9a6a" stroke-width="0.9" fill="none"/>
<rect x="82" y="149.7" width="5.5" height="5.5" stroke="#3c9a6a" stroke-width="0.9" fill="none"/><path d="M82 149.7L87.4 155.2M82 155.2L87.4 149.7" stroke="#3c9a6a" stroke-width="0.9" fill="none"/>
<rect x="84.9" y="178.4" width="5.5" height="5.5" stroke="#3c9a6a" stroke-width="0.9" fill="none"/><path d="M84.9 178.4L90.4 183.8M84.9 183.8L90.4 178.4" stroke="#3c9a6a" stroke-width="0.9" fill="none"/>
<rect x="99.7" y="165.9" width="5.5" height="5.5" stroke="#3c9a6a" stroke-width="0.9" fill="none"/><path d="M99.7 165.9L105.1 171.3M99.7 171.3L105.1 165.9" stroke="#3c9a6a" stroke-width="0.9" fill="none"/>
<rect x="92.2" y="170.7" width="5.5" height="5.5" stroke="#3c9a6a" stroke-width="0.9" fill="none"/><path d="M92.2 170.7L97.7 176.2M92.2 176.2L97.7 170.7" stroke="#3c9a6a" stroke-width="0.9" fill="none"/>
<rect x="95.4" y="163.8" width="5.5" height="5.5" stroke="#3c9a6a" stroke-width="0.9" fill="none"/><path d="M95.4 163.8L100.9 169.3M95.4 169.3L100.9 163.8" stroke="#3c9a6a" stroke-width="0.9" fill="none"/>
<rect x="82.8" y="160.2" width="5.5" height="5.5" stroke="#3c9a6a" stroke-width="0.9" fill="none"/><path d="M82.8 160.2L88.2 165.7M82.8 165.7L88.2 160.2" stroke="#3c9a6a" stroke-width="0.9" fill="none"/>
<rect x="79.5" y="167.4" width="5.5" height="5.5" stroke="#3c9a6a" stroke-width="0.9" fill="none"/><path d="M79.5 167.4L84.9 172.9M79.5 172.9L84.9 167.4" stroke="#3c9a6a" stroke-width="0.9" fill="none"/>
<rect x="90.6" y="168.6" width="5.5" height="5.5" stroke="#3c9a6a" stroke-width="0.9" fill="none"/><path d="M90.6 168.6L96.1 174.1M90.6 174.1L96.1 168.6" stroke="#3c9a6a" stroke-width="0.9" fill="none"/>
<rect x="83.5" y="202.4" width="5.5" height="5.5" stroke="#3c9a6a" stroke-width="0.9" fill="none"/><path d="M83.5 202.4L88.9 207.9M83.5 207.9L88.9 202.4" stroke="#3c9a6a" stroke-width="0.9" fill="none"/>
<rect x="89.8" y="151.1" width="5.5" height="5.5" stroke="#3c9a6a" stroke-width="0.9" fill="none"/><path d="M89.8 151.1L95.3 156.6M89.8 156.6L95.3 151.1" stroke="#3c9a6a" stroke-width="0.9" fill="none"/>
<rect x="80.8" y="184.8" width="5.5" height="5.5" stroke="#3c9a6a" stroke-width="0.9" fill="none"/><path d="M80.8 184.8L86.3 190.2M80.8 190.2L86.3 184.8" stroke="#3c9a6a" stroke-width="0.9" fill="none"/>
<rect x="84.7" y="159.4" width="5.5" height="5.5" stroke="#3c9a6a" stroke-width="0.9" fill="none"/><path d="M84.7 159.4L90.2 164.9M84.7 164.9L90.2 159.4" stroke="#3c9a6a" stroke-width="0.9" fill="none"/>
<rect x="99" y="170.5" width="5.5" height="5.5" stroke="#3c9a6a" stroke-width="0.9" fill="none"/><path d="M99 170.5L104.4 176M99 176L104.4 170.5" stroke="#3c9a6a" stroke-width="0.9" fill="none"/>
<rect x="85.4" y="194.6" width="5.5" height="5.5" stroke="#3c9a6a" stroke-width="0.9" fill="none"/><path d="M85.4 194.6L90.9 200.1M85.4 200.1L90.9 194.6" stroke="#3c9a6a" stroke-width="0.9" fill="none"/>
<rect x="85.7" y="156.9" width="5.5" height="5.5" stroke="#3c9a6a" stroke-width="0.9" fill="none"/><path d="M85.7 156.9L91.2 162.4M85.7 162.4L91.2 156.9" stroke="#3c9a6a" stroke-width="0.9" fill="none"/>
<rect x="95.6" y="146.2" width="5.5" height="5.5" stroke="#3c9a6a" stroke-width="0.9" fill="none"/><path d="M95.6 146.2L101.1 151.6M95.6 151.6L101.1 146.2" stroke="#3c9a6a" stroke-width="0.9" fill="none"/>
<rect x="80.9" y="193" width="5.5" height="5.5" stroke="#3c9a6a" stroke-width="0.9" fill="none"/><path d="M80.9 193L86.4 198.5M80.9 198.5L86.4 193" stroke="#3c9a6a" stroke-width="0.9" fill="none"/>
<rect x="80.4" y="183" width="5.5" height="5.5" stroke="#3c9a6a" stroke-width="0.9" fill="none"/><path d="M80.4 183L85.9 188.5M80.4 188.5L85.9 183" stroke="#3c9a6a" stroke-width="0.9" fill="none"/>
<rect x="90.1" y="167" width="5.5" height="5.5" stroke="#3c9a6a" stroke-width="0.9" fill="none"/><path d="M90.1 167L95.6 172.5M90.1 172.5L95.6 167" stroke="#3c9a6a" stroke-width="0.9" fill="none"/>
<rect x="89.1" y="188.6" width="5.5" height="5.5" stroke="#3c9a6a" stroke-width="0.9" fill="none"/><path d="M89.1 188.6L94.6 194M89.1 194L94.6 188.6" stroke="#3c9a6a" stroke-width="0.9" fill="none"/>
<rect x="88.2" y="140.6" width="5.5" height="5.5" stroke="#3c9a6a" stroke-width="0.9" fill="none"/><path d="M88.2 140.6L93.6 146M88.2 146L93.6 140.6" stroke="#3c9a6a" stroke-width="0.9" fill="none"/>
<rect x="113.3" y="162.3" width="5.5" height="5.5" stroke="#3c9a6a" stroke-width="0.9" fill="none"/><path d="M113.3 162.3L118.7 167.7M113.3 167.7L118.7 162.3" stroke="#3c9a6a" stroke-width="0.9" fill="none"/>
<rect x="101.3" y="161.3" width="5.5" height="5.5" stroke="#3c9a6a" stroke-width="0.9" fill="none"/><path d="M101.3 161.3L106.7 166.7M101.3 166.7L106.7 161.3" stroke="#3c9a6a" stroke-width="0.9" fill="none"/>
<rect x="97" y="148.3" width="5.5" height="5.5" stroke="#3c9a6a" stroke-width="0.9" fill="none"/><path d="M97 148.3L102.4 153.7M97 153.7L102.4 148.3" stroke="#3c9a6a" stroke-width="0.9" fill="none"/>
<rect x="112.8" y="162.7" width="5.5" height="5.5" stroke="#3c9a6a" stroke-width="0.9" fill="none"/><path d="M112.8 162.7L118.2 168.1M112.8 168.1L118.2 162.7" stroke="#3c9a6a" stroke-width="0.9" fill="none"/>
<rect x="131.9" y="164.5" width="5.5" height="5.5" stroke="#3c9a6a" stroke-width="0.9" fill="none"/><path d="M131.9 164.5L137.3 169.9M131.9 169.9L137.3 164.5" stroke="#3c9a6a" stroke-width="0.9" fill="none"/>
<rect x="135.4" y="164.5" width="5.5" height="5.5" stroke="#3c9a6a" stroke-width="0.9" fill="none"/><path d="M135.4 164.5L140.8 169.9M135.4 169.9L140.8 164.5" stroke="#3c9a6a" stroke-width="0.9" fill="none"/>
<rect x="145.9" y="165.7" width="5.5" height="5.5" stroke="#3c9a6a" stroke-width="0.9" fill="none"/><path d="M145.9 165.7L151.3 171.1M145.9 171.1L151.3 165.7" stroke="#3c9a6a" stroke-width="0.9" fill="none"/>
<rect x="149.4" y="165.7" width="5.5" height="5.5" stroke="#3c9a6a" stroke-width="0.9" fill="none"/><path d="M149.4 165.7L154.8 171.1M149.4 171.1L154.8 165.7" stroke="#3c9a6a" stroke-width="0.9" fill="none"/>
<rect x="147.1" y="168.5" width="5.5" height="5.5" stroke="#3c9a6a" stroke-width="0.9" fill="none"/><path d="M147.1 168.5L152.5 173.9M147.1 173.9L152.5 168.5" stroke="#3c9a6a" stroke-width="0.9" fill="none"/>
<rect x="149" y="175.1" width="5.5" height="5.5" stroke="#3c9a6a" stroke-width="0.9" fill="none"/><path d="M149 175.1L154.4 180.5M149 180.5L154.4 175.1" stroke="#3c9a6a" stroke-width="0.9" fill="none"/>
<rect x="143.6" y="168.5" width="5.5" height="5.5" stroke="#3c9a6a" stroke-width="0.9" fill="none"/><path d="M143.6 168.5L149 173.9M143.6 173.9L149 168.5" stroke="#3c9a6a" stroke-width="0.9" fill="none"/>
<rect x="147.3" y="163.3" width="5.5" height="5.5" stroke="#3c9a6a" stroke-width="0.9" fill="none"/><path d="M147.3 163.3L152.7 168.7M147.3 168.7L152.7 163.3" stroke="#3c9a6a" stroke-width="0.9" fill="none"/>
<rect x="73.8" y="164.3" width="5" height="5" fill="#55ffff"/>
<rect x="80.9" y="171.4" width="5" height="5" fill="#55ffff"/>
<rect x="75.6" y="168.2" width="5" height="5" fill="#55ffff"/>
<rect x="76.5" y="165.7" width="5" height="5" fill="#55ffff"/>
<rect x="69.5" y="168.8" width="5" height="5" fill="#55ffff"/>
<rect x="80.2" y="163.2" width="5" height="5" fill="#55ffff"/>
<rect x="81.3" y="166.7" width="5" height="5" fill="#55ffff"/>
<rect x="72" y="164.7" width="5" height="5" fill="#55ffff"/>
<rect x="80.1" y="174.3" width="5" height="5" fill="#55ffff"/>
<rect x="79" y="169.3" width="5" height="5" fill="#55ffff"/>
<rect x="75.6" y="171.8" width="5" height="5" fill="#55ffff"/>
<rect x="79.2" y="172.4" width="5" height="5" fill="#55ffff"/>
<rect x="72.3" y="172.3" width="5" height="5" fill="#55ffff"/>
<rect x="80.9" y="169.2" width="5" height="5" fill="#55ffff"/>
<rect x="77" y="167.3" width="5" height="5" fill="#55ffff"/>
<rect x="80.4" y="170" width="5" height="5" fill="#55ffff"/>
<rect x="77.6" y="163.9" width="5" height="5" fill="#55ffff"/>
<rect x="75.3" y="170.9" width="5" height="5" fill="#55ffff"/>
<circle cx="82.4" cy="201.5" r="2.7" fill="#77f5b5"/>
<circle cx="80.6" cy="196.7" r="2.7" fill="#77f5b5"/>
<circle cx="86.6" cy="198.9" r="2.7" fill="#77f5b5"/>
<circle cx="86.4" cy="206.4" r="2.7" fill="#77f5b5"/>
<circle cx="86.2" cy="206" r="2.7" fill="#77f5b5"/>
<circle cx="86.3" cy="207" r="2.7" fill="#77f5b5"/>
<circle cx="87.4" cy="203.2" r="2.7" fill="#77f5b5"/>
<circle cx="87.8" cy="202.2" r="2.7" fill="#77f5b5"/>
<circle cx="81" cy="198.3" r="2.7" fill="#77f5b5"/>
<circle cx="88.4" cy="199" r="2.7" fill="#77f5b5"/>
<circle cx="84.2" cy="207.1" r="2.7" fill="#77f5b5"/>
<circle cx="86.2" cy="205.9" r="2.7" fill="#77f5b5"/>
<circle cx="84.2" cy="201.6" r="2.7" fill="#77f5b5"/>
<circle cx="80.7" cy="197" r="2.7" fill="#77f5b5"/>
<polygon points="100.9,189.1 104.4,195 97.4,195" fill="#a04a20"/>
<polygon points="112.1,188.1 115.6,194 108.6,194" fill="#a04a20"/>
<polygon points="121.3,196.7 124.8,202.6 117.8,202.6" fill="#a04a20"/>
<polygon points="116.2,193.7 119.7,199.6 112.7,199.6" fill="#a04a20"/>
<polygon points="120.8,185 124.3,190.9 117.3,190.9" fill="#a04a20"/>
<polygon points="111.3,186.4 114.8,192.3 107.8,192.3" fill="#a04a20"/>
<polygon points="115.7,194.3 119.2,200.2 112.2,200.2" fill="#a04a20"/>
<polygon points="120,197 123.5,202.9 116.5,202.9" fill="#a04a20"/>
<polygon points="99.9,188.7 103.4,194.6 96.4,194.6" fill="#a04a20"/>
<polygon points="118,190.3 121.5,196.2 114.5,196.2" fill="#a04a20"/>
<polygon points="108.7,174.8 111.3,177.4 108.7,180 106.1,177.4" fill="#2f9a20"/>
<polygon points="116.6,176.2 119.2,178.8 116.6,181.4 114,178.8" fill="#2f9a20"/>
<polygon points="121.8,177 124.4,179.6 121.8,182.2 119.2,179.6" fill="#2f9a20"/>
<polygon points="99.9,178.8 102.5,181.4 99.9,184 97.3,181.4" fill="#2f9a20"/>
<polygon points="105.2,182.8 107.8,185.4 105.2,188 102.6,185.4" fill="#2f9a20"/>
<polygon points="130.6,180 133.2,182.6 130.6,185.2 128,182.6" fill="#2f9a20"/>
<polygon points="138.5,181.1 141.1,183.7 138.5,186.3 135.9,183.7" fill="#2f9a20"/>
<polygon points="99.3,178.4 101.9,181 99.3,183.6 96.7,181" fill="#2f9a20"/>
<polygon points="105,182.5 107.6,185.1 105,187.7 102.4,185.1" fill="#2f9a20"/>
<polygon points="114.5,161.3 117.1,163.9 114.5,166.5 111.9,163.9" fill="#2f9a20"/>
<polygon points="108.4,174.4 111,177 108.4,179.6 105.8,177" fill="#2f9a20"/>
<circle cx="72.3" cy="210.1" r="3" fill="#f0a020"/>
<circle cx="80.4" cy="207.6" r="3" fill="#f0a020"/>
<circle cx="83" cy="208.6" r="3" fill="#f0a020"/>
<circle cx="79.8" cy="206.8" r="3" fill="#f0a020"/>
<circle cx="94.7" cy="202.4" r="3" fill="#f0a020"/>
<circle cx="96.4" cy="206.8" r="3" fill="#f0a020"/>
<circle cx="100.8" cy="205.9" r="3" fill="#f0a020"/>
<circle cx="92.9" cy="207.7" r="3" fill="#f0a020"/>
<circle cx="93" cy="205.3" r="3" fill="#f0a020"/>
<circle cx="98.2" cy="201.1" r="3" fill="#f0a020"/>
<circle cx="99.8" cy="201.3" r="3" fill="#f0a020"/>
<circle cx="96.2" cy="200.6" r="3" fill="#f0a020"/>
<circle cx="97.5" cy="201.7" r="3" fill="#f0a020"/>
<circle cx="104.1" cy="203.7" r="3" fill="#f0a020"/>
<circle cx="102.6" cy="204.5" r="3" fill="#f0a020"/>
<circle cx="95.4" cy="208.1" r="3" fill="#f0a020"/>
<circle cx="94.6" cy="205.1" r="3" fill="#f0a020"/>
<circle cx="99.8" cy="209.5" r="3" fill="#f0a020"/>
<polygon points="103.9,184 106.7,188.8 101,188.8" stroke="#e6e68c" stroke-width="0.9" fill="none"/><polygon points="103.9,190.4 106.7,185.6 101,185.6" stroke="#e6e68c" stroke-width="0.9" fill="none"/>
<polygon points="100.4,205.7 103.3,210.4 97.5,210.4" stroke="#e6e68c" stroke-width="0.9" fill="none"/><polygon points="100.4,212 103.3,207.3 97.5,207.3" stroke="#e6e68c" stroke-width="0.9" fill="none"/>
<polygon points="106,191.7 108.8,196.4 103.1,196.4" stroke="#e6e68c" stroke-width="0.9" fill="none"/><polygon points="106,198 108.8,193.3 103.1,193.3" stroke="#e6e68c" stroke-width="0.9" fill="none"/>
<polygon points="95.8,189.3 98.7,194.1 92.9,194.1" stroke="#e6e68c" stroke-width="0.9" fill="none"/><polygon points="95.8,195.7 98.7,190.9 92.9,190.9" stroke="#e6e68c" stroke-width="0.9" fill="none"/>
<polygon points="104.6,187.1 107.5,191.9 101.7,191.9" stroke="#e6e68c" stroke-width="0.9" fill="none"/><polygon points="104.6,193.5 107.5,188.7 101.7,188.7" stroke="#e6e68c" stroke-width="0.9" fill="none"/>
<polygon points="106.5,189.2 109.4,194 103.6,194" stroke="#e6e68c" stroke-width="0.9" fill="none"/><polygon points="106.5,195.6 109.4,190.8 103.6,190.8" stroke="#e6e68c" stroke-width="0.9" fill="none"/>
<polygon points="103.7,199.5 106.5,204.2 100.8,204.2" stroke="#e6e68c" stroke-width="0.9" fill="none"/><polygon points="103.7,205.8 106.5,201.1 100.8,201.1" stroke="#e6e68c" stroke-width="0.9" fill="none"/>
<polygon points="97.4,195.3 100.3,200 94.5,200" stroke="#e6e68c" stroke-width="0.9" fill="none"/><polygon points="97.4,201.6 100.3,196.9 94.5,196.9" stroke="#e6e68c" stroke-width="0.9" fill="none"/>
<polygon points="102.8,189.3 105.7,194.1 99.9,194.1" stroke="#e6e68c" stroke-width="0.9" fill="none"/><polygon points="102.8,195.7 105.7,190.9 99.9,190.9" stroke="#e6e68c" stroke-width="0.9" fill="none"/>
<polygon points="101.4,197.9 104.3,202.7 98.6,202.7" stroke="#e6e68c" stroke-width="0.9" fill="none"/><polygon points="101.4,204.3 104.3,199.5 98.6,199.5" stroke="#e6e68c" stroke-width="0.9" fill="none"/>
<polygon points="96.4,195 99.3,199.8 93.6,199.8" stroke="#e6e68c" stroke-width="0.9" fill="none"/><polygon points="96.4,201.4 99.3,196.6 93.6,196.6" stroke="#e6e68c" stroke-width="0.9" fill="none"/>
<polygon points="102.4,194.5 105.2,199.3 99.5,199.3" stroke="#e6e68c" stroke-width="0.9" fill="none"/><polygon points="102.4,200.9 105.2,196.1 99.5,196.1" stroke="#e6e68c" stroke-width="0.9" fill="none"/>
<circle cx="107.5" cy="305.3" r="2.6" fill="#ff2020"/>
<circle cx="113.8" cy="312.8" r="2.6" fill="#ff2020"/>
<ellipse cx="111.2" cy="307" rx="20" ry="16" fill="none" stroke="#ee4444" stroke-width="1.6"/>
<circle cx="100.1" cy="356" r="3" stroke="#ff2020" stroke-width="0.9" fill="none"/><path d="M97.1 356H103.1M100.1 353V359" stroke="#ff2020" stroke-width="0.9" fill="none"/>
<circle cx="107" cy="355.4" r="3" stroke="#ff2020" stroke-width="0.9" fill="none"/><path d="M104 355.4H110M107 352.4V358.4" stroke="#ff2020" stroke-width="0.9" fill="none"/>
<circle cx="114.5" cy="350.6" r="3" stroke="#ff2020" stroke-width="0.9" fill="none"/><path d="M111.5 350.6H117.5M114.5 347.6V353.6" stroke="#ff2020" stroke-width="0.9" fill="none"/>
<circle cx="107.8" cy="387.4" r="3" stroke="#ff2020" stroke-width="0.9" fill="none"/><path d="M104.8 387.4H110.8M107.8 384.4V390.4" stroke="#ff2020" stroke-width="0.9" fill="none"/>
<polygon points="110.2,369.9 113.8,375.9 106.6,375.9" stroke="#ff2020" stroke-width="0.9" fill="none"/><polygon points="110.2,377.9 113.8,371.9 106.6,371.9" stroke="#ff2020" stroke-width="0.9" fill="none"/>
<polygon points="109.4,377 113,383 105.8,383" stroke="#ff2020" stroke-width="0.9" fill="none"/><polygon points="109.4,385 113,379 105.8,379" stroke="#ff2020" stroke-width="0.9" fill="none"/>
<polygon points="116.1,378.2 119.7,384.2 112.5,384.2" stroke="#ff2020" stroke-width="0.9" fill="none"/><polygon points="116.1,386.2 119.7,380.2 112.5,380.2" stroke="#ff2020" stroke-width="0.9" fill="none"/>
<circle cx="127.4" cy="369.3" r="3" stroke="#111111" stroke-width="0.9" fill="none"/><path d="M124.4 369.3H130.4M127.4 366.3V372.3" stroke="#111111" stroke-width="0.9" fill="none"/>
<circle cx="268.3" cy="288.2" r="3" stroke="#111111" stroke-width="0.9" fill="none"/><path d="M265.3 288.2H271.3M268.3 285.2V291.2" stroke="#111111" stroke-width="0.9" fill="none"/>
<circle cx="341.9" cy="253.2" r="3" stroke="#111111" stroke-width="0.9" fill="none"/><path d="M338.9 253.2H344.9M341.9 250.2V256.2" stroke="#111111" stroke-width="0.9" fill="none"/>
<circle cx="387.9" cy="248.1" r="3" stroke="#111111" stroke-width="0.9" fill="none"/><path d="M384.9 248.1H390.9M387.9 245.1V251.1" stroke="#111111" stroke-width="0.9" fill="none"/>
<circle cx="395.6" cy="252.8" r="3" stroke="#111111" stroke-width="0.9" fill="none"/><path d="M392.6 252.8H398.6M395.6 249.8V255.8" stroke="#111111" stroke-width="0.9" fill="none"/>
<circle cx="435.9" cy="235.4" r="3" stroke="#111111" stroke-width="0.9" fill="none"/><path d="M432.9 235.4H438.9M435.9 232.4V238.4" stroke="#111111" stroke-width="0.9" fill="none"/>
<circle cx="463.6" cy="211.3" r="3" stroke="#111111" stroke-width="0.9" fill="none"/><path d="M460.6 211.3H466.6M463.6 208.3V214.3" stroke="#111111" stroke-width="0.9" fill="none"/>
<circle cx="465.6" cy="212.6" r="3" stroke="#111111" stroke-width="0.9" fill="none"/><path d="M462.6 212.6H468.6M465.6 209.6V215.6" stroke="#111111" stroke-width="0.9" fill="none"/>
<circle cx="472.2" cy="208" r="3" stroke="#111111" stroke-width="0.9" fill="none"/><path d="M469.2 208H475.2M472.2 205V211" stroke="#111111" stroke-width="0.9" fill="none"/>
<circle cx="464.9" cy="217.9" r="3" stroke="#111111" stroke-width="0.9" fill="none"/><path d="M461.9 217.9H467.9M464.9 214.9V220.9" stroke="#111111" stroke-width="0.9" fill="none"/>
<circle cx="457" cy="220.5" r="3" stroke="#111111" stroke-width="0.9" fill="none"/><path d="M454 220.5H460M457 217.5V223.5" stroke="#111111" stroke-width="0.9" fill="none"/>
<circle cx="436.7" cy="235.6" r="3" stroke="#111111" stroke-width="0.9" fill="none"/><path d="M433.7 235.6H439.7M436.7 232.6V238.6" stroke="#111111" stroke-width="0.9" fill="none"/>
<circle cx="438" cy="236.9" r="3" stroke="#111111" stroke-width="0.9" fill="none"/><path d="M435 236.9H441M438 233.9V239.9" stroke="#111111" stroke-width="0.9" fill="none"/>
<circle cx="490.6" cy="201.4" r="3" stroke="#111111" stroke-width="0.9" fill="none"/><path d="M487.6 201.4H493.6M490.6 198.4V204.4" stroke="#111111" stroke-width="0.9" fill="none"/>
<circle cx="502.4" cy="194.2" r="3" stroke="#111111" stroke-width="0.9" fill="none"/><path d="M499.4 194.2H505.4M502.4 191.2V197.2" stroke="#111111" stroke-width="0.9" fill="none"/>
<circle cx="514.8" cy="180.9" r="3" stroke="#111111" stroke-width="0.9" fill="none"/><path d="M511.8 180.9H517.8M514.8 177.9V183.9" stroke="#111111" stroke-width="0.9" fill="none"/>
<circle cx="518.1" cy="183.5" r="3" stroke="#111111" stroke-width="0.9" fill="none"/><path d="M515.1 183.5H521.1M518.1 180.5V186.5" stroke="#111111" stroke-width="0.9" fill="none"/>
<circle cx="513.5" cy="187.5" r="3" stroke="#111111" stroke-width="0.9" fill="none"/><path d="M510.5 187.5H516.5M513.5 184.5V190.5" stroke="#111111" stroke-width="0.9" fill="none"/>
<circle cx="515.5" cy="188.8" r="3" stroke="#111111" stroke-width="0.9" fill="none"/><path d="M512.5 188.8H518.5M515.5 185.8V191.8" stroke="#111111" stroke-width="0.9" fill="none"/>
<circle cx="503.7" cy="192.7" r="3" stroke="#111111" stroke-width="0.9" fill="none"/><path d="M500.7 192.7H506.7M503.7 189.7V195.7" stroke="#111111" stroke-width="0.9" fill="none"/>
<circle cx="502.3" cy="194.7" r="3" stroke="#111111" stroke-width="0.9" fill="none"/><path d="M499.3 194.7H505.3M502.3 191.7V197.7" stroke="#111111" stroke-width="0.9" fill="none"/>
<circle cx="512.2" cy="196.6" r="3" stroke="#111111" stroke-width="0.9" fill="none"/><path d="M509.2 196.6H515.2M512.2 193.6V199.6" stroke="#111111" stroke-width="0.9" fill="none"/>
<circle cx="522" cy="191.4" r="3" stroke="#111111" stroke-width="0.9" fill="none"/><path d="M519 191.4H525M522 188.4V194.4" stroke="#111111" stroke-width="0.9" fill="none"/>
<circle cx="491.2" cy="200.6" r="3" stroke="#111111" stroke-width="0.9" fill="none"/><path d="M488.2 200.6H494.2M491.2 197.6V203.6" stroke="#111111" stroke-width="0.9" fill="none"/>
<circle cx="538.5" cy="178.3" r="3" stroke="#111111" stroke-width="0.9" fill="none"/><path d="M535.5 178.3H541.5M538.5 175.3V181.3" stroke="#111111" stroke-width="0.9" fill="none"/>
<circle cx="470" cy="206" r="3" stroke="#111111" stroke-width="0.9" fill="none"/><path d="M467 206H473M470 203V209" stroke="#111111" stroke-width="0.9" fill="none"/>
<circle cx="474" cy="203" r="3" stroke="#111111" stroke-width="0.9" fill="none"/><path d="M471 203H477M474 200V206" stroke="#111111" stroke-width="0.9" fill="none"/>
<polygon points="234.2,325.3 237.8,331.3 230.6,331.3" stroke="#111111" stroke-width="1.2" fill="none"/><polygon points="234.2,333.3 237.8,327.3 230.6,327.3" stroke="#111111" stroke-width="1.2" fill="none"/>
<rect x="345.1" y="301.3" width="5.8" height="5.8" stroke="#111111" stroke-width="0.9" fill="none"/><path d="M345.1 304.2H350.9M348 301.3V307.1" stroke="#111111" stroke-width="0.9" fill="none"/>
<rect x="213.4" y="345" width="4.9" height="4.9" stroke="#111111" stroke-width="1.1" fill="none"/><path d="M213.4 345L218.2 349.8M213.4 349.8L218.2 345" stroke="#111111" stroke-width="1.1" fill="none"/>
<rect x="208.3" y="351.5" width="4.9" height="4.9" stroke="#111111" stroke-width="1.1" fill="none"/><path d="M208.3 351.5L213.1 356.3M208.3 356.3L213.1 351.5" stroke="#111111" stroke-width="1.1" fill="none"/>
<rect x="212.6" y="358.5" width="4.9" height="4.9" stroke="#111111" stroke-width="1.1" fill="none"/><path d="M212.6 358.5L217.4 363.3M212.6 363.3L217.4 358.5" stroke="#111111" stroke-width="1.1" fill="none"/>
<polygon points="145.5,178.2 149.2,181.9 145.5,185.6 141.8,181.9" stroke="#111111" stroke-width="0.9" fill="none"/>
<polygon points="142,176.8 145.7,180.5 142,184.2 138.3,180.5" stroke="#111111" stroke-width="0.9" fill="none"/>
<rect x="107.1" y="226.5" width="6.6" height="6.6" fill="#ff2020"/>
<polygon points="85,252 88.8,258.4 81.2,258.4" fill="#ff2020"/>
<polygon points="98,252 101.8,258.4 94.2,258.4" fill="#ff2020"/>
<polygon points="112.5,269.8 116.2,273.5 112.5,277.2 108.8,273.5" stroke="#ff2020" stroke-width="0.9" fill="none"/><path d="M108.8 273.5H116.2M112.5 269.8V277.2" stroke="#ff2020" stroke-width="0.9" fill="none"/>
<polygon points="135.5,240.1 138.8,234.5 132.2,234.5" stroke="#111111" stroke-width="0.9" fill="none"/>
<polygon points="135.3,239.4 138.6,233.8 132,233.8" stroke="#111111" stroke-width="0.9" fill="none"/>
<polygon points="149.3,213.1 152.6,207.5 146,207.5" stroke="#111111" stroke-width="0.9" fill="none"/>
<polygon points="149,213.5 152.3,207.9 145.7,207.9" stroke="#111111" stroke-width="0.9" fill="none"/>
<path d="M112.4 207.2H118.8M115.6 204V210.4" stroke="#111111" stroke-width="0.9" fill="none"/><path d="M113.3 204.9L117.9 209.5M113.3 209.5L117.9 204.9" stroke="#111111" stroke-width="0.9" fill="none"/>
<path d="M109 207H115.4M112.2 203.8V210.2" stroke="#111111" stroke-width="0.9" fill="none"/><path d="M109.9 204.7L114.5 209.3M109.9 209.3L114.5 204.7" stroke="#111111" stroke-width="0.9" fill="none"/>
<path d="M111.8 206.1H118.2M115 202.9V209.3" stroke="#111111" stroke-width="0.9" fill="none"/><path d="M112.7 203.8L117.3 208.4M112.7 208.4L117.3 203.8" stroke="#111111" stroke-width="0.9" fill="none"/>
<path d="M110.9 212.4H117.3M114.1 209.2V215.6" stroke="#111111" stroke-width="0.9" fill="none"/><path d="M111.8 210.1L116.4 214.7M111.8 214.7L116.4 210.1" stroke="#111111" stroke-width="0.9" fill="none"/>
<path d="M107.7 203H114.1M110.9 199.8V206.2" stroke="#111111" stroke-width="0.9" fill="none"/><path d="M108.6 200.7L113.2 205.3M108.6 205.3L113.2 200.7" stroke="#111111" stroke-width="0.9" fill="none"/>
<path d="M112.4 206.8H118.8M115.6 203.6V210" stroke="#111111" stroke-width="0.9" fill="none"/><path d="M113.3 204.5L117.9 209.1M113.3 209.1L117.9 204.5" stroke="#111111" stroke-width="0.9" fill="none"/>
<path d="M116.8 208.2H123.2M120 205V211.4" stroke="#111111" stroke-width="0.9" fill="none"/><path d="M117.7 205.9L122.3 210.6M117.7 210.6L122.3 205.9" stroke="#111111" stroke-width="0.9" fill="none"/>
<path d="M110.2 204H116.6M113.4 200.8V207.2" stroke="#111111" stroke-width="0.9" fill="none"/><path d="M111.1 201.7L115.7 206.3M111.1 206.3L115.7 201.7" stroke="#111111" stroke-width="0.9" fill="none"/>
<path d="M110.1 203.6H116.5M113.3 200.4V206.8" stroke="#111111" stroke-width="0.9" fill="none"/><path d="M111 201.3L115.6 206M111 206L115.6 201.3" stroke="#111111" stroke-width="0.9" fill="none"/>
<path d="M116.1 211H122.5M119.3 207.8V214.2" stroke="#111111" stroke-width="0.9" fill="none"/><path d="M117 208.7L121.6 213.3M117 213.3L121.6 208.7" stroke="#111111" stroke-width="0.9" fill="none"/>
<path d="M99.8 253H106.2M103 249.8V256.2" stroke="#111111" stroke-width="0.9" fill="none"/><path d="M100.7 250.7L105.3 255.3M100.7 255.3L105.3 250.7" stroke="#111111" stroke-width="0.9" fill="none"/>
<path d="M102.8 256H109.2M106 252.8V259.2" stroke="#111111" stroke-width="0.9" fill="none"/><path d="M103.7 253.7L108.3 258.3M103.7 258.3L108.3 253.7" stroke="#111111" stroke-width="0.9" fill="none"/>
<path d="M100.8 250H107.2M104 246.8V253.2" stroke="#111111" stroke-width="0.9" fill="none"/><path d="M101.7 247.7L106.3 252.3M101.7 252.3L106.3 247.7" stroke="#111111" stroke-width="0.9" fill="none"/>
<path d="M222.1 179.6H228.5M225.3 176.4V182.8" stroke="#111111" stroke-width="0.9" fill="none"/><path d="M223 177.3L227.6 181.9M223 181.9L227.6 177.3" stroke="#111111" stroke-width="0.9" fill="none"/>
<circle cx="89.6" cy="203" r="3" stroke="#111111" stroke-width="0.9" fill="none"/>
<circle cx="99.9" cy="201" r="3" stroke="#111111" stroke-width="0.9" fill="none"/>
<circle cx="104.5" cy="201.5" r="3" stroke="#111111" stroke-width="0.9" fill="none"/>
<circle cx="88.1" cy="215.8" r="3" stroke="#111111" stroke-width="0.9" fill="none"/>
<circle cx="107" cy="212.7" r="3" stroke="#111111" stroke-width="0.9" fill="none"/>
<circle cx="108.5" cy="214.7" r="3" stroke="#111111" stroke-width="0.9" fill="none"/>
<circle cx="105" cy="217.3" r="3" stroke="#111111" stroke-width="0.9" fill="none"/>
<circle cx="116.7" cy="217.3" r="3" stroke="#111111" stroke-width="0.9" fill="none"/>
<circle cx="112.1" cy="221.9" r="3" stroke="#111111" stroke-width="0.9" fill="none"/>
<circle cx="113.1" cy="194.8" r="3" stroke="#111111" stroke-width="0.9" fill="none"/>
<circle cx="128" cy="207.6" r="3" stroke="#111111" stroke-width="0.9" fill="none"/>
<circle cx="127" cy="200.4" r="3" stroke="#111111" stroke-width="0.9" fill="none"/>
<circle cx="84.5" cy="231.7" r="3" stroke="#111111" stroke-width="0.9" fill="none"/>
<circle cx="113" cy="195.4" r="3" stroke="#111111" stroke-width="0.9" fill="none"/>
<circle cx="128.8" cy="206.8" r="3" stroke="#111111" stroke-width="0.9" fill="none"/>
<circle cx="135.8" cy="203.3" r="3" stroke="#111111" stroke-width="0.9" fill="none"/>
<circle cx="106" cy="212.9" r="3" stroke="#111111" stroke-width="0.9" fill="none"/>
<circle cx="116.6" cy="216.4" r="3" stroke="#111111" stroke-width="0.9" fill="none"/>
<circle cx="112.2" cy="221.7" r="3" stroke="#111111" stroke-width="0.9" fill="none"/>
<circle cx="88.2" cy="216.4" r="3" stroke="#111111" stroke-width="0.9" fill="none"/>
<path d="M139.4 203.3H146.4M142.9 199.8V206.8" stroke="#111111" stroke-width="0.9" fill="none"/>
<rect x="219.8" y="186.4" width="5.2" height="5.2" stroke="#111111" stroke-width="0.9" fill="none"/><path d="M219.8 186.4L225 191.6M219.8 191.6L225 186.4" stroke="#111111" stroke-width="0.9" fill="none"/>
<polygon points="90.7,188.8 94,194.4 87.4,194.4" stroke="#111111" stroke-width="0.9" fill="none"/>
<polygon points="101.9,188.8 105.2,194.4 98.6,194.4" stroke="#111111" stroke-width="0.9" fill="none"/>
<polygon points="125.4,192.8 128.7,198.4 122.1,198.4" stroke="#111111" stroke-width="0.9" fill="none"/>
<polygon points="122.3,179.6 125.6,185.2 119,185.2" stroke="#111111" stroke-width="0.9" fill="none"/>
<polygon points="108,202 111.3,207.6 104.7,207.6" stroke="#111111" stroke-width="0.9" fill="none"/>
<polygon points="134.6,209.1 137.9,214.7 131.3,214.7" stroke="#111111" stroke-width="0.9" fill="none"/>
<polygon points="126.2,174.4 129.5,180 122.9,180" stroke="#111111" stroke-width="0.9" fill="none"/>
<polygon points="140.2,176.1 143.5,181.7 136.9,181.7" stroke="#111111" stroke-width="0.9" fill="none"/>
<polygon points="124.7,193.7 128,199.3 121.4,199.3" stroke="#111111" stroke-width="0.9" fill="none"/>
<polygon points="109.6,201.5 112.9,207.1 106.3,207.1" stroke="#111111" stroke-width="0.9" fill="none"/>
<path d="M97.8 167.3L103.2 172.7M97.8 172.7L103.2 167.3" stroke="#111111" stroke-width="0.9" fill="none"/>
<text x="56.2" y="136.9" font-size="16.2" fill="#3ca36c">East/SE Asia</text>
<text x="157.7" y="215.9" font-size="16.2" fill="#f08c6c">w. Indonesia</text>
<text transform="translate(67.1 282.2) rotate(-90)" font-size="16.2" fill="#3a9a8c">Taiwan</text>
<text x="120.5" y="273.2" font-size="16.2" fill="#a838b8">Philippines</text>
<text transform="translate(220.5 300) rotate(-35)" font-size="16.2" fill="#66eedd">Micronesia</text>
<text x="173.7" y="396.3" font-size="16.2" fill="#66c4ee">Polynesia</text>
<text x="272.3" y="395.2" font-size="16.2" fill="#6d5ad6">Solomon Islands</text>
<text x="404.7" y="360.4" font-size="16.2" fill="#40a030">Bougainville</text>
<text transform="translate(443.5 306) rotate(-35.5)" font-size="16.2" fill="#40a030">Bismarck Archipelago</text>
<text transform="translate(494 293.5) rotate(-35.5)" font-size="16.2" fill="#e8408a">Vanuatu</text>
<text x="429.4" y="66" font-size="16.2" fill="#40a030">New Guinea</text>
<text x="53.4" y="331.3" font-size="14.2" fill="#ee2222">ancient</text>
<text x="57" y="349.9" font-size="14.2" fill="#ee2222">Guam</text>
<text x="55.3" y="375.4" font-size="15.6" fill="#ee2222">early</text>
<text x="50.7" y="395.4" font-size="15.6" fill="#ee2222">Lapita</text>
<rect x="48.2" y="32.0" width="524.3" height="368.9" fill="none" stroke="#555555" stroke-width="1.3"/>
<line x1="62.7" y1="400.95" x2="62.7" y2="408.75" stroke="#555555" stroke-width="1.2"/>
<text x="62.7" y="427.8" font-size="12" text-anchor="middle" fill="#222">−0.2</text>
<line x1="182.8" y1="400.95" x2="182.8" y2="408.75" stroke="#555555" stroke-width="1.2"/>
<text x="182.8" y="427.8" font-size="12" text-anchor="middle" fill="#222">−0.1</text>
<line x1="302.9" y1="400.95" x2="302.9" y2="408.75" stroke="#555555" stroke-width="1.2"/>
<text x="302.9" y="427.8" font-size="12" text-anchor="middle" fill="#222">0.0</text>
<line x1="423" y1="400.95" x2="423" y2="408.75" stroke="#555555" stroke-width="1.2"/>
<text x="423" y="427.8" font-size="12" text-anchor="middle" fill="#222">0.1</text>
<line x1="543.1" y1="400.95" x2="543.1" y2="408.75" stroke="#555555" stroke-width="1.2"/>
<text x="543.1" y="427.8" font-size="12" text-anchor="middle" fill="#222">0.2</text>
<line x1="40.400000000000006" y1="349.8" x2="48.2" y2="349.8" stroke="#555555" stroke-width="1.2"/>
<text transform="translate(31.3 349.8) rotate(-90)" font-size="12" text-anchor="middle" fill="#222">−0.10</text>
<line x1="40.400000000000006" y1="285.6" x2="48.2" y2="285.6" stroke="#555555" stroke-width="1.2"/>
<text transform="translate(31.3 285.6) rotate(-90)" font-size="12" text-anchor="middle" fill="#222">−0.05</text>
<line x1="40.400000000000006" y1="221.4" x2="48.2" y2="221.4" stroke="#555555" stroke-width="1.2"/>
<text transform="translate(31.3 221.4) rotate(-90)" font-size="12" text-anchor="middle" fill="#222">0.00</text>
<line x1="40.400000000000006" y1="157.2" x2="48.2" y2="157.2" stroke="#555555" stroke-width="1.2"/>
<text transform="translate(31.3 157.2) rotate(-90)" font-size="12" text-anchor="middle" fill="#222">0.05</text>
<line x1="40.400000000000006" y1="93" x2="48.2" y2="93" stroke="#555555" stroke-width="1.2"/>
<text transform="translate(31.3 93) rotate(-90)" font-size="12" text-anchor="middle" fill="#222">0.10</text>
<text x="294.3" y="459.9" font-size="12" fill="#222">PC1</text>
<text transform="translate(10.5 230) rotate(-90)" font-size="12" fill="#222">PC2</text>
<text x="12.3" y="43" font-size="21" fill="#111">a)</text>
<text x="12.3" y="489" font-size="21" fill="#111">b)</text>
<rect x="590.2" y="3.1" width="3.3" height="3.3" fill="#3c9f2c"/>
<text x="599.2" y="7.6" font-size="8.15" fill="#3c9f2c">New_Guinea_Main</text>
<circle cx="591.8" cy="14.3" r="1.9" stroke="#3c9f2c" stroke-width="0.8" fill="none"/>
<text x="599.2" y="17.2" font-size="8.15" fill="#3c9f2c">New_Guinea_Coastal</text>
<polygon points="591.8,21.7 593.9,25.2 589.7,25.2" fill="#3c9f2c"/>
<text x="599.2" y="26.8" font-size="8.15" fill="#3c9f2c">Bismarck_Archipelago</text>
<rect x="590" y="31.7" width="3.6" height="3.6" stroke="#3c9f2c" stroke-width="0.8" fill="none"/><path d="M590 31.7L593.6 35.3M590 35.3L593.6 31.7" stroke="#3c9f2c" stroke-width="0.8" fill="none"/>
<text x="599.2" y="36.4" font-size="8.15" fill="#3c9f2c">Bougainville</text>
<path d="M589.8 43.1H593.8M591.8 41.1V45.1" stroke="#7060dd" stroke-width="0.8" fill="none"/><path d="M590.4 41.7L593.2 44.5M590.4 44.5L593.2 41.7" stroke="#7060dd" stroke-width="0.8" fill="none"/>
<text x="599.2" y="46" font-size="8.15" fill="#7060dd">Western Solomon Is</text>
<rect x="590.2" y="51.1" width="3.3" height="3.3" fill="#7060dd"/>
<text x="599.2" y="55.6" font-size="8.15" fill="#7060dd">Eastern Solomon Is</text>
<circle cx="591.8" cy="62.3" r="1.9" stroke="#e8408a" stroke-width="0.8" fill="none"/><path d="M589.9 62.3H593.7M591.8 60.4V64.2" stroke="#e8408a" stroke-width="0.8" fill="none"/>
<text x="599.2" y="65.2" font-size="8.15" fill="#e8408a">Vanuatu</text>
<polygon points="591.8,69.6 594.1,71.9 591.8,74.2 589.5,71.9" stroke="#7060dd" stroke-width="0.8" fill="none"/>
<text x="599.2" y="74.8" font-size="8.15" fill="#7060dd">Polynesian Outliers</text>
<path d="M589.6 81.5H594M591.8 79.3V83.7" stroke="#44e022" stroke-width="0.8" fill="none"/>
<text x="599.2" y="84.4" font-size="8.15" fill="#44e022">Tonga</text>
<polygon points="591.8,88.8 594.1,91.1 591.8,93.4 589.5,91.1" stroke="#ee7744" stroke-width="0.8" fill="none"/><path d="M589.5 91.1H594.1M591.8 88.8V93.4" stroke="#ee7744" stroke-width="0.8" fill="none"/>
<text x="599.2" y="94" font-size="8.15" fill="#ee7744">Tahiti</text>
<polygon points="591.8,102.9 593.9,99.4 589.7,99.4" stroke="#46688a" stroke-width="0.8" fill="none"/>
<text x="599.2" y="103.6" font-size="8.15" fill="#46688a">Samoa</text>
<rect x="590" y="108.5" width="3.6" height="3.6" stroke="#4a90f0" stroke-width="0.8" fill="none"/><path d="M590 108.5L593.6 112.1M590 112.1L593.6 108.5" stroke="#4a90f0" stroke-width="0.8" fill="none"/>
<text x="599.2" y="113.2" font-size="8.15" fill="#4a90f0">Rapa_Nui</text>
<path d="M589.8 119.9H593.8M591.8 117.9V121.9" stroke="#5fe8d2" stroke-width="0.8" fill="none"/><path d="M590.4 118.5L593.2 121.3M590.4 121.3L593.2 118.5" stroke="#5fe8d2" stroke-width="0.8" fill="none"/>
<text x="599.2" y="122.8" font-size="8.15" fill="#5fe8d2">Micronesia</text>
<path d="M590.1 127.8L593.5 131.2M590.1 131.2L593.5 127.8" stroke="#a040b0" stroke-width="0.8" fill="none"/>
<text x="599.2" y="132.4" font-size="8.15" fill="#a040b0">Philippines: Mamanwa</text>
<circle cx="591.8" cy="139.1" r="1.9" stroke="#a040b0" stroke-width="0.8" fill="none"/><path d="M589.9 139.1H593.7M591.8 137.2V141" stroke="#a040b0" stroke-width="0.8" fill="none"/>
<text x="599.2" y="142" font-size="8.15" fill="#a040b0">Philippines: Kankanaey</text>
<circle cx="591.8" cy="148.7" r="1.7" fill="#a040b0"/>
<text x="599.2" y="151.6" font-size="8.15" fill="#a040b0">Philippines: Ilocano</text>
<polygon points="591.8,156.1 593.9,159.6 589.7,159.6" fill="#a040b0"/>
<text x="599.2" y="161.2" font-size="8.15" fill="#a040b0">Philippines: Tagalog</text>
<rect x="590" y="166.1" width="3.6" height="3.6" stroke="#a040b0" stroke-width="0.8" fill="none"/><path d="M590 167.9H593.6M591.8 166.1V169.7" stroke="#a040b0" stroke-width="0.8" fill="none"/>
<text x="599.2" y="170.8" font-size="8.15" fill="#a040b0">Philippines: Visayan</text>
<rect x="590" y="175.7" width="3.6" height="3.6" stroke="#f0a060" stroke-width="0.8" fill="none"/>
<text x="599.2" y="180.4" font-size="8.15" fill="#f0a060">Indonesia</text>
<circle cx="591.8" cy="187.1" r="1.9" stroke="#6aa0ee" stroke-width="0.8" fill="none"/><path d="M589.9 187.1H593.7M591.8 185.2V189" stroke="#6aa0ee" stroke-width="0.8" fill="none"/>
<text x="599.2" y="190" font-size="8.15" fill="#6aa0ee">Brunei</text>
<rect x="590" y="194.9" width="3.6" height="3.6" stroke="#3a9a8a" stroke-width="0.8" fill="none"/><path d="M590 198.5L591.8 194.9L593.6 198.5" stroke="#3a9a8a" stroke-width="0.8" fill="none"/>
<text x="599.2" y="199.6" font-size="8.15" fill="#3a9a8a">Taiwan</text>
<rect x="590" y="204.5" width="3.6" height="3.6" stroke="#e86030" stroke-width="0.8" fill="none"/><path d="M590 206.3H593.6M591.8 204.5V208.1" stroke="#e86030" stroke-width="0.8" fill="none"/>
<text x="599.2" y="209.2" font-size="8.15" fill="#e86030">Singapore</text>
<polygon points="591.8,213.2 594.2,217.2 589.4,217.2" stroke="#e6e68c" stroke-width="0.8" fill="none"/><polygon points="591.8,218.6 594.2,214.6 589.4,214.6" stroke="#e6e68c" stroke-width="0.8" fill="none"/>
<text x="599.2" y="218.8" font-size="8.15" fill="#e6e68c">Cambodia</text>
<rect x="590" y="223.7" width="3.6" height="3.6" stroke="#f06a5a" stroke-width="0.8" fill="none"/><path d="M590 225.5H593.6M591.8 223.7V227.3" stroke="#f06a5a" stroke-width="0.8" fill="none"/>
<text x="599.2" y="228.4" font-size="8.15" fill="#f06a5a">Japan</text>
<rect x="590" y="233.3" width="3.6" height="3.6" stroke="#3c9a6a" stroke-width="0.8" fill="none"/><path d="M590 233.3L593.6 236.9M590 236.9L593.6 233.3" stroke="#3c9a6a" stroke-width="0.8" fill="none"/>
<text x="599.2" y="238" font-size="8.15" fill="#3c9a6a">China</text>
<rect x="590.2" y="243.1" width="3.3" height="3.3" fill="#55ffff"/>
<text x="599.2" y="247.6" font-size="8.15" fill="#55ffff">South Korea</text>
<circle cx="591.8" cy="254.3" r="1.7" fill="#77f5b5"/>
<text x="599.2" y="257.2" font-size="8.15" fill="#77f5b5">Vietnam</text>
<polygon points="591.8,261.7 593.9,265.2 589.7,265.2" fill="#a04a20"/>
<text x="599.2" y="266.8" font-size="8.15" fill="#a04a20">Thailand</text>
<polygon points="591.8,271.6 593.7,273.5 591.8,275.4 589.9,273.5" fill="#2f9a20"/>
<text x="599.2" y="276.4" font-size="8.15" fill="#2f9a20">Myanmar</text>
<circle cx="591.8" cy="283.1" r="1.7" fill="#f0a020"/>
<text x="599.2" y="286" font-size="8.15" fill="#f0a020">Laos</text>
<circle cx="591.8" cy="292.7" r="1.7" fill="#ff2020"/>
<text x="599.2" y="295.6" font-size="8.15" fill="#ff2020">anc Guam</text>
<circle cx="591.8" cy="302.3" r="1.9" stroke="#ff2020" stroke-width="0.8" fill="none"/><path d="M589.9 302.3H593.7M591.8 300.4V304.2" stroke="#ff2020" stroke-width="0.8" fill="none"/>
<text x="599.2" y="305.2" font-size="8.15" fill="#ff2020">Lapita_Vanuatu</text>
<polygon points="591.8,309.2 594.2,313.2 589.4,313.2" stroke="#ff2020" stroke-width="0.8" fill="none"/><polygon points="591.8,314.6 594.2,310.6 589.4,310.6" stroke="#ff2020" stroke-width="0.8" fill="none"/>
<text x="599.2" y="314.8" font-size="8.15" fill="#ff2020">Lapita_Tonga</text>
<circle cx="591.8" cy="321.5" r="1.9" stroke="#111111" stroke-width="0.8" fill="none"/><path d="M589.9 321.5H593.7M591.8 319.6V323.4" stroke="#111111" stroke-width="0.8" fill="none"/>
<text x="599.2" y="324.4" font-size="8.15" fill="#111111">anc_Vanuatu</text>
<polygon points="591.8,328.4 594.2,332.4 589.4,332.4" stroke="#111111" stroke-width="0.8" fill="none"/><polygon points="591.8,333.8 594.2,329.8 589.4,329.8" stroke="#111111" stroke-width="0.8" fill="none"/>
<text x="599.2" y="334" font-size="8.15" fill="#111111">anc_Tonga</text>
<rect x="590" y="338.9" width="3.6" height="3.6" stroke="#111111" stroke-width="0.8" fill="none"/><path d="M590 340.7H593.6M591.8 338.9V342.5" stroke="#111111" stroke-width="0.8" fill="none"/>
<text x="599.2" y="343.6" font-size="8.15" fill="#111111">anc_Solomon_Islands</text>
<circle cx="591.8" cy="350.3" r="1.9" stroke="#111111" stroke-width="0.8" fill="none"/><path d="M590.5 349L593.1 351.6M590.5 351.6L593.1 349" stroke="#111111" stroke-width="0.8" fill="none"/>
<text x="599.2" y="353.2" font-size="8.15" fill="#111111">anc_French_Polynesia</text>
<polygon points="591.8,357.6 594.1,359.9 591.8,362.2 589.5,359.9" stroke="#111111" stroke-width="0.8" fill="none"/>
<text x="599.2" y="362.8" font-size="8.15" fill="#111111">anc_Japan</text>
<rect x="590.2" y="367.9" width="3.3" height="3.3" fill="#ff2020"/>
<text x="599.2" y="372.4" font-size="8.15" fill="#ff2020">anc_Taiwan_Liangdao</text>
<polygon points="591.8,376.9 593.9,380.4 589.7,380.4" fill="#ff2020"/>
<text x="599.2" y="382" font-size="8.15" fill="#ff2020">anc_Taiwan_Suogang</text>
<polygon points="591.8,386.4 594.1,388.7 591.8,391 589.5,388.7" stroke="#ff2020" stroke-width="0.8" fill="none"/><path d="M589.5 388.7H594.1M591.8 386.4V391" stroke="#ff2020" stroke-width="0.8" fill="none"/>
<text x="599.2" y="391.6" font-size="8.15" fill="#ff2020">Philippines_1850BP</text>
<polygon points="591.8,400.5 593.9,397 589.7,397" stroke="#111111" stroke-width="0.8" fill="none"/>
<text x="599.2" y="401.2" font-size="8.15" fill="#111111">anc_Indonesia</text>
<path d="M589.8 407.9H593.8M591.8 405.9V409.9" stroke="#111111" stroke-width="0.8" fill="none"/><path d="M590.4 406.5L593.2 409.3M590.4 409.3L593.2 406.5" stroke="#111111" stroke-width="0.8" fill="none"/>
<text x="599.2" y="410.8" font-size="8.15" fill="#111111">anc_Malaysia</text>
<circle cx="591.8" cy="417.5" r="1.9" stroke="#111111" stroke-width="0.8" fill="none"/>
<text x="599.2" y="420.4" font-size="8.15" fill="#111111">anc_Vietnam</text>
<path d="M589.6 427.1H594M591.8 424.9V429.3" stroke="#111111" stroke-width="0.8" fill="none"/>
<text x="599.2" y="430" font-size="8.15" fill="#111111">anc_Cambodia</text>
<rect x="590" y="434.9" width="3.6" height="3.6" stroke="#111111" stroke-width="0.8" fill="none"/><path d="M590 434.9L593.6 438.5M590 438.5L593.6 434.9" stroke="#111111" stroke-width="0.8" fill="none"/>
<text x="599.2" y="439.6" font-size="8.15" fill="#111111">anc_Laos</text>
<polygon points="591.8,444.1 593.9,447.6 589.7,447.6" stroke="#111111" stroke-width="0.8" fill="none"/>
<text x="599.2" y="449.2" font-size="8.15" fill="#111111">anc_Thailand</text>
<path d="M590.1 454.2L593.5 457.6M590.1 457.6L593.5 454.2" stroke="#111111" stroke-width="0.8" fill="none"/>
<text x="599.2" y="458.8" font-size="8.15" fill="#111111">anc_Myanmar</text>
</svg></body></html>
